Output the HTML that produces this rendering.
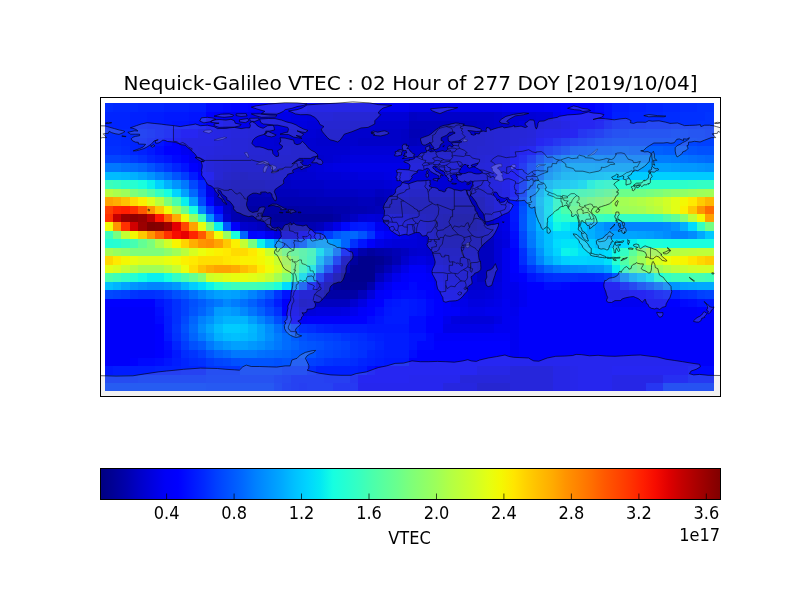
<!DOCTYPE html>
<html><head><meta charset="utf-8"><title>Nequick-Galileo VTEC</title>
<style>html,body{margin:0;padding:0;background:#fff;width:800px;height:600px;overflow:hidden}</style></head>
<body>
<svg width="800" height="600" viewBox="0 0 800 600" style="position:absolute;left:0;top:0">
<defs><clipPath id="ax"><rect x="100.5" y="97.5" width="620" height="299"/></clipPath>
<linearGradient id="jet" x1="0" x2="1" y1="0" y2="0"><stop offset="0.0000" stop-color="#000080"/><stop offset="0.0208" stop-color="#000096"/><stop offset="0.0417" stop-color="#0000ad"/><stop offset="0.0625" stop-color="#0000c8"/><stop offset="0.0833" stop-color="#0000df"/><stop offset="0.1042" stop-color="#0000f6"/><stop offset="0.1250" stop-color="#0000ff"/><stop offset="0.1458" stop-color="#0014ff"/><stop offset="0.1667" stop-color="#0028ff"/><stop offset="0.1875" stop-color="#0040ff"/><stop offset="0.2083" stop-color="#0054ff"/><stop offset="0.2292" stop-color="#0068ff"/><stop offset="0.2500" stop-color="#0080ff"/><stop offset="0.2708" stop-color="#0094ff"/><stop offset="0.2917" stop-color="#00a8ff"/><stop offset="0.3125" stop-color="#00c0ff"/><stop offset="0.3333" stop-color="#00d4ff"/><stop offset="0.3542" stop-color="#02e8f4"/><stop offset="0.3750" stop-color="#16ffe1"/><stop offset="0.3958" stop-color="#26ffd1"/><stop offset="0.4167" stop-color="#36ffc1"/><stop offset="0.4375" stop-color="#49ffad"/><stop offset="0.4583" stop-color="#5aff9d"/><stop offset="0.4792" stop-color="#6aff8d"/><stop offset="0.5000" stop-color="#7dff7a"/><stop offset="0.5208" stop-color="#8dff6a"/><stop offset="0.5417" stop-color="#9dff5a"/><stop offset="0.5625" stop-color="#b1ff46"/><stop offset="0.5833" stop-color="#c1ff36"/><stop offset="0.6042" stop-color="#d1ff26"/><stop offset="0.6250" stop-color="#e4ff13"/><stop offset="0.6458" stop-color="#f4f802"/><stop offset="0.6667" stop-color="#ffe600"/><stop offset="0.6875" stop-color="#ffd000"/><stop offset="0.7083" stop-color="#ffbd00"/><stop offset="0.7292" stop-color="#ffab00"/><stop offset="0.7500" stop-color="#ff9400"/><stop offset="0.7708" stop-color="#ff8200"/><stop offset="0.7917" stop-color="#ff6f00"/><stop offset="0.8125" stop-color="#ff5900"/><stop offset="0.8333" stop-color="#ff4700"/><stop offset="0.8542" stop-color="#ff3400"/><stop offset="0.8750" stop-color="#ff1e00"/><stop offset="0.8958" stop-color="#f60b00"/><stop offset="0.9167" stop-color="#df0000"/><stop offset="0.9375" stop-color="#c40000"/><stop offset="0.9583" stop-color="#ad0000"/><stop offset="0.9792" stop-color="#960000"/><stop offset="1.0000" stop-color="#800000"/></linearGradient></defs>
<rect x="0" y="0" width="800" height="600" fill="#fff"/>
<g shape-rendering="crispEdges">
<g transform="translate(105,103)"><rect height="9" x="0" width="8" fill="#002cff"/><rect height="9" x="8" width="25" fill="#0028ff"/><rect height="9" x="33" width="26" fill="#0024ff"/><rect height="9" x="59" width="25" fill="#0020ff"/><rect height="9" x="84" width="17" fill="#001cff"/><rect height="9" x="101" width="17" fill="#000cff"/><rect height="9" x="118" width="8" fill="#0008ff"/><rect height="9" x="126" width="17" fill="#0004ff"/><rect height="9" x="143" width="59" fill="#0000ff"/><rect height="9" x="202" width="102" fill="#0000f1"/><rect height="9" x="304" width="25" fill="#0000e8"/><rect height="9" x="329" width="68" fill="#0000ed"/><rect height="9" x="397" width="8" fill="#0000f1"/><rect height="9" x="405" width="34" fill="#0000f6"/><rect height="9" x="439" width="17" fill="#0000fa"/><rect height="9" x="456" width="34" fill="#0000ff"/><rect height="9" x="490" width="9" fill="#0008ff"/><rect height="9" x="499" width="8" fill="#0010ff"/><rect height="9" x="507" width="17" fill="#001cff"/><rect height="9" x="524" width="17" fill="#0020ff"/><rect height="9" x="541" width="17" fill="#0024ff"/><rect height="9" x="558" width="17" fill="#0028ff"/><rect height="9" x="575" width="17" fill="#002cff"/><rect height="9" x="592" width="17" fill="#0030ff"/></g>
<g transform="translate(105,112)"><rect height="9" x="0" width="25" fill="#0024ff"/><rect height="9" x="25" width="17" fill="#0020ff"/><rect height="9" x="42" width="17" fill="#001cff"/><rect height="9" x="59" width="25" fill="#0018ff"/><rect height="9" x="84" width="17" fill="#0014ff"/><rect height="9" x="101" width="8" fill="#0000ff"/><rect height="9" x="109" width="9" fill="#0000fa"/><rect height="9" x="118" width="34" fill="#0000ed"/><rect height="9" x="152" width="34" fill="#0000e8"/><rect height="9" x="186" width="16" fill="#0000e3"/><rect height="9" x="202" width="26" fill="#0000df"/><rect height="9" x="228" width="42" fill="#0000da"/><rect height="9" x="270" width="34" fill="#0000d6"/><rect height="9" x="304" width="8" fill="#0000c4"/><rect height="9" x="312" width="77" fill="#0000c8"/><rect height="9" x="389" width="8" fill="#0000cd"/><rect height="9" x="397" width="34" fill="#0000d6"/><rect height="9" x="431" width="17" fill="#0000da"/><rect height="9" x="448" width="8" fill="#0000f1"/><rect height="9" x="456" width="9" fill="#0000fa"/><rect height="9" x="465" width="34" fill="#0000ff"/><rect height="9" x="499" width="8" fill="#0010ff"/><rect height="9" x="507" width="17" fill="#0020ff"/><rect height="9" x="524" width="17" fill="#0024ff"/><rect height="9" x="541" width="17" fill="#0028ff"/><rect height="9" x="558" width="17" fill="#002cff"/><rect height="9" x="575" width="25" fill="#0030ff"/><rect height="9" x="600" width="9" fill="#0034ff"/></g>
<g transform="translate(105,121)"><rect height="8" x="0" width="25" fill="#0024ff"/><rect height="8" x="25" width="17" fill="#0020ff"/><rect height="8" x="42" width="17" fill="#001cff"/><rect height="8" x="59" width="8" fill="#0018ff"/><rect height="8" x="67" width="17" fill="#0014ff"/><rect height="8" x="84" width="9" fill="#0010ff"/><rect height="8" x="93" width="8" fill="#000cff"/><rect height="8" x="101" width="8" fill="#0000ff"/><rect height="8" x="109" width="9" fill="#0000fa"/><rect height="8" x="118" width="25" fill="#0000ed"/><rect height="8" x="143" width="26" fill="#0000e8"/><rect height="8" x="169" width="17" fill="#0000e3"/><rect height="8" x="186" width="16" fill="#0000df"/><rect height="8" x="202" width="17" fill="#0000da"/><rect height="8" x="219" width="26" fill="#0000d6"/><rect height="8" x="245" width="25" fill="#0000d1"/><rect height="8" x="270" width="34" fill="#0000cd"/><rect height="8" x="304" width="42" fill="#0000bb"/><rect height="8" x="346" width="26" fill="#0000bf"/><rect height="8" x="372" width="8" fill="#0000c4"/><rect height="8" x="380" width="9" fill="#0000c8"/><rect height="8" x="389" width="8" fill="#0000cd"/><rect height="8" x="397" width="8" fill="#0000d1"/><rect height="8" x="405" width="9" fill="#0000d6"/><rect height="8" x="414" width="8" fill="#0000df"/><rect height="8" x="422" width="17" fill="#0000e3"/><rect height="8" x="439" width="17" fill="#0000e8"/><rect height="8" x="456" width="9" fill="#0000f1"/><rect height="8" x="465" width="8" fill="#0000fa"/><rect height="8" x="473" width="17" fill="#0000ff"/><rect height="8" x="490" width="9" fill="#0008ff"/><rect height="8" x="499" width="8" fill="#0018ff"/><rect height="8" x="507" width="8" fill="#0024ff"/><rect height="8" x="515" width="26" fill="#0028ff"/><rect height="8" x="541" width="25" fill="#002cff"/><rect height="8" x="566" width="26" fill="#0030ff"/><rect height="8" x="592" width="17" fill="#0034ff"/></g>
<g transform="translate(105,129)"><rect height="9" x="0" width="16" fill="#002cff"/><rect height="9" x="16" width="26" fill="#0028ff"/><rect height="9" x="42" width="8" fill="#0024ff"/><rect height="9" x="50" width="9" fill="#001cff"/><rect height="9" x="59" width="8" fill="#0014ff"/><rect height="9" x="67" width="9" fill="#0008ff"/><rect height="9" x="76" width="17" fill="#0000ff"/><rect height="9" x="93" width="16" fill="#0000f1"/><rect height="9" x="109" width="9" fill="#0000ed"/><rect height="9" x="118" width="8" fill="#0000e8"/><rect height="9" x="126" width="17" fill="#0000e3"/><rect height="9" x="143" width="17" fill="#0000df"/><rect height="9" x="160" width="17" fill="#0000da"/><rect height="9" x="177" width="34" fill="#0000d6"/><rect height="9" x="211" width="34" fill="#0000d1"/><rect height="9" x="245" width="25" fill="#0000cd"/><rect height="9" x="270" width="26" fill="#0000c8"/><rect height="9" x="296" width="8" fill="#0000c4"/><rect height="9" x="304" width="17" fill="#0000b6"/><rect height="9" x="321" width="17" fill="#0000bb"/><rect height="9" x="338" width="8" fill="#0000bf"/><rect height="9" x="346" width="9" fill="#0000c8"/><rect height="9" x="355" width="8" fill="#0000cd"/><rect height="9" x="363" width="17" fill="#0000d1"/><rect height="9" x="380" width="9" fill="#0000d6"/><rect height="9" x="389" width="16" fill="#0000da"/><rect height="9" x="405" width="17" fill="#0000df"/><rect height="9" x="422" width="9" fill="#0000e3"/><rect height="9" x="431" width="8" fill="#0000f1"/><rect height="9" x="439" width="17" fill="#0000f6"/><rect height="9" x="456" width="9" fill="#0000fa"/><rect height="9" x="465" width="8" fill="#0000ff"/><rect height="9" x="473" width="9" fill="#0014ff"/><rect height="9" x="482" width="8" fill="#001cff"/><rect height="9" x="490" width="9" fill="#0024ff"/><rect height="9" x="499" width="8" fill="#0030ff"/><rect height="9" x="507" width="17" fill="#0038ff"/><rect height="9" x="524" width="42" fill="#003cff"/><rect height="9" x="566" width="17" fill="#0040ff"/><rect height="9" x="583" width="17" fill="#003cff"/><rect height="9" x="600" width="9" fill="#0038ff"/></g>
<g transform="translate(105,138)"><rect height="8" x="0" width="16" fill="#002cff"/><rect height="8" x="16" width="9" fill="#0028ff"/><rect height="8" x="25" width="17" fill="#0024ff"/><rect height="8" x="42" width="8" fill="#001cff"/><rect height="8" x="50" width="9" fill="#0014ff"/><rect height="8" x="59" width="8" fill="#0008ff"/><rect height="8" x="67" width="9" fill="#0000ff"/><rect height="8" x="76" width="8" fill="#0000f1"/><rect height="8" x="84" width="25" fill="#0000ed"/><rect height="8" x="109" width="9" fill="#0000e8"/><rect height="8" x="118" width="8" fill="#0000e3"/><rect height="8" x="126" width="17" fill="#0000df"/><rect height="8" x="143" width="9" fill="#0000da"/><rect height="8" x="152" width="17" fill="#0000d6"/><rect height="8" x="169" width="42" fill="#0000d1"/><rect height="8" x="211" width="42" fill="#0000cd"/><rect height="8" x="253" width="43" fill="#0000c8"/><rect height="8" x="296" width="8" fill="#0000c4"/><rect height="8" x="304" width="8" fill="#0000bb"/><rect height="8" x="312" width="26" fill="#0000bf"/><rect height="8" x="338" width="8" fill="#0000c4"/><rect height="8" x="346" width="9" fill="#0000c8"/><rect height="8" x="355" width="8" fill="#0000cd"/><rect height="8" x="363" width="17" fill="#0000d1"/><rect height="8" x="380" width="9" fill="#0000d6"/><rect height="8" x="389" width="16" fill="#0000da"/><rect height="8" x="405" width="9" fill="#0000df"/><rect height="8" x="414" width="8" fill="#0000e3"/><rect height="8" x="422" width="9" fill="#0000e8"/><rect height="8" x="431" width="8" fill="#0000ff"/><rect height="8" x="439" width="9" fill="#0008ff"/><rect height="8" x="448" width="8" fill="#0014ff"/><rect height="8" x="456" width="9" fill="#0020ff"/><rect height="8" x="465" width="8" fill="#0028ff"/><rect height="8" x="473" width="9" fill="#0030ff"/><rect height="8" x="482" width="8" fill="#0038ff"/><rect height="8" x="490" width="9" fill="#0040ff"/><rect height="8" x="499" width="8" fill="#0044ff"/><rect height="8" x="507" width="68" fill="#0048ff"/><rect height="8" x="575" width="17" fill="#0044ff"/><rect height="8" x="592" width="17" fill="#0040ff"/></g>
<g transform="translate(105,146)"><rect height="9" x="0" width="16" fill="#0030ff"/><rect height="9" x="16" width="9" fill="#002cff"/><rect height="9" x="25" width="8" fill="#0024ff"/><rect height="9" x="33" width="9" fill="#0020ff"/><rect height="9" x="42" width="8" fill="#0018ff"/><rect height="9" x="50" width="9" fill="#000cff"/><rect height="9" x="59" width="17" fill="#0000ff"/><rect height="9" x="76" width="8" fill="#0000f1"/><rect height="9" x="84" width="9" fill="#0000ed"/><rect height="9" x="93" width="16" fill="#0000e8"/><rect height="9" x="109" width="17" fill="#0000e3"/><rect height="9" x="126" width="17" fill="#0000df"/><rect height="9" x="143" width="17" fill="#0000da"/><rect height="9" x="160" width="26" fill="#0000d6"/><rect height="9" x="186" width="59" fill="#0000d1"/><rect height="9" x="245" width="59" fill="#0000d6"/><rect height="9" x="304" width="51" fill="#0000cd"/><rect height="9" x="355" width="17" fill="#0000d1"/><rect height="9" x="372" width="17" fill="#0000d6"/><rect height="9" x="389" width="8" fill="#0000da"/><rect height="9" x="397" width="8" fill="#0000df"/><rect height="9" x="405" width="9" fill="#0000ed"/><rect height="9" x="414" width="8" fill="#0000fa"/><rect height="9" x="422" width="9" fill="#0004ff"/><rect height="9" x="431" width="8" fill="#001cff"/><rect height="9" x="439" width="9" fill="#002cff"/><rect height="9" x="448" width="8" fill="#0038ff"/><rect height="9" x="456" width="9" fill="#0044ff"/><rect height="9" x="465" width="8" fill="#0054ff"/><rect height="9" x="473" width="9" fill="#0058ff"/><rect height="9" x="482" width="8" fill="#005cff"/><rect height="9" x="490" width="17" fill="#0060ff"/><rect height="9" x="507" width="17" fill="#0064ff"/><rect height="9" x="524" width="34" fill="#0060ff"/><rect height="9" x="558" width="17" fill="#005cff"/><rect height="9" x="575" width="8" fill="#0058ff"/><rect height="9" x="583" width="9" fill="#0054ff"/><rect height="9" x="592" width="17" fill="#0050ff"/></g>
<g transform="translate(105,155)"><rect height="8" x="0" width="16" fill="#0044ff"/><rect height="8" x="16" width="9" fill="#0040ff"/><rect height="8" x="25" width="8" fill="#0038ff"/><rect height="8" x="33" width="9" fill="#0030ff"/><rect height="8" x="42" width="8" fill="#0024ff"/><rect height="8" x="50" width="9" fill="#001cff"/><rect height="8" x="59" width="8" fill="#0014ff"/><rect height="8" x="67" width="9" fill="#0008ff"/><rect height="8" x="76" width="8" fill="#0000ff"/><rect height="8" x="84" width="9" fill="#0000f1"/><rect height="8" x="93" width="8" fill="#0000ed"/><rect height="8" x="101" width="8" fill="#0000e3"/><rect height="8" x="109" width="9" fill="#0000df"/><rect height="8" x="118" width="17" fill="#0000da"/><rect height="8" x="135" width="34" fill="#0000d6"/><rect height="8" x="169" width="25" fill="#0000d1"/><rect height="8" x="194" width="25" fill="#0000cd"/><rect height="8" x="219" width="9" fill="#0000d1"/><rect height="8" x="228" width="8" fill="#0000d6"/><rect height="8" x="236" width="9" fill="#0000da"/><rect height="8" x="245" width="59" fill="#0000df"/><rect height="8" x="304" width="17" fill="#0000da"/><rect height="8" x="321" width="42" fill="#0000d6"/><rect height="8" x="363" width="17" fill="#0000da"/><rect height="8" x="380" width="17" fill="#0000df"/><rect height="8" x="397" width="8" fill="#0000e3"/><rect height="8" x="405" width="9" fill="#0000fa"/><rect height="8" x="414" width="8" fill="#000cff"/><rect height="8" x="422" width="9" fill="#0024ff"/><rect height="8" x="431" width="8" fill="#0044ff"/><rect height="8" x="439" width="9" fill="#005cff"/><rect height="8" x="448" width="8" fill="#0070ff"/><rect height="8" x="456" width="9" fill="#0080ff"/><rect height="8" x="465" width="34" fill="#0088ff"/><rect height="8" x="499" width="25" fill="#0084ff"/><rect height="8" x="524" width="25" fill="#0080ff"/><rect height="8" x="549" width="17" fill="#007cff"/><rect height="8" x="566" width="9" fill="#0078ff"/><rect height="8" x="575" width="8" fill="#0074ff"/><rect height="8" x="583" width="9" fill="#0070ff"/><rect height="8" x="592" width="8" fill="#006cff"/><rect height="8" x="600" width="9" fill="#0068ff"/></g>
<g transform="translate(105,163)"><rect height="9" x="0" width="16" fill="#0078ff"/><rect height="9" x="16" width="9" fill="#0070ff"/><rect height="9" x="25" width="8" fill="#006cff"/><rect height="9" x="33" width="9" fill="#0064ff"/><rect height="9" x="42" width="8" fill="#0054ff"/><rect height="9" x="50" width="9" fill="#0044ff"/><rect height="9" x="59" width="8" fill="#0034ff"/><rect height="9" x="67" width="9" fill="#0024ff"/><rect height="9" x="76" width="8" fill="#0014ff"/><rect height="9" x="84" width="9" fill="#0000ff"/><rect height="9" x="93" width="8" fill="#0000f1"/><rect height="9" x="101" width="8" fill="#0000e3"/><rect height="9" x="109" width="9" fill="#0000da"/><rect height="9" x="118" width="8" fill="#0000d6"/><rect height="9" x="126" width="34" fill="#0000d1"/><rect height="9" x="160" width="26" fill="#0000cd"/><rect height="9" x="186" width="16" fill="#0000c8"/><rect height="9" x="202" width="9" fill="#0000d6"/><rect height="9" x="211" width="8" fill="#0000da"/><rect height="9" x="219" width="9" fill="#0000df"/><rect height="9" x="228" width="17" fill="#0000e3"/><rect height="9" x="245" width="59" fill="#0000e8"/><rect height="9" x="304" width="17" fill="#0000e3"/><rect height="9" x="321" width="17" fill="#0000df"/><rect height="9" x="338" width="25" fill="#0000da"/><rect height="9" x="363" width="17" fill="#0000df"/><rect height="9" x="380" width="17" fill="#0000e3"/><rect height="9" x="397" width="8" fill="#0000e8"/><rect height="9" x="405" width="9" fill="#0000ff"/><rect height="9" x="414" width="8" fill="#001cff"/><rect height="9" x="422" width="9" fill="#0040ff"/><rect height="9" x="431" width="8" fill="#0064ff"/><rect height="9" x="439" width="9" fill="#0084ff"/><rect height="9" x="448" width="8" fill="#0094ff"/><rect height="9" x="456" width="9" fill="#00a4ff"/><rect height="9" x="465" width="25" fill="#00a8ff"/><rect height="9" x="490" width="42" fill="#00a4ff"/><rect height="9" x="532" width="34" fill="#00a0ff"/><rect height="9" x="566" width="9" fill="#009cff"/><rect height="9" x="575" width="17" fill="#0098ff"/><rect height="9" x="592" width="8" fill="#0094ff"/><rect height="9" x="600" width="9" fill="#0090ff"/></g>
<g transform="translate(105,172)"><rect height="8" x="0" width="16" fill="#00bcff"/><rect height="8" x="16" width="9" fill="#00b8ff"/><rect height="8" x="25" width="8" fill="#00b0ff"/><rect height="8" x="33" width="9" fill="#00a4ff"/><rect height="8" x="42" width="8" fill="#0094ff"/><rect height="8" x="50" width="9" fill="#0080ff"/><rect height="8" x="59" width="8" fill="#006cff"/><rect height="8" x="67" width="9" fill="#0054ff"/><rect height="8" x="76" width="8" fill="#003cff"/><rect height="8" x="84" width="9" fill="#001cff"/><rect height="8" x="93" width="8" fill="#0000ff"/><rect height="8" x="101" width="8" fill="#0000fa"/><rect height="8" x="109" width="9" fill="#0000da"/><rect height="8" x="118" width="8" fill="#0000cd"/><rect height="8" x="126" width="9" fill="#0000c8"/><rect height="8" x="135" width="8" fill="#0000c4"/><rect height="8" x="143" width="26" fill="#0000c8"/><rect height="8" x="169" width="17" fill="#0000cd"/><rect height="8" x="186" width="25" fill="#0000d1"/><rect height="8" x="211" width="25" fill="#0000d6"/><rect height="8" x="236" width="17" fill="#0000da"/><rect height="8" x="253" width="26" fill="#0000df"/><rect height="8" x="279" width="8" fill="#0000e3"/><rect height="8" x="287" width="17" fill="#0000e8"/><rect height="8" x="304" width="85" fill="#0000da"/><rect height="8" x="389" width="8" fill="#0000e8"/><rect height="8" x="397" width="8" fill="#0000f1"/><rect height="8" x="405" width="9" fill="#0000ff"/><rect height="8" x="414" width="8" fill="#001cff"/><rect height="8" x="422" width="9" fill="#0040ff"/><rect height="8" x="431" width="8" fill="#0070ff"/><rect height="8" x="439" width="9" fill="#0094ff"/><rect height="8" x="448" width="8" fill="#00a8ff"/><rect height="8" x="456" width="9" fill="#00b8ff"/><rect height="8" x="465" width="8" fill="#00bcff"/><rect height="8" x="473" width="17" fill="#00c0ff"/><rect height="8" x="490" width="9" fill="#00c4ff"/><rect height="8" x="499" width="8" fill="#00c8ff"/><rect height="8" x="507" width="42" fill="#00ccff"/><rect height="8" x="549" width="26" fill="#00d0ff"/><rect height="8" x="575" width="34" fill="#00ccff"/></g>
<g transform="translate(105,180)"><rect height="9" x="0" width="8" fill="#3cffba"/><rect height="9" x="8" width="8" fill="#36ffc1"/><rect height="9" x="16" width="9" fill="#2cffca"/><rect height="9" x="25" width="8" fill="#26ffd1"/><rect height="9" x="33" width="9" fill="#19ffde"/><rect height="9" x="42" width="8" fill="#09f0ee"/><rect height="9" x="50" width="9" fill="#00d0ff"/><rect height="9" x="59" width="8" fill="#00b0ff"/><rect height="9" x="67" width="9" fill="#0094ff"/><rect height="9" x="76" width="8" fill="#0078ff"/><rect height="9" x="84" width="9" fill="#0048ff"/><rect height="9" x="93" width="8" fill="#0024ff"/><rect height="9" x="101" width="8" fill="#0000e3"/><rect height="9" x="109" width="9" fill="#0000c8"/><rect height="9" x="118" width="8" fill="#0000c4"/><rect height="9" x="126" width="34" fill="#0000bf"/><rect height="9" x="160" width="26" fill="#0000c4"/><rect height="9" x="186" width="33" fill="#0000c8"/><rect height="9" x="219" width="26" fill="#0000cd"/><rect height="9" x="245" width="34" fill="#0000d1"/><rect height="9" x="279" width="8" fill="#0000d6"/><rect height="9" x="287" width="9" fill="#0000da"/><rect height="9" x="296" width="8" fill="#0000df"/><rect height="9" x="304" width="76" fill="#0000d6"/><rect height="9" x="380" width="9" fill="#0000e3"/><rect height="9" x="389" width="8" fill="#0000e8"/><rect height="9" x="397" width="8" fill="#0000f1"/><rect height="9" x="405" width="9" fill="#0008ff"/><rect height="9" x="414" width="8" fill="#0030ff"/><rect height="9" x="422" width="9" fill="#0064ff"/><rect height="9" x="431" width="8" fill="#0094ff"/><rect height="9" x="439" width="9" fill="#00b8ff"/><rect height="9" x="448" width="8" fill="#00c8ff"/><rect height="9" x="456" width="9" fill="#00ccff"/><rect height="9" x="465" width="8" fill="#00d4ff"/><rect height="9" x="473" width="9" fill="#00e0fb"/><rect height="9" x="482" width="8" fill="#0ff8e7"/><rect height="9" x="490" width="9" fill="#1fffd7"/><rect height="9" x="499" width="16" fill="#26ffd1"/><rect height="9" x="515" width="68" fill="#2cffca"/><rect height="9" x="583" width="9" fill="#30ffc7"/><rect height="9" x="592" width="17" fill="#33ffc4"/></g>
<g transform="translate(105,189)"><rect height="8" x="0" width="8" fill="#b7ff40"/><rect height="8" x="8" width="8" fill="#aaff4d"/><rect height="8" x="16" width="9" fill="#9dff5a"/><rect height="8" x="25" width="8" fill="#7dff7a"/><rect height="8" x="33" width="9" fill="#6dff8a"/><rect height="8" x="42" width="8" fill="#53ffa4"/><rect height="8" x="50" width="9" fill="#33ffc4"/><rect height="8" x="59" width="8" fill="#16ffe1"/><rect height="8" x="67" width="9" fill="#00d4ff"/><rect height="8" x="76" width="8" fill="#00a0ff"/><rect height="8" x="84" width="9" fill="#0068ff"/><rect height="8" x="93" width="8" fill="#0030ff"/><rect height="8" x="101" width="8" fill="#0000e8"/><rect height="8" x="109" width="9" fill="#0000c8"/><rect height="8" x="118" width="8" fill="#0000bf"/><rect height="8" x="126" width="9" fill="#0000bb"/><rect height="8" x="135" width="25" fill="#0000b6"/><rect height="8" x="160" width="34" fill="#0000bb"/><rect height="8" x="194" width="25" fill="#0000bf"/><rect height="8" x="219" width="34" fill="#0000c4"/><rect height="8" x="253" width="17" fill="#0000c8"/><rect height="8" x="270" width="9" fill="#0000bf"/><rect height="8" x="279" width="8" fill="#0000c4"/><rect height="8" x="287" width="9" fill="#0000cd"/><rect height="8" x="296" width="8" fill="#0000d1"/><rect height="8" x="304" width="76" fill="#0000c8"/><rect height="8" x="380" width="9" fill="#0000d6"/><rect height="8" x="389" width="8" fill="#0000e3"/><rect height="8" x="397" width="8" fill="#0000ed"/><rect height="8" x="405" width="9" fill="#0008ff"/><rect height="8" x="414" width="8" fill="#0038ff"/><rect height="8" x="422" width="9" fill="#0078ff"/><rect height="8" x="431" width="8" fill="#00b0ff"/><rect height="8" x="439" width="9" fill="#00d4ff"/><rect height="8" x="448" width="8" fill="#0ff8e7"/><rect height="8" x="456" width="9" fill="#23ffd4"/><rect height="8" x="465" width="8" fill="#30ffc7"/><rect height="8" x="473" width="9" fill="#3cffba"/><rect height="8" x="482" width="8" fill="#43ffb4"/><rect height="8" x="490" width="9" fill="#50ffa7"/><rect height="8" x="499" width="8" fill="#5aff9d"/><rect height="8" x="507" width="8" fill="#63ff94"/><rect height="8" x="515" width="17" fill="#6dff8a"/><rect height="8" x="532" width="9" fill="#70ff87"/><rect height="8" x="541" width="8" fill="#77ff80"/><rect height="8" x="549" width="9" fill="#7dff7a"/><rect height="8" x="558" width="8" fill="#87ff70"/><rect height="8" x="566" width="9" fill="#8dff6a"/><rect height="8" x="575" width="8" fill="#90ff66"/><rect height="8" x="583" width="9" fill="#97ff60"/><rect height="8" x="592" width="8" fill="#9dff5a"/><rect height="8" x="600" width="9" fill="#a0ff56"/></g>
<g transform="translate(105,197)"><rect height="9" x="0" width="8" fill="#ffa300"/><rect height="9" x="8" width="8" fill="#ffae00"/><rect height="9" x="16" width="9" fill="#ffc100"/><rect height="9" x="25" width="8" fill="#ffdb00"/><rect height="9" x="33" width="9" fill="#fbf100"/><rect height="9" x="42" width="8" fill="#deff19"/><rect height="9" x="50" width="9" fill="#b7ff40"/><rect height="9" x="59" width="8" fill="#7dff7a"/><rect height="9" x="67" width="9" fill="#49ffad"/><rect height="9" x="76" width="8" fill="#09f0ee"/><rect height="9" x="84" width="9" fill="#00a0ff"/><rect height="9" x="93" width="8" fill="#0048ff"/><rect height="9" x="101" width="8" fill="#0004ff"/><rect height="9" x="109" width="9" fill="#0000c8"/><rect height="9" x="118" width="17" fill="#0000bb"/><rect height="9" x="135" width="34" fill="#0000ad"/><rect height="9" x="169" width="42" fill="#0000b2"/><rect height="9" x="211" width="42" fill="#0000b6"/><rect height="9" x="253" width="17" fill="#0000bb"/><rect height="9" x="270" width="9" fill="#0000b2"/><rect height="9" x="279" width="8" fill="#0000bb"/><rect height="9" x="287" width="9" fill="#0000bf"/><rect height="9" x="296" width="8" fill="#0000c4"/><rect height="9" x="304" width="76" fill="#0000bb"/><rect height="9" x="380" width="9" fill="#0000cd"/><rect height="9" x="389" width="8" fill="#0000df"/><rect height="9" x="397" width="8" fill="#0000e8"/><rect height="9" x="405" width="9" fill="#0014ff"/><rect height="9" x="414" width="8" fill="#0048ff"/><rect height="9" x="422" width="9" fill="#0088ff"/><rect height="9" x="431" width="8" fill="#00bcff"/><rect height="9" x="439" width="9" fill="#00e0fb"/><rect height="9" x="448" width="8" fill="#26ffd1"/><rect height="9" x="456" width="9" fill="#43ffb4"/><rect height="9" x="465" width="8" fill="#56ffa0"/><rect height="9" x="473" width="9" fill="#66ff90"/><rect height="9" x="482" width="8" fill="#73ff83"/><rect height="9" x="490" width="9" fill="#7dff7a"/><rect height="9" x="499" width="8" fill="#87ff70"/><rect height="9" x="507" width="8" fill="#9dff5a"/><rect height="9" x="515" width="9" fill="#a4ff53"/><rect height="9" x="524" width="8" fill="#aaff4d"/><rect height="9" x="532" width="9" fill="#b1ff46"/><rect height="9" x="541" width="8" fill="#baff3c"/><rect height="9" x="549" width="9" fill="#c4ff33"/><rect height="9" x="558" width="8" fill="#d1ff26"/><rect height="9" x="566" width="9" fill="#e1ff16"/><rect height="9" x="575" width="8" fill="#f4f802"/><rect height="9" x="583" width="9" fill="#ffea00"/><rect height="9" x="592" width="8" fill="#ffcc00"/><rect height="9" x="600" width="9" fill="#ffb600"/></g>
<g transform="translate(105,206)"><rect height="8" x="0" width="8" fill="#ff3f00"/><rect height="8" x="8" width="8" fill="#ff2500"/><rect height="8" x="16" width="9" fill="#ff1e00"/><rect height="8" x="25" width="8" fill="#ff3000"/><rect height="8" x="33" width="9" fill="#ff5900"/><rect height="8" x="42" width="8" fill="#ff9400"/><rect height="8" x="50" width="9" fill="#ffc800"/><rect height="8" x="59" width="8" fill="#f1fc06"/><rect height="8" x="67" width="9" fill="#aaff4d"/><rect height="8" x="76" width="8" fill="#6dff8a"/><rect height="8" x="84" width="9" fill="#16ffe1"/><rect height="8" x="93" width="8" fill="#0088ff"/><rect height="8" x="101" width="8" fill="#0038ff"/><rect height="8" x="109" width="9" fill="#0004ff"/><rect height="8" x="118" width="8" fill="#0000c4"/><rect height="8" x="126" width="9" fill="#0000b2"/><rect height="8" x="135" width="8" fill="#0000a8"/><rect height="8" x="143" width="51" fill="#0000a4"/><rect height="8" x="194" width="34" fill="#0000a8"/><rect height="8" x="228" width="17" fill="#0000ad"/><rect height="8" x="245" width="17" fill="#0000b2"/><rect height="8" x="262" width="8" fill="#0000b6"/><rect height="8" x="270" width="76" fill="#0000bb"/><rect height="8" x="346" width="26" fill="#0000b2"/><rect height="8" x="372" width="8" fill="#0000bb"/><rect height="8" x="380" width="9" fill="#0000c8"/><rect height="8" x="389" width="8" fill="#0000df"/><rect height="8" x="397" width="8" fill="#0000e8"/><rect height="8" x="405" width="9" fill="#0018ff"/><rect height="8" x="414" width="8" fill="#0050ff"/><rect height="8" x="422" width="9" fill="#0084ff"/><rect height="8" x="431" width="8" fill="#00b4ff"/><rect height="8" x="439" width="9" fill="#00e4f8"/><rect height="8" x="448" width="8" fill="#2cffca"/><rect height="8" x="456" width="9" fill="#49ffad"/><rect height="8" x="465" width="8" fill="#66ff90"/><rect height="8" x="473" width="9" fill="#77ff80"/><rect height="8" x="482" width="8" fill="#7dff7a"/><rect height="8" x="490" width="9" fill="#80ff77"/><rect height="8" x="499" width="8" fill="#87ff70"/><rect height="8" x="507" width="8" fill="#94ff63"/><rect height="8" x="515" width="9" fill="#9dff5a"/><rect height="8" x="524" width="8" fill="#a0ff56"/><rect height="8" x="532" width="9" fill="#a4ff53"/><rect height="8" x="541" width="8" fill="#b1ff46"/><rect height="8" x="549" width="9" fill="#baff3c"/><rect height="8" x="558" width="8" fill="#ceff29"/><rect height="8" x="566" width="9" fill="#e1ff16"/><rect height="8" x="575" width="8" fill="#fbf100"/><rect height="8" x="583" width="9" fill="#ffc800"/><rect height="8" x="592" width="8" fill="#ff9400"/><rect height="8" x="600" width="9" fill="#ff6c00"/></g>
<g transform="translate(105,214)"><rect height="8" x="0" width="8" fill="#ff3000"/><rect height="8" x="8" width="8" fill="#c40000"/><rect height="8" x="16" width="9" fill="#960000"/><rect height="8" x="25" width="8" fill="#8d0000"/><rect height="8" x="33" width="9" fill="#960000"/><rect height="8" x="42" width="8" fill="#bb0000"/><rect height="8" x="50" width="9" fill="#ff1600"/><rect height="8" x="59" width="8" fill="#ff6400"/><rect height="8" x="67" width="9" fill="#ffab00"/><rect height="8" x="76" width="8" fill="#f1fc06"/><rect height="8" x="84" width="9" fill="#97ff60"/><rect height="8" x="93" width="8" fill="#3cffba"/><rect height="8" x="101" width="8" fill="#0094ff"/><rect height="8" x="109" width="9" fill="#0030ff"/><rect height="8" x="118" width="8" fill="#0000d1"/><rect height="8" x="126" width="9" fill="#0000b2"/><rect height="8" x="135" width="8" fill="#0000a8"/><rect height="8" x="143" width="9" fill="#0000a4"/><rect height="8" x="152" width="17" fill="#00009f"/><rect height="8" x="169" width="59" fill="#00009b"/><rect height="8" x="228" width="8" fill="#0000a4"/><rect height="8" x="236" width="9" fill="#0000b6"/><rect height="8" x="245" width="8" fill="#0000c4"/><rect height="8" x="253" width="9" fill="#0000d6"/><rect height="8" x="262" width="8" fill="#0000da"/><rect height="8" x="270" width="9" fill="#0000d6"/><rect height="8" x="279" width="8" fill="#0000da"/><rect height="8" x="287" width="9" fill="#0000d6"/><rect height="8" x="296" width="8" fill="#0000d1"/><rect height="8" x="304" width="8" fill="#0000c8"/><rect height="8" x="312" width="9" fill="#0000c4"/><rect height="8" x="321" width="8" fill="#0000bf"/><rect height="8" x="329" width="9" fill="#0000b6"/><rect height="8" x="338" width="8" fill="#0000b2"/><rect height="8" x="346" width="26" fill="#0000a8"/><rect height="8" x="372" width="8" fill="#0000b6"/><rect height="8" x="380" width="9" fill="#0000c8"/><rect height="8" x="389" width="8" fill="#0000df"/><rect height="8" x="397" width="8" fill="#0000e8"/><rect height="8" x="405" width="9" fill="#0018ff"/><rect height="8" x="414" width="8" fill="#0054ff"/><rect height="8" x="422" width="9" fill="#0088ff"/><rect height="8" x="431" width="8" fill="#00b4ff"/><rect height="8" x="439" width="9" fill="#00e0fb"/><rect height="8" x="448" width="8" fill="#23ffd4"/><rect height="8" x="456" width="9" fill="#2cffca"/><rect height="8" x="465" width="8" fill="#36ffc1"/><rect height="8" x="473" width="17" fill="#3cffba"/><rect height="8" x="490" width="9" fill="#39ffbe"/><rect height="8" x="499" width="50" fill="#33ffc4"/><rect height="8" x="549" width="9" fill="#39ffbe"/><rect height="8" x="558" width="8" fill="#50ffa7"/><rect height="8" x="566" width="9" fill="#63ff94"/><rect height="8" x="575" width="8" fill="#87ff70"/><rect height="8" x="583" width="9" fill="#beff39"/><rect height="8" x="592" width="8" fill="#f4f802"/><rect height="8" x="600" width="9" fill="#ff9f00"/></g>
<g transform="translate(105,222)"><rect height="9" x="0" width="8" fill="#f1fc06"/><rect height="9" x="8" width="8" fill="#ff9400"/><rect height="9" x="16" width="9" fill="#ff3000"/><rect height="9" x="25" width="8" fill="#d10000"/><rect height="9" x="33" width="9" fill="#9b0000"/><rect height="9" x="42" width="8" fill="#800000"/><rect height="9" x="50" width="9" fill="#840000"/><rect height="9" x="59" width="8" fill="#9f0000"/><rect height="9" x="67" width="9" fill="#e40000"/><rect height="9" x="76" width="8" fill="#ff4700"/><rect height="9" x="84" width="9" fill="#ffa300"/><rect height="9" x="93" width="8" fill="#e7ff0f"/><rect height="9" x="101" width="8" fill="#7dff7a"/><rect height="9" x="109" width="9" fill="#09f0ee"/><rect height="9" x="118" width="8" fill="#0058ff"/><rect height="9" x="126" width="9" fill="#0000fa"/><rect height="9" x="135" width="8" fill="#0000cd"/><rect height="9" x="143" width="9" fill="#0000c8"/><rect height="9" x="152" width="8" fill="#0000bf"/><rect height="9" x="160" width="9" fill="#0000ad"/><rect height="9" x="169" width="17" fill="#0000a8"/><rect height="9" x="186" width="25" fill="#0000b2"/><rect height="9" x="211" width="8" fill="#0000bb"/><rect height="9" x="219" width="9" fill="#0000d1"/><rect height="9" x="228" width="8" fill="#0000e8"/><rect height="9" x="236" width="9" fill="#0008ff"/><rect height="9" x="245" width="8" fill="#0018ff"/><rect height="9" x="253" width="9" fill="#001cff"/><rect height="9" x="262" width="8" fill="#0014ff"/><rect height="9" x="270" width="9" fill="#0000f1"/><rect height="9" x="279" width="8" fill="#0000e8"/><rect height="9" x="287" width="9" fill="#0000e3"/><rect height="9" x="296" width="8" fill="#0000da"/><rect height="9" x="304" width="8" fill="#0000d6"/><rect height="9" x="312" width="9" fill="#0000cd"/><rect height="9" x="321" width="8" fill="#0000c4"/><rect height="9" x="329" width="9" fill="#0000b6"/><rect height="9" x="338" width="8" fill="#0000b2"/><rect height="9" x="346" width="17" fill="#0000ad"/><rect height="9" x="363" width="9" fill="#0000a8"/><rect height="9" x="372" width="8" fill="#0000b2"/><rect height="9" x="380" width="9" fill="#0000c4"/><rect height="9" x="389" width="8" fill="#0000df"/><rect height="9" x="397" width="8" fill="#0000e8"/><rect height="9" x="405" width="9" fill="#0014ff"/><rect height="9" x="414" width="8" fill="#0054ff"/><rect height="9" x="422" width="9" fill="#0088ff"/><rect height="9" x="431" width="8" fill="#00b4ff"/><rect height="9" x="439" width="9" fill="#00d4ff"/><rect height="9" x="448" width="8" fill="#0ff8e7"/><rect height="9" x="456" width="9" fill="#06ecf1"/><rect height="9" x="465" width="8" fill="#00dcfe"/><rect height="9" x="473" width="9" fill="#00c8ff"/><rect height="9" x="482" width="8" fill="#00b0ff"/><rect height="9" x="490" width="9" fill="#009cff"/><rect height="9" x="499" width="8" fill="#008cff"/><rect height="9" x="507" width="8" fill="#0088ff"/><rect height="9" x="515" width="43" fill="#0084ff"/><rect height="9" x="558" width="8" fill="#0088ff"/><rect height="9" x="566" width="9" fill="#0094ff"/><rect height="9" x="575" width="8" fill="#00b0ff"/><rect height="9" x="583" width="9" fill="#00dcfe"/><rect height="9" x="592" width="8" fill="#36ffc1"/><rect height="9" x="600" width="9" fill="#73ff83"/></g>
<g transform="translate(105,231)"><rect height="8" x="0" width="8" fill="#3cffba"/><rect height="8" x="8" width="8" fill="#77ff80"/><rect height="8" x="16" width="9" fill="#c4ff33"/><rect height="8" x="25" width="8" fill="#f4f802"/><rect height="8" x="33" width="9" fill="#ffc800"/><rect height="8" x="42" width="8" fill="#ff9400"/><rect height="8" x="50" width="9" fill="#ff6400"/><rect height="8" x="59" width="8" fill="#ff3000"/><rect height="8" x="67" width="9" fill="#f60b00"/><rect height="8" x="76" width="8" fill="#e80000"/><rect height="8" x="84" width="9" fill="#ff2500"/><rect height="8" x="93" width="8" fill="#ff5900"/><rect height="8" x="101" width="8" fill="#ffab00"/><rect height="8" x="109" width="9" fill="#eeff09"/><rect height="8" x="118" width="8" fill="#97ff60"/><rect height="8" x="126" width="9" fill="#19ffde"/><rect height="8" x="135" width="8" fill="#0064ff"/><rect height="8" x="143" width="9" fill="#0004ff"/><rect height="8" x="152" width="8" fill="#0008ff"/><rect height="8" x="160" width="9" fill="#0000f1"/><rect height="8" x="169" width="8" fill="#0000df"/><rect height="8" x="177" width="9" fill="#0000d6"/><rect height="8" x="186" width="8" fill="#0000da"/><rect height="8" x="194" width="8" fill="#0000ed"/><rect height="8" x="202" width="9" fill="#0008ff"/><rect height="8" x="211" width="8" fill="#0024ff"/><rect height="8" x="219" width="9" fill="#003cff"/><rect height="8" x="228" width="8" fill="#0058ff"/><rect height="8" x="236" width="9" fill="#0064ff"/><rect height="8" x="245" width="8" fill="#0068ff"/><rect height="8" x="253" width="9" fill="#0054ff"/><rect height="8" x="262" width="8" fill="#0034ff"/><rect height="8" x="270" width="9" fill="#0008ff"/><rect height="8" x="279" width="8" fill="#0000fa"/><rect height="8" x="287" width="9" fill="#0000f1"/><rect height="8" x="296" width="8" fill="#0000e8"/><rect height="8" x="304" width="8" fill="#0000df"/><rect height="8" x="312" width="9" fill="#0000d6"/><rect height="8" x="321" width="8" fill="#0000c8"/><rect height="8" x="329" width="9" fill="#0000bb"/><rect height="8" x="338" width="34" fill="#0000b2"/><rect height="8" x="372" width="8" fill="#0000b6"/><rect height="8" x="380" width="9" fill="#0000bf"/><rect height="8" x="389" width="8" fill="#0000da"/><rect height="8" x="397" width="8" fill="#0000e3"/><rect height="8" x="405" width="9" fill="#000cff"/><rect height="8" x="414" width="8" fill="#0048ff"/><rect height="8" x="422" width="9" fill="#007cff"/><rect height="8" x="431" width="8" fill="#00a8ff"/><rect height="8" x="439" width="9" fill="#00c0ff"/><rect height="8" x="448" width="17" fill="#00d4ff"/><rect height="8" x="465" width="8" fill="#00ccff"/><rect height="8" x="473" width="9" fill="#00bcff"/><rect height="8" x="482" width="8" fill="#00b0ff"/><rect height="8" x="490" width="9" fill="#00a0ff"/><rect height="8" x="499" width="8" fill="#0098ff"/><rect height="8" x="507" width="8" fill="#00a0ff"/><rect height="8" x="515" width="17" fill="#00a4ff"/><rect height="8" x="532" width="9" fill="#00a0ff"/><rect height="8" x="541" width="8" fill="#009cff"/><rect height="8" x="549" width="9" fill="#0094ff"/><rect height="8" x="558" width="8" fill="#008cff"/><rect height="8" x="566" width="17" fill="#0080ff"/><rect height="8" x="583" width="9" fill="#008cff"/><rect height="8" x="592" width="8" fill="#00a8ff"/><rect height="8" x="600" width="9" fill="#00c8ff"/></g>
<g transform="translate(105,239)"><rect height="9" x="0" width="8" fill="#23ffd4"/><rect height="9" x="8" width="8" fill="#26ffd1"/><rect height="9" x="16" width="9" fill="#33ffc4"/><rect height="9" x="25" width="8" fill="#46ffb1"/><rect height="9" x="33" width="9" fill="#63ff94"/><rect height="9" x="42" width="8" fill="#7aff7d"/><rect height="9" x="50" width="9" fill="#aaff4d"/><rect height="9" x="59" width="8" fill="#d1ff26"/><rect height="9" x="67" width="9" fill="#f8f500"/><rect height="9" x="76" width="8" fill="#ffd300"/><rect height="9" x="84" width="9" fill="#ffae00"/><rect height="9" x="93" width="8" fill="#ff9400"/><rect height="9" x="101" width="8" fill="#ff8d00"/><rect height="9" x="109" width="9" fill="#ffa300"/><rect height="9" x="118" width="8" fill="#ffc800"/><rect height="9" x="126" width="9" fill="#fbf100"/><rect height="9" x="135" width="8" fill="#c4ff33"/><rect height="9" x="143" width="9" fill="#77ff80"/><rect height="9" x="152" width="8" fill="#0cf4eb"/><rect height="9" x="160" width="9" fill="#00bcff"/><rect height="9" x="169" width="8" fill="#008cff"/><rect height="9" x="177" width="9" fill="#0058ff"/><rect height="9" x="186" width="8" fill="#004cff"/><rect height="9" x="194" width="8" fill="#005cff"/><rect height="9" x="202" width="9" fill="#008cff"/><rect height="9" x="211" width="17" fill="#009cff"/><rect height="9" x="228" width="8" fill="#0094ff"/><rect height="9" x="236" width="9" fill="#0064ff"/><rect height="9" x="245" width="8" fill="#0030ff"/><rect height="9" x="253" width="9" fill="#0014ff"/><rect height="9" x="262" width="8" fill="#0000fa"/><rect height="9" x="270" width="9" fill="#0000e8"/><rect height="9" x="279" width="8" fill="#0000df"/><rect height="9" x="287" width="25" fill="#0000da"/><rect height="9" x="312" width="9" fill="#0000d6"/><rect height="9" x="321" width="8" fill="#0000c8"/><rect height="9" x="329" width="9" fill="#0000bb"/><rect height="9" x="338" width="42" fill="#0000b6"/><rect height="9" x="380" width="9" fill="#0000bf"/><rect height="9" x="389" width="8" fill="#0000d6"/><rect height="9" x="397" width="8" fill="#0000df"/><rect height="9" x="405" width="9" fill="#0008ff"/><rect height="9" x="414" width="8" fill="#0044ff"/><rect height="9" x="422" width="9" fill="#0078ff"/><rect height="9" x="431" width="8" fill="#00a4ff"/><rect height="9" x="439" width="9" fill="#00c0ff"/><rect height="9" x="448" width="8" fill="#00dcfe"/><rect height="9" x="456" width="17" fill="#00e4f8"/><rect height="9" x="473" width="9" fill="#00d4ff"/><rect height="9" x="482" width="8" fill="#00ccff"/><rect height="9" x="490" width="17" fill="#00c0ff"/><rect height="9" x="507" width="8" fill="#00d0ff"/><rect height="9" x="515" width="9" fill="#00dcfe"/><rect height="9" x="524" width="8" fill="#09f0ee"/><rect height="9" x="532" width="9" fill="#16ffe1"/><rect height="9" x="541" width="17" fill="#1cffdb"/><rect height="9" x="558" width="51" fill="#19ffde"/></g>
<g transform="translate(105,248)"><rect height="8" x="0" width="8" fill="#a4ff53"/><rect height="8" x="8" width="8" fill="#97ff60"/><rect height="8" x="16" width="9" fill="#8dff6a"/><rect height="8" x="25" width="34" fill="#7dff7a"/><rect height="8" x="59" width="8" fill="#8dff6a"/><rect height="8" x="67" width="9" fill="#a0ff56"/><rect height="8" x="76" width="8" fill="#baff3c"/><rect height="8" x="84" width="9" fill="#d7ff1f"/><rect height="8" x="93" width="8" fill="#ebff0c"/><rect height="8" x="101" width="8" fill="#f4f802"/><rect height="8" x="109" width="9" fill="#fbf100"/><rect height="8" x="118" width="8" fill="#ffea00"/><rect height="8" x="126" width="17" fill="#ffdb00"/><rect height="8" x="143" width="9" fill="#ffea00"/><rect height="8" x="152" width="8" fill="#f1fc06"/><rect height="8" x="160" width="9" fill="#c7ff30"/><rect height="8" x="169" width="8" fill="#8dff6a"/><rect height="8" x="177" width="9" fill="#6dff8a"/><rect height="8" x="186" width="8" fill="#5aff9d"/><rect height="8" x="194" width="8" fill="#4dffaa"/><rect height="8" x="202" width="9" fill="#39ffbe"/><rect height="8" x="211" width="8" fill="#00e4f8"/><rect height="8" x="219" width="9" fill="#00b0ff"/><rect height="8" x="228" width="8" fill="#0070ff"/><rect height="8" x="236" width="9" fill="#0018ff"/><rect height="8" x="245" width="8" fill="#0000d1"/><rect height="8" x="253" width="9" fill="#0000ad"/><rect height="8" x="262" width="8" fill="#00009f"/><rect height="8" x="270" width="9" fill="#0000a8"/><rect height="8" x="279" width="8" fill="#0000ad"/><rect height="8" x="287" width="9" fill="#0000b6"/><rect height="8" x="296" width="8" fill="#0000bf"/><rect height="8" x="304" width="8" fill="#0000cd"/><rect height="8" x="312" width="9" fill="#0000d1"/><rect height="8" x="321" width="8" fill="#0000cd"/><rect height="8" x="329" width="43" fill="#0000c4"/><rect height="8" x="372" width="17" fill="#0000bf"/><rect height="8" x="389" width="8" fill="#0000d6"/><rect height="8" x="397" width="8" fill="#0000ed"/><rect height="8" x="405" width="9" fill="#0000ff"/><rect height="8" x="414" width="8" fill="#0030ff"/><rect height="8" x="422" width="9" fill="#0064ff"/><rect height="8" x="431" width="8" fill="#0094ff"/><rect height="8" x="439" width="9" fill="#00bcff"/><rect height="8" x="448" width="8" fill="#00d4ff"/><rect height="8" x="456" width="9" fill="#0cf4eb"/><rect height="8" x="465" width="8" fill="#09f0ee"/><rect height="8" x="473" width="9" fill="#00e0fb"/><rect height="8" x="482" width="8" fill="#00dcfe"/><rect height="8" x="490" width="9" fill="#00d4ff"/><rect height="8" x="499" width="8" fill="#00dcfe"/><rect height="8" x="507" width="8" fill="#13fce4"/><rect height="8" x="515" width="9" fill="#33ffc4"/><rect height="8" x="524" width="8" fill="#5aff9d"/><rect height="8" x="532" width="9" fill="#80ff77"/><rect height="8" x="541" width="17" fill="#a4ff53"/><rect height="8" x="558" width="8" fill="#aaff4d"/><rect height="8" x="566" width="9" fill="#b1ff46"/><rect height="8" x="575" width="8" fill="#b7ff40"/><rect height="8" x="583" width="9" fill="#baff3c"/><rect height="8" x="592" width="17" fill="#beff39"/></g>
<g transform="translate(105,256)"><rect height="9" x="0" width="8" fill="#ffd700"/><rect height="9" x="8" width="8" fill="#ffea00"/><rect height="9" x="16" width="9" fill="#f4f802"/><rect height="9" x="25" width="8" fill="#e7ff0f"/><rect height="9" x="33" width="26" fill="#deff19"/><rect height="9" x="59" width="8" fill="#e7ff0f"/><rect height="9" x="67" width="9" fill="#f1fc06"/><rect height="9" x="76" width="8" fill="#fbf100"/><rect height="9" x="84" width="9" fill="#ffea00"/><rect height="9" x="93" width="25" fill="#ffde00"/><rect height="9" x="118" width="8" fill="#ffe600"/><rect height="9" x="126" width="9" fill="#ffea00"/><rect height="9" x="135" width="17" fill="#fbf100"/><rect height="9" x="152" width="8" fill="#f4f802"/><rect height="9" x="160" width="9" fill="#e7ff0f"/><rect height="9" x="169" width="8" fill="#c7ff30"/><rect height="9" x="177" width="9" fill="#a0ff56"/><rect height="9" x="186" width="8" fill="#73ff83"/><rect height="9" x="194" width="8" fill="#49ffad"/><rect height="9" x="202" width="9" fill="#33ffc4"/><rect height="9" x="211" width="8" fill="#00bcff"/><rect height="9" x="219" width="9" fill="#0080ff"/><rect height="9" x="228" width="8" fill="#0030ff"/><rect height="9" x="236" width="9" fill="#0000c8"/><rect height="9" x="245" width="8" fill="#00009f"/><rect height="9" x="253" width="17" fill="#00008d"/><rect height="9" x="270" width="9" fill="#000092"/><rect height="9" x="279" width="8" fill="#00009f"/><rect height="9" x="287" width="9" fill="#0000b2"/><rect height="9" x="296" width="8" fill="#0000cd"/><rect height="9" x="304" width="8" fill="#0000df"/><rect height="9" x="312" width="9" fill="#0000e3"/><rect height="9" x="321" width="8" fill="#0000da"/><rect height="9" x="329" width="9" fill="#0000d1"/><rect height="9" x="338" width="34" fill="#0000c8"/><rect height="9" x="372" width="17" fill="#0000bf"/><rect height="9" x="389" width="8" fill="#0000d6"/><rect height="9" x="397" width="8" fill="#0000ed"/><rect height="9" x="405" width="9" fill="#0000ff"/><rect height="9" x="414" width="8" fill="#002cff"/><rect height="9" x="422" width="9" fill="#0058ff"/><rect height="9" x="431" width="8" fill="#0084ff"/><rect height="9" x="439" width="9" fill="#00a8ff"/><rect height="9" x="448" width="8" fill="#00c0ff"/><rect height="9" x="456" width="9" fill="#00d0ff"/><rect height="9" x="465" width="17" fill="#00d4ff"/><rect height="9" x="482" width="17" fill="#00d0ff"/><rect height="9" x="499" width="8" fill="#00e0fb"/><rect height="9" x="507" width="8" fill="#26ffd1"/><rect height="9" x="515" width="9" fill="#50ffa7"/><rect height="9" x="524" width="8" fill="#77ff80"/><rect height="9" x="532" width="9" fill="#9dff5a"/><rect height="9" x="541" width="8" fill="#c4ff33"/><rect height="9" x="549" width="9" fill="#d7ff1f"/><rect height="9" x="558" width="8" fill="#ebff0c"/><rect height="9" x="566" width="9" fill="#f4f802"/><rect height="9" x="575" width="8" fill="#f8f500"/><rect height="9" x="583" width="9" fill="#ffe600"/><rect height="9" x="592" width="8" fill="#ffd700"/><rect height="9" x="600" width="9" fill="#ffcc00"/></g>
<g transform="translate(105,265)"><rect height="8" x="0" width="8" fill="#e1ff16"/><rect height="8" x="8" width="8" fill="#d7ff1f"/><rect height="8" x="16" width="9" fill="#c4ff33"/><rect height="8" x="25" width="8" fill="#b1ff46"/><rect height="8" x="33" width="26" fill="#a0ff56"/><rect height="8" x="59" width="8" fill="#b1ff46"/><rect height="8" x="67" width="9" fill="#c7ff30"/><rect height="8" x="76" width="8" fill="#ebff0c"/><rect height="8" x="84" width="9" fill="#ffde00"/><rect height="8" x="93" width="8" fill="#ffc100"/><rect height="8" x="101" width="8" fill="#ffae00"/><rect height="8" x="109" width="17" fill="#ffa300"/><rect height="8" x="126" width="9" fill="#ffab00"/><rect height="8" x="135" width="8" fill="#ffbd00"/><rect height="8" x="143" width="9" fill="#ffcc00"/><rect height="8" x="152" width="8" fill="#ffea00"/><rect height="8" x="160" width="9" fill="#f1fc06"/><rect height="8" x="169" width="8" fill="#d7ff1f"/><rect height="8" x="177" width="9" fill="#b1ff46"/><rect height="8" x="186" width="8" fill="#6dff8a"/><rect height="8" x="194" width="8" fill="#33ffc4"/><rect height="8" x="202" width="9" fill="#09f0ee"/><rect height="8" x="211" width="8" fill="#0094ff"/><rect height="8" x="219" width="9" fill="#0040ff"/><rect height="8" x="228" width="8" fill="#0000e3"/><rect height="8" x="236" width="9" fill="#0000b2"/><rect height="8" x="245" width="25" fill="#00008d"/><rect height="8" x="270" width="9" fill="#00009f"/><rect height="8" x="279" width="8" fill="#0000b6"/><rect height="8" x="287" width="9" fill="#0000d1"/><rect height="8" x="296" width="8" fill="#0000e8"/><rect height="8" x="304" width="17" fill="#0000fa"/><rect height="8" x="321" width="8" fill="#0000ed"/><rect height="8" x="329" width="9" fill="#0000df"/><rect height="8" x="338" width="25" fill="#0000d6"/><rect height="8" x="363" width="9" fill="#0000c8"/><rect height="8" x="372" width="17" fill="#0000bf"/><rect height="8" x="389" width="8" fill="#0000d6"/><rect height="8" x="397" width="8" fill="#0000ed"/><rect height="8" x="405" width="9" fill="#0000ff"/><rect height="8" x="414" width="8" fill="#0018ff"/><rect height="8" x="422" width="9" fill="#0034ff"/><rect height="8" x="431" width="8" fill="#0050ff"/><rect height="8" x="439" width="9" fill="#0068ff"/><rect height="8" x="448" width="8" fill="#0078ff"/><rect height="8" x="456" width="9" fill="#0080ff"/><rect height="8" x="465" width="8" fill="#0084ff"/><rect height="8" x="473" width="9" fill="#0088ff"/><rect height="8" x="482" width="8" fill="#0090ff"/><rect height="8" x="490" width="9" fill="#0094ff"/><rect height="8" x="499" width="8" fill="#00a8ff"/><rect height="8" x="507" width="8" fill="#06ecf1"/><rect height="8" x="515" width="9" fill="#33ffc4"/><rect height="8" x="524" width="8" fill="#5aff9d"/><rect height="8" x="532" width="9" fill="#70ff87"/><rect height="8" x="541" width="8" fill="#87ff70"/><rect height="8" x="549" width="9" fill="#a0ff56"/><rect height="8" x="558" width="8" fill="#b1ff46"/><rect height="8" x="566" width="9" fill="#beff39"/><rect height="8" x="575" width="8" fill="#c7ff30"/><rect height="8" x="583" width="9" fill="#ceff29"/><rect height="8" x="592" width="17" fill="#d1ff26"/></g>
<g transform="translate(105,273)"><rect height="9" x="0" width="8" fill="#49ffad"/><rect height="9" x="8" width="8" fill="#40ffb7"/><rect height="9" x="16" width="9" fill="#33ffc4"/><rect height="9" x="25" width="8" fill="#23ffd4"/><rect height="9" x="33" width="9" fill="#13fce4"/><rect height="9" x="42" width="17" fill="#09f0ee"/><rect height="9" x="59" width="8" fill="#16ffe1"/><rect height="9" x="67" width="9" fill="#33ffc4"/><rect height="9" x="76" width="8" fill="#49ffad"/><rect height="9" x="84" width="9" fill="#63ff94"/><rect height="9" x="93" width="8" fill="#83ff73"/><rect height="9" x="101" width="8" fill="#ceff29"/><rect height="9" x="109" width="9" fill="#d7ff1f"/><rect height="9" x="118" width="8" fill="#e1ff16"/><rect height="9" x="126" width="17" fill="#e7ff0f"/><rect height="9" x="143" width="9" fill="#e1ff16"/><rect height="9" x="152" width="8" fill="#d7ff1f"/><rect height="9" x="160" width="9" fill="#c4ff33"/><rect height="9" x="169" width="8" fill="#a4ff53"/><rect height="9" x="177" width="9" fill="#7dff7a"/><rect height="9" x="186" width="8" fill="#3cffba"/><rect height="9" x="194" width="8" fill="#00e4f8"/><rect height="9" x="202" width="9" fill="#00a0ff"/><rect height="9" x="211" width="8" fill="#0030ff"/><rect height="9" x="219" width="9" fill="#0000da"/><rect height="9" x="228" width="8" fill="#0000b6"/><rect height="9" x="236" width="9" fill="#000092"/><rect height="9" x="245" width="25" fill="#00008d"/><rect height="9" x="270" width="9" fill="#0000bb"/><rect height="9" x="279" width="8" fill="#0000d6"/><rect height="9" x="287" width="9" fill="#0000ed"/><rect height="9" x="296" width="8" fill="#0000fa"/><rect height="9" x="304" width="17" fill="#0000ff"/><rect height="9" x="321" width="8" fill="#0000fa"/><rect height="9" x="329" width="9" fill="#0000e8"/><rect height="9" x="338" width="17" fill="#0000da"/><rect height="9" x="355" width="17" fill="#0000d1"/><rect height="9" x="372" width="8" fill="#0000bf"/><rect height="9" x="380" width="9" fill="#0000c4"/><rect height="9" x="389" width="8" fill="#0000da"/><rect height="9" x="397" width="8" fill="#0000ed"/><rect height="9" x="405" width="9" fill="#0000fa"/><rect height="9" x="414" width="8" fill="#0000ff"/><rect height="9" x="422" width="9" fill="#0014ff"/><rect height="9" x="431" width="8" fill="#0020ff"/><rect height="9" x="439" width="9" fill="#002cff"/><rect height="9" x="448" width="25" fill="#0030ff"/><rect height="9" x="473" width="17" fill="#002cff"/><rect height="9" x="490" width="9" fill="#0030ff"/><rect height="9" x="499" width="8" fill="#003cff"/><rect height="9" x="507" width="8" fill="#0058ff"/><rect height="9" x="515" width="9" fill="#008cff"/><rect height="9" x="524" width="8" fill="#00b0ff"/><rect height="9" x="532" width="9" fill="#00c4ff"/><rect height="9" x="541" width="8" fill="#00e0fb"/><rect height="9" x="549" width="9" fill="#1cffdb"/><rect height="9" x="558" width="8" fill="#33ffc4"/><rect height="9" x="566" width="9" fill="#3cffba"/><rect height="9" x="575" width="8" fill="#40ffb7"/><rect height="9" x="583" width="17" fill="#46ffb1"/><rect height="9" x="600" width="9" fill="#40ffb7"/></g>
<g transform="translate(105,282)"><rect height="8" x="0" width="8" fill="#00c0ff"/><rect height="8" x="8" width="8" fill="#00b4ff"/><rect height="8" x="16" width="9" fill="#00a4ff"/><rect height="8" x="25" width="8" fill="#0094ff"/><rect height="8" x="33" width="9" fill="#008cff"/><rect height="8" x="42" width="17" fill="#0084ff"/><rect height="8" x="59" width="8" fill="#008cff"/><rect height="8" x="67" width="9" fill="#0098ff"/><rect height="8" x="76" width="8" fill="#00b4ff"/><rect height="8" x="84" width="9" fill="#00ccff"/><rect height="8" x="93" width="8" fill="#00e0fb"/><rect height="8" x="101" width="8" fill="#0cf4eb"/><rect height="8" x="109" width="9" fill="#23ffd4"/><rect height="8" x="118" width="8" fill="#33ffc4"/><rect height="8" x="126" width="9" fill="#3cffba"/><rect height="8" x="135" width="17" fill="#40ffb7"/><rect height="8" x="152" width="8" fill="#3cffba"/><rect height="8" x="160" width="9" fill="#33ffc4"/><rect height="8" x="169" width="8" fill="#1fffd7"/><rect height="8" x="177" width="9" fill="#00dcfe"/><rect height="8" x="186" width="8" fill="#008cff"/><rect height="8" x="194" width="8" fill="#0058ff"/><rect height="8" x="202" width="9" fill="#0018ff"/><rect height="8" x="211" width="8" fill="#0000da"/><rect height="8" x="219" width="9" fill="#0000b6"/><rect height="8" x="228" width="8" fill="#000096"/><rect height="8" x="236" width="26" fill="#000092"/><rect height="8" x="262" width="8" fill="#0000ad"/><rect height="8" x="270" width="9" fill="#0000df"/><rect height="8" x="279" width="8" fill="#0000f1"/><rect height="8" x="287" width="17" fill="#0000ff"/><rect height="8" x="304" width="8" fill="#0008ff"/><rect height="8" x="312" width="17" fill="#0000ff"/><rect height="8" x="329" width="9" fill="#0000f1"/><rect height="8" x="338" width="17" fill="#0000df"/><rect height="8" x="355" width="8" fill="#0000da"/><rect height="8" x="363" width="17" fill="#0000cd"/><rect height="8" x="380" width="9" fill="#0000d1"/><rect height="8" x="389" width="8" fill="#0000df"/><rect height="8" x="397" width="17" fill="#0000ed"/><rect height="8" x="414" width="8" fill="#0000fa"/><rect height="8" x="422" width="17" fill="#0000ff"/><rect height="8" x="439" width="17" fill="#000cff"/><rect height="8" x="456" width="9" fill="#0008ff"/><rect height="8" x="465" width="50" fill="#0000ff"/><rect height="8" x="515" width="9" fill="#001cff"/><rect height="8" x="524" width="8" fill="#002cff"/><rect height="8" x="532" width="9" fill="#0044ff"/><rect height="8" x="541" width="8" fill="#0058ff"/><rect height="8" x="549" width="9" fill="#0070ff"/><rect height="8" x="558" width="8" fill="#008cff"/><rect height="8" x="566" width="9" fill="#0094ff"/><rect height="8" x="575" width="8" fill="#00a0ff"/><rect height="8" x="583" width="9" fill="#00a4ff"/><rect height="8" x="592" width="17" fill="#00a8ff"/></g>
<g transform="translate(105,290)"><rect height="9" x="0" width="8" fill="#0048ff"/><rect height="9" x="8" width="8" fill="#0044ff"/><rect height="9" x="16" width="9" fill="#0040ff"/><rect height="9" x="25" width="8" fill="#0034ff"/><rect height="9" x="33" width="17" fill="#0030ff"/><rect height="9" x="50" width="9" fill="#0034ff"/><rect height="9" x="59" width="8" fill="#0040ff"/><rect height="9" x="67" width="9" fill="#0050ff"/><rect height="9" x="76" width="8" fill="#005cff"/><rect height="9" x="84" width="9" fill="#0070ff"/><rect height="9" x="93" width="8" fill="#0084ff"/><rect height="9" x="101" width="8" fill="#0094ff"/><rect height="9" x="109" width="9" fill="#00a0ff"/><rect height="9" x="118" width="8" fill="#00a4ff"/><rect height="9" x="126" width="9" fill="#00a0ff"/><rect height="9" x="135" width="8" fill="#0094ff"/><rect height="9" x="143" width="9" fill="#0084ff"/><rect height="9" x="152" width="8" fill="#0070ff"/><rect height="9" x="160" width="9" fill="#0058ff"/><rect height="9" x="169" width="8" fill="#0034ff"/><rect height="9" x="177" width="9" fill="#0014ff"/><rect height="9" x="186" width="8" fill="#0000f1"/><rect height="9" x="194" width="17" fill="#0000da"/><rect height="9" x="211" width="8" fill="#0000bb"/><rect height="9" x="219" width="34" fill="#0000a4"/><rect height="9" x="253" width="9" fill="#0000bb"/><rect height="9" x="262" width="8" fill="#0000da"/><rect height="9" x="270" width="9" fill="#0000fa"/><rect height="9" x="279" width="8" fill="#0000ff"/><rect height="9" x="287" width="9" fill="#0008ff"/><rect height="9" x="296" width="16" fill="#000cff"/><rect height="9" x="312" width="9" fill="#0008ff"/><rect height="9" x="321" width="8" fill="#0000ff"/><rect height="9" x="329" width="9" fill="#0000fa"/><rect height="9" x="338" width="17" fill="#0000ed"/><rect height="9" x="355" width="8" fill="#0000df"/><rect height="9" x="363" width="17" fill="#0000d6"/><rect height="9" x="380" width="9" fill="#0000da"/><rect height="9" x="389" width="8" fill="#0000e3"/><rect height="9" x="397" width="8" fill="#0000ed"/><rect height="9" x="405" width="9" fill="#0000e8"/><rect height="9" x="414" width="8" fill="#0000f1"/><rect height="9" x="422" width="77" fill="#0000fa"/><rect height="9" x="499" width="25" fill="#0000f1"/><rect height="9" x="524" width="8" fill="#0000fa"/><rect height="9" x="532" width="9" fill="#0000ff"/><rect height="9" x="541" width="8" fill="#0008ff"/><rect height="9" x="549" width="9" fill="#0014ff"/><rect height="9" x="558" width="8" fill="#001cff"/><rect height="9" x="566" width="9" fill="#0024ff"/><rect height="9" x="575" width="8" fill="#0030ff"/><rect height="9" x="583" width="9" fill="#0034ff"/><rect height="9" x="592" width="8" fill="#0040ff"/><rect height="9" x="600" width="9" fill="#0044ff"/></g>
<g transform="translate(105,299)"><rect height="8" x="0" width="50" fill="#0000ff"/><rect height="8" x="50" width="9" fill="#0014ff"/><rect height="8" x="59" width="8" fill="#0020ff"/><rect height="8" x="67" width="9" fill="#0030ff"/><rect height="8" x="76" width="8" fill="#0040ff"/><rect height="8" x="84" width="9" fill="#0050ff"/><rect height="8" x="93" width="8" fill="#005cff"/><rect height="8" x="101" width="8" fill="#006cff"/><rect height="8" x="109" width="9" fill="#0078ff"/><rect height="8" x="118" width="8" fill="#0088ff"/><rect height="8" x="126" width="9" fill="#007cff"/><rect height="8" x="135" width="8" fill="#0070ff"/><rect height="8" x="143" width="9" fill="#0060ff"/><rect height="8" x="152" width="8" fill="#004cff"/><rect height="8" x="160" width="9" fill="#0038ff"/><rect height="8" x="169" width="8" fill="#001cff"/><rect height="8" x="177" width="9" fill="#0000fa"/><rect height="8" x="186" width="8" fill="#0000e3"/><rect height="8" x="194" width="8" fill="#0000c8"/><rect height="8" x="202" width="9" fill="#0000cd"/><rect height="8" x="211" width="34" fill="#0000bf"/><rect height="8" x="245" width="8" fill="#0000d1"/><rect height="8" x="253" width="9" fill="#0000e3"/><rect height="8" x="262" width="8" fill="#0000fa"/><rect height="8" x="270" width="9" fill="#0000ff"/><rect height="8" x="279" width="8" fill="#0014ff"/><rect height="8" x="287" width="9" fill="#0018ff"/><rect height="8" x="296" width="8" fill="#001cff"/><rect height="8" x="304" width="8" fill="#0018ff"/><rect height="8" x="312" width="9" fill="#0014ff"/><rect height="8" x="321" width="8" fill="#0008ff"/><rect height="8" x="329" width="9" fill="#0000ff"/><rect height="8" x="338" width="8" fill="#0000fa"/><rect height="8" x="346" width="9" fill="#0000f1"/><rect height="8" x="355" width="8" fill="#0000e8"/><rect height="8" x="363" width="17" fill="#0000df"/><rect height="8" x="380" width="9" fill="#0000e3"/><rect height="8" x="389" width="8" fill="#0000e8"/><rect height="8" x="397" width="8" fill="#0000f1"/><rect height="8" x="405" width="9" fill="#0000e8"/><rect height="8" x="414" width="8" fill="#0000f1"/><rect height="8" x="422" width="85" fill="#0000fa"/><rect height="8" x="507" width="34" fill="#0000f1"/><rect height="8" x="541" width="17" fill="#0000fa"/><rect height="8" x="558" width="17" fill="#0000ff"/><rect height="8" x="575" width="8" fill="#0008ff"/><rect height="8" x="583" width="9" fill="#000cff"/><rect height="8" x="592" width="8" fill="#0014ff"/><rect height="8" x="600" width="9" fill="#0018ff"/></g>
<g transform="translate(105,307)"><rect height="9" x="0" width="50" fill="#0000fa"/><rect height="9" x="50" width="9" fill="#000cff"/><rect height="9" x="59" width="8" fill="#0020ff"/><rect height="9" x="67" width="9" fill="#0030ff"/><rect height="9" x="76" width="8" fill="#0040ff"/><rect height="9" x="84" width="9" fill="#0054ff"/><rect height="9" x="93" width="8" fill="#0064ff"/><rect height="9" x="101" width="8" fill="#0078ff"/><rect height="9" x="109" width="9" fill="#009cff"/><rect height="9" x="118" width="8" fill="#00a0ff"/><rect height="9" x="126" width="9" fill="#0098ff"/><rect height="9" x="135" width="8" fill="#0088ff"/><rect height="9" x="143" width="9" fill="#0074ff"/><rect height="9" x="152" width="8" fill="#0060ff"/><rect height="9" x="160" width="9" fill="#0048ff"/><rect height="9" x="169" width="8" fill="#0030ff"/><rect height="9" x="177" width="9" fill="#0000ff"/><rect height="9" x="186" width="8" fill="#0000f1"/><rect height="9" x="194" width="8" fill="#0000d6"/><rect height="9" x="202" width="9" fill="#0000da"/><rect height="9" x="211" width="25" fill="#0000df"/><rect height="9" x="236" width="9" fill="#0000e3"/><rect height="9" x="245" width="8" fill="#0000ed"/><rect height="9" x="253" width="9" fill="#0000fa"/><rect height="9" x="262" width="8" fill="#0000ff"/><rect height="9" x="270" width="9" fill="#000cff"/><rect height="9" x="279" width="8" fill="#0018ff"/><rect height="9" x="287" width="17" fill="#001cff"/><rect height="9" x="304" width="8" fill="#0018ff"/><rect height="9" x="312" width="9" fill="#0014ff"/><rect height="9" x="321" width="8" fill="#0008ff"/><rect height="9" x="329" width="9" fill="#0000ff"/><rect height="9" x="338" width="17" fill="#0000fa"/><rect height="9" x="355" width="8" fill="#0000ed"/><rect height="9" x="363" width="17" fill="#0000e8"/><rect height="9" x="380" width="17" fill="#0000ed"/><rect height="9" x="397" width="8" fill="#0000f1"/><rect height="9" x="405" width="9" fill="#0000ed"/><rect height="9" x="414" width="178" fill="#0000fa"/><rect height="9" x="592" width="17" fill="#0000ff"/></g>
<g transform="translate(105,316)"><rect height="8" x="0" width="50" fill="#0000fa"/><rect height="8" x="50" width="9" fill="#0008ff"/><rect height="8" x="59" width="8" fill="#001cff"/><rect height="8" x="67" width="9" fill="#0030ff"/><rect height="8" x="76" width="8" fill="#0048ff"/><rect height="8" x="84" width="9" fill="#0064ff"/><rect height="8" x="93" width="8" fill="#0080ff"/><rect height="8" x="101" width="8" fill="#0090ff"/><rect height="8" x="109" width="9" fill="#00a8ff"/><rect height="8" x="118" width="25" fill="#00b4ff"/><rect height="8" x="143" width="9" fill="#009cff"/><rect height="8" x="152" width="8" fill="#0084ff"/><rect height="8" x="160" width="9" fill="#006cff"/><rect height="8" x="169" width="8" fill="#004cff"/><rect height="8" x="177" width="9" fill="#0030ff"/><rect height="8" x="186" width="8" fill="#0000ff"/><rect height="8" x="194" width="8" fill="#0000f6"/><rect height="8" x="202" width="43" fill="#0000fa"/><rect height="8" x="245" width="17" fill="#0000ff"/><rect height="8" x="262" width="8" fill="#000cff"/><rect height="8" x="270" width="9" fill="#0014ff"/><rect height="8" x="279" width="25" fill="#001cff"/><rect height="8" x="304" width="17" fill="#000cff"/><rect height="8" x="321" width="17" fill="#0000ff"/><rect height="8" x="338" width="8" fill="#0000ed"/><rect height="8" x="346" width="9" fill="#0000df"/><rect height="8" x="355" width="34" fill="#0000da"/><rect height="8" x="389" width="8" fill="#0000e3"/><rect height="8" x="397" width="17" fill="#0000f1"/><rect height="8" x="414" width="195" fill="#0000fa"/></g>
<g transform="translate(105,324)"><rect height="9" x="0" width="50" fill="#0000fa"/><rect height="9" x="50" width="9" fill="#0000ff"/><rect height="9" x="59" width="8" fill="#001cff"/><rect height="9" x="67" width="9" fill="#0034ff"/><rect height="9" x="76" width="8" fill="#0050ff"/><rect height="9" x="84" width="9" fill="#006cff"/><rect height="9" x="93" width="8" fill="#008cff"/><rect height="9" x="101" width="8" fill="#00a4ff"/><rect height="9" x="109" width="9" fill="#00bcff"/><rect height="9" x="118" width="17" fill="#00ccff"/><rect height="9" x="135" width="8" fill="#00c8ff"/><rect height="9" x="143" width="9" fill="#00b8ff"/><rect height="9" x="152" width="8" fill="#00a4ff"/><rect height="9" x="160" width="9" fill="#008cff"/><rect height="9" x="169" width="8" fill="#0070ff"/><rect height="9" x="177" width="9" fill="#0058ff"/><rect height="9" x="186" width="8" fill="#0044ff"/><rect height="9" x="194" width="8" fill="#0030ff"/><rect height="9" x="202" width="9" fill="#002cff"/><rect height="9" x="211" width="8" fill="#0024ff"/><rect height="9" x="219" width="9" fill="#0020ff"/><rect height="9" x="228" width="34" fill="#001cff"/><rect height="9" x="262" width="42" fill="#0018ff"/><rect height="9" x="304" width="17" fill="#000cff"/><rect height="9" x="321" width="17" fill="#0000ff"/><rect height="9" x="338" width="51" fill="#0000e8"/><rect height="9" x="389" width="25" fill="#0000f1"/><rect height="9" x="414" width="195" fill="#0000fa"/></g>
<g transform="translate(105,333)"><rect height="8" x="0" width="50" fill="#0000fa"/><rect height="8" x="50" width="9" fill="#0000ff"/><rect height="8" x="59" width="8" fill="#0018ff"/><rect height="8" x="67" width="9" fill="#0030ff"/><rect height="8" x="76" width="8" fill="#0048ff"/><rect height="8" x="84" width="9" fill="#0064ff"/><rect height="8" x="93" width="8" fill="#007cff"/><rect height="8" x="101" width="8" fill="#0094ff"/><rect height="8" x="109" width="9" fill="#00b0ff"/><rect height="8" x="118" width="8" fill="#00bcff"/><rect height="8" x="126" width="9" fill="#00c0ff"/><rect height="8" x="135" width="8" fill="#00bcff"/><rect height="8" x="143" width="9" fill="#00b4ff"/><rect height="8" x="152" width="8" fill="#00a4ff"/><rect height="8" x="160" width="9" fill="#0090ff"/><rect height="8" x="169" width="8" fill="#007cff"/><rect height="8" x="177" width="9" fill="#006cff"/><rect height="8" x="186" width="8" fill="#005cff"/><rect height="8" x="194" width="8" fill="#0050ff"/><rect height="8" x="202" width="9" fill="#0048ff"/><rect height="8" x="211" width="8" fill="#0044ff"/><rect height="8" x="219" width="9" fill="#0040ff"/><rect height="8" x="228" width="8" fill="#003cff"/><rect height="8" x="236" width="9" fill="#0034ff"/><rect height="8" x="245" width="8" fill="#0030ff"/><rect height="8" x="253" width="9" fill="#002cff"/><rect height="8" x="262" width="8" fill="#0024ff"/><rect height="8" x="270" width="9" fill="#0020ff"/><rect height="8" x="279" width="25" fill="#001cff"/><rect height="8" x="304" width="17" fill="#0014ff"/><rect height="8" x="321" width="8" fill="#0008ff"/><rect height="8" x="329" width="76" fill="#0000fa"/><rect height="8" x="405" width="9" fill="#0000f1"/><rect height="8" x="414" width="195" fill="#0000fa"/></g>
<g transform="translate(105,341)"><rect height="9" x="0" width="50" fill="#0000fa"/><rect height="9" x="50" width="9" fill="#0000ff"/><rect height="9" x="59" width="8" fill="#000cff"/><rect height="9" x="67" width="9" fill="#0024ff"/><rect height="9" x="76" width="8" fill="#003cff"/><rect height="9" x="84" width="9" fill="#0050ff"/><rect height="9" x="93" width="8" fill="#005cff"/><rect height="9" x="101" width="8" fill="#0078ff"/><rect height="9" x="109" width="9" fill="#008cff"/><rect height="9" x="118" width="8" fill="#0098ff"/><rect height="9" x="126" width="17" fill="#00a0ff"/><rect height="9" x="143" width="9" fill="#0098ff"/><rect height="9" x="152" width="8" fill="#0090ff"/><rect height="9" x="160" width="9" fill="#0084ff"/><rect height="9" x="169" width="8" fill="#0078ff"/><rect height="9" x="177" width="9" fill="#006cff"/><rect height="9" x="186" width="8" fill="#0064ff"/><rect height="9" x="194" width="8" fill="#0058ff"/><rect height="9" x="202" width="9" fill="#0054ff"/><rect height="9" x="211" width="8" fill="#0050ff"/><rect height="9" x="219" width="9" fill="#0048ff"/><rect height="9" x="228" width="8" fill="#0044ff"/><rect height="9" x="236" width="9" fill="#0040ff"/><rect height="9" x="245" width="8" fill="#0034ff"/><rect height="9" x="253" width="9" fill="#0030ff"/><rect height="9" x="262" width="8" fill="#002cff"/><rect height="9" x="270" width="9" fill="#0024ff"/><rect height="9" x="279" width="25" fill="#001cff"/><rect height="9" x="304" width="8" fill="#0014ff"/><rect height="9" x="312" width="17" fill="#0008ff"/><rect height="9" x="329" width="76" fill="#0000ff"/><rect height="9" x="405" width="9" fill="#0000f1"/><rect height="9" x="414" width="195" fill="#0000fa"/></g>
<g transform="translate(105,350)"><rect height="8" x="0" width="50" fill="#0000fa"/><rect height="8" x="50" width="9" fill="#0000ff"/><rect height="8" x="59" width="8" fill="#0008ff"/><rect height="8" x="67" width="9" fill="#0018ff"/><rect height="8" x="76" width="8" fill="#002cff"/><rect height="8" x="84" width="9" fill="#0034ff"/><rect height="8" x="93" width="8" fill="#0040ff"/><rect height="8" x="101" width="8" fill="#0054ff"/><rect height="8" x="109" width="9" fill="#0064ff"/><rect height="8" x="118" width="8" fill="#006cff"/><rect height="8" x="126" width="26" fill="#0078ff"/><rect height="8" x="152" width="8" fill="#0070ff"/><rect height="8" x="160" width="9" fill="#006cff"/><rect height="8" x="169" width="8" fill="#0068ff"/><rect height="8" x="177" width="9" fill="#0064ff"/><rect height="8" x="186" width="8" fill="#005cff"/><rect height="8" x="194" width="8" fill="#0058ff"/><rect height="8" x="202" width="9" fill="#0054ff"/><rect height="8" x="211" width="8" fill="#0048ff"/><rect height="8" x="219" width="9" fill="#0044ff"/><rect height="8" x="228" width="8" fill="#0040ff"/><rect height="8" x="236" width="9" fill="#003cff"/><rect height="8" x="245" width="8" fill="#0034ff"/><rect height="8" x="253" width="9" fill="#0030ff"/><rect height="8" x="262" width="8" fill="#0024ff"/><rect height="8" x="270" width="9" fill="#0020ff"/><rect height="8" x="279" width="25" fill="#001cff"/><rect height="8" x="304" width="8" fill="#000cff"/><rect height="8" x="312" width="93" fill="#0000ff"/><rect height="8" x="405" width="9" fill="#0000f1"/><rect height="8" x="414" width="195" fill="#0000fa"/></g>
<g transform="translate(105,358)"><rect height="8" x="0" width="25" fill="#0000fa"/><rect height="8" x="25" width="8" fill="#0000ff"/><rect height="8" x="33" width="17" fill="#0008ff"/><rect height="8" x="50" width="9" fill="#000cff"/><rect height="8" x="59" width="8" fill="#0014ff"/><rect height="8" x="67" width="9" fill="#001cff"/><rect height="8" x="76" width="8" fill="#0024ff"/><rect height="8" x="84" width="9" fill="#002cff"/><rect height="8" x="93" width="8" fill="#0030ff"/><rect height="8" x="101" width="8" fill="#003cff"/><rect height="8" x="109" width="9" fill="#0044ff"/><rect height="8" x="118" width="8" fill="#0048ff"/><rect height="8" x="126" width="9" fill="#0050ff"/><rect height="8" x="135" width="34" fill="#0054ff"/><rect height="8" x="169" width="8" fill="#0050ff"/><rect height="8" x="177" width="9" fill="#0054ff"/><rect height="8" x="186" width="16" fill="#004cff"/><rect height="8" x="202" width="9" fill="#0040ff"/><rect height="8" x="211" width="8" fill="#003cff"/><rect height="8" x="219" width="9" fill="#0034ff"/><rect height="8" x="228" width="17" fill="#0030ff"/><rect height="8" x="245" width="8" fill="#002cff"/><rect height="8" x="253" width="9" fill="#0024ff"/><rect height="8" x="262" width="8" fill="#0020ff"/><rect height="8" x="270" width="9" fill="#001cff"/><rect height="8" x="279" width="25" fill="#0018ff"/><rect height="8" x="304" width="101" fill="#0000ff"/><rect height="8" x="405" width="204" fill="#0000fa"/></g>
<g transform="translate(105,366)"><rect height="9" x="0" width="8" fill="#0018ff"/><rect height="9" x="8" width="42" fill="#001cff"/><rect height="9" x="50" width="26" fill="#0020ff"/><rect height="9" x="76" width="25" fill="#0024ff"/><rect height="9" x="101" width="34" fill="#0034ff"/><rect height="9" x="135" width="42" fill="#0040ff"/><rect height="9" x="177" width="25" fill="#0038ff"/><rect height="9" x="202" width="9" fill="#002cff"/><rect height="9" x="211" width="42" fill="#0020ff"/><rect height="9" x="253" width="9" fill="#001cff"/><rect height="9" x="262" width="8" fill="#000cff"/><rect height="9" x="270" width="102" fill="#0000ff"/><rect height="9" x="372" width="33" fill="#0000f1"/><rect height="9" x="405" width="43" fill="#0000e3"/><rect height="9" x="448" width="17" fill="#0000f1"/><rect height="9" x="465" width="8" fill="#0000f6"/><rect height="9" x="473" width="34" fill="#0000fa"/><rect height="9" x="507" width="76" fill="#0000ff"/><rect height="9" x="583" width="26" fill="#0008ff"/></g>
<g transform="translate(105,375)"><rect height="8" x="0" width="33" fill="#0030ff"/><rect height="8" x="33" width="68" fill="#0034ff"/><rect height="8" x="101" width="68" fill="#0038ff"/><rect height="8" x="169" width="8" fill="#0030ff"/><rect height="8" x="177" width="9" fill="#002cff"/><rect height="8" x="186" width="33" fill="#0024ff"/><rect height="8" x="219" width="26" fill="#0020ff"/><rect height="8" x="245" width="8" fill="#0014ff"/><rect height="8" x="253" width="51" fill="#0000ff"/><rect height="8" x="304" width="51" fill="#0000fa"/><rect height="8" x="355" width="93" fill="#0000e3"/><rect height="8" x="448" width="17" fill="#0000f1"/><rect height="8" x="465" width="8" fill="#0000f6"/><rect height="8" x="473" width="34" fill="#0000fa"/><rect height="8" x="507" width="51" fill="#0000f1"/><rect height="8" x="558" width="25" fill="#000cff"/><rect height="8" x="583" width="26" fill="#0018ff"/></g>
<g transform="translate(105,383)"><rect height="8" x="0" width="101" fill="#0044ff"/><rect height="8" x="101" width="68" fill="#0040ff"/><rect height="8" x="169" width="8" fill="#0034ff"/><rect height="8" x="177" width="9" fill="#0028ff"/><rect height="8" x="186" width="8" fill="#0024ff"/><rect height="8" x="194" width="8" fill="#0020ff"/><rect height="8" x="202" width="26" fill="#0024ff"/><rect height="8" x="228" width="25" fill="#0018ff"/><rect height="8" x="253" width="85" fill="#0000fa"/><rect height="8" x="338" width="34" fill="#0000e8"/><rect height="8" x="372" width="33" fill="#0000d6"/><rect height="8" x="405" width="43" fill="#0000e3"/><rect height="8" x="448" width="17" fill="#0000f1"/><rect height="8" x="465" width="8" fill="#0000f6"/><rect height="8" x="473" width="34" fill="#0000fa"/><rect height="8" x="507" width="34" fill="#0000f1"/><rect height="8" x="541" width="17" fill="#0014ff"/><rect height="8" x="558" width="51" fill="#0038ff"/></g>
</g>
<g clip-path="url(#ax)">
<path d="M127.8,132.3L134.6,130.8L137.9,131.0L136.3,129.6L132.9,128.3L130.3,127.8L136.3,125.7L141.3,124.0L147.2,122.7L154.9,123.5L161.6,124.2L166.7,124.9L173.5,125.6L180.2,126.6L185.3,125.7L192.1,124.7L195.5,124.0L200.5,125.7L207.3,125.2L214.1,126.7L217.5,128.6L225.9,128.4L229.3,127.9L234.4,127.4L241.1,128.6L246.2,127.8L249.6,127.9L250.4,125.7L249.6,123.2L252.1,121.5L255.5,123.5L257.2,125.7L259.7,127.1L263.1,128.3L267.4,125.7L273.3,125.2L274.1,127.4L274.5,130.0L269.9,131.1L265.7,131.1L266.5,133.3L263.1,134.7L258.9,135.9L255.5,137.6L253.0,140.1L251.8,143.5L255.5,146.9L259.7,146.9L263.1,147.7L268.2,149.7L272.4,149.9L272.9,153.6L275.8,156.5L278.4,156.2L278.7,153.6L277.5,150.8L281.7,148.6L282.6,146.0L279.2,143.8L280.9,141.0L280.0,137.7L285.1,138.1L290.2,139.3L293.6,140.1L294.4,143.5L297.0,144.7L300.3,143.8L302.4,141.3L306.3,145.2L308.0,147.7L311.3,150.3L314.7,151.9L317.6,154.5L317.3,156.2L313.0,157.0L310.5,158.4L303.7,158.4L299.5,158.4L296.1,160.7L293.6,162.9L291.9,164.0L294.4,162.4L298.7,160.4L302.9,160.1L302.9,161.8L300.3,162.1L302.0,163.8L302.9,165.1L304.6,165.5L308.0,166.0L309.7,164.0L310.8,165.5L308.8,166.7L304.6,168.0L301.2,169.7L300.0,168.4L302.9,166.7L300.3,166.8L298.7,167.5L295.3,168.9L293.2,169.7L292.4,171.1L293.6,172.6L291.0,173.3L287.7,174.3L286.8,176.5L284.6,178.2L283.4,180.7L283.9,183.2L281.7,184.9L280.0,186.0L277.8,187.5L275.3,189.2L274.3,191.7L275.8,195.4L276.7,198.1L276.0,200.7L274.8,200.8L273.6,199.0L272.1,196.3L271.9,194.1L269.9,192.5L267.7,193.1L265.7,191.9L263.1,192.0L260.6,192.2L261.1,194.1L258.9,193.9L256.4,193.2L253.0,193.2L251.3,194.1L248.8,195.6L247.4,197.3L247.6,199.5L246.7,202.7L246.6,205.4L247.6,208.1L249.1,210.7L251.3,211.8L252.5,212.5L255.5,211.8L257.7,211.5L258.7,209.8L259.1,207.9L261.4,207.1L264.5,206.9L265.2,208.1L264.0,210.3L263.5,212.3L262.6,213.7L261.8,216.4L264.0,216.5L266.5,216.4L269.1,216.6L271.1,217.9L270.6,220.5L270.6,223.0L270.2,224.7L271.1,226.0L272.8,227.7L275.0,228.4L276.8,227.6L278.4,227.2L280.4,228.4L281.1,228.8L282.1,229.8L282.9,228.1L284.3,225.5L285.5,224.7L288.0,224.2L290.2,222.7L291.4,223.3L290.9,225.0L291.6,224.7L293.2,223.8L293.6,222.7L294.4,223.8L296.5,225.0L300.3,225.4L302.9,226.0L305.4,225.2L307.1,225.2L307.5,226.7L309.7,228.9L312.2,229.8L313.5,231.8L315.6,233.1L319.0,233.3L320.6,233.5L323.2,234.8L324.9,235.9L325.7,238.2L327.4,240.3L327.4,242.5L330.0,244.1L331.6,244.5L335.0,245.8L337.1,247.5L339.3,247.4L341.8,248.2L344.3,248.2L346.9,249.6L349.1,251.4L352.3,252.1L353.0,255.1L352.8,257.7L351.6,259.7L349.4,261.9L346.9,265.3L346.0,268.3L346.0,272.1L344.8,274.6L344.0,277.6L342.6,280.5L340.9,282.2L338.4,282.2L335.9,283.2L333.5,283.9L330.8,286.1L329.8,288.1L329.6,291.2L327.4,293.2L325.7,295.7L323.7,297.8L321.7,300.3L319.1,302.3L316.9,302.3L313.9,301.3L315.2,303.4L315.6,305.0L314.6,307.8L312.2,308.8L307.1,309.3L306.8,311.8L304.1,313.0L302.0,312.7L303.7,315.2L301.7,316.9L301.2,319.4L297.8,321.1L300.7,323.1L300.3,324.5L297.8,327.0L296.1,328.4L295.3,330.4L296.3,331.9L296.6,333.0L297.8,334.7L301.7,335.8L299.5,336.7L296.1,337.4L293.6,336.7L290.2,335.2L287.7,333.3L286.0,331.3L284.6,328.7L284.3,325.3L286.0,322.8L284.3,322.0L286.8,319.4L287.3,316.9L286.8,314.4L287.3,311.0L288.0,308.4L287.7,306.2L289.0,303.4L290.7,300.0L291.0,295.7L291.2,292.4L292.1,289.0L292.7,285.6L292.9,283.1L293.2,278.8L293.1,274.4L291.4,273.2L289.4,271.7L285.1,269.4L282.9,266.8L281.6,263.6L279.7,260.2L278.4,257.2L276.8,254.8L274.6,253.5L274.5,251.3L276.2,249.1L276.8,247.5L275.1,247.0L275.1,245.0L276.5,243.3L276.7,241.9L278.7,240.9L279.0,239.1L280.9,237.4L281.4,236.5L280.9,234.0L281.1,231.8L280.2,231.1L279.7,230.6L279.4,229.3L277.5,228.2L276.2,229.4L276.7,230.8L275.0,230.4L273.8,229.8L271.8,229.4L270.6,228.8L268.7,227.1L267.0,226.4L267.0,224.7L265.7,223.3L264.0,221.5L261.8,221.0L259.7,220.1L257.4,219.8L255.9,218.6L253.1,216.2L251.8,215.9L248.8,216.7L245.4,215.7L243.0,214.9L240.0,213.2L236.9,212.3L235.4,211.0L233.5,208.8L233.9,206.9L232.0,204.1L229.3,201.0L226.9,200.0L226.8,197.6L224.9,196.1L222.2,194.2L220.7,190.9L217.8,189.5L218.0,191.7L220.0,194.2L221.2,195.9L223.0,198.5L224.7,201.3L225.4,202.4L226.9,204.1L226.1,204.6L225.4,203.5L222.4,201.3L222.2,199.3L220.0,198.0L217.5,196.3L219.0,195.1L217.6,193.4L216.1,191.9L214.6,189.7L213.9,188.3L211.7,186.1L208.0,184.9L205.8,181.6L204.8,179.4L202.6,176.5L201.6,175.0L201.9,172.2L201.4,170.6L202.2,167.2L202.2,165.0L201.0,161.4L203.9,161.8L204.3,160.4L203.1,159.6L200.5,158.2L196.8,157.0L195.8,155.0L193.8,152.8L191.6,151.1L190.4,149.4L187.8,147.7L185.3,145.2L181.1,144.7L178.5,143.5L175.5,142.3L171.8,141.8L167.5,141.5L165.0,140.4L162.5,140.1L160.8,141.8L158.2,143.0L155.7,143.2L155.2,140.6L158.2,139.8L154.0,141.0L152.3,143.0L151.0,144.3L147.2,146.9L143.9,148.6L139.6,149.9L136.3,150.8L133.2,150.9L135.9,149.9L139.6,148.6L143.4,146.9L145.6,144.3L143.0,144.2L138.3,144.0L138.3,142.3L135.4,142.1L132.5,140.8L131.2,138.9L132.9,137.2L135.4,136.4L139.6,135.7L139.6,134.2L135.4,134.2L130.7,134.2ZM288.5,111.0L297.0,109.7L302.0,108.0L307.1,104.9L319.0,104.1L335.9,103.2L352.8,101.9L369.7,102.9L378.2,104.6L391.7,105.4L383.2,108.0L379.9,110.5L378.2,113.0L380.7,114.7L378.2,117.3L374.8,120.7L374.8,124.0L371.4,125.7L368.0,127.4L361.2,127.9L356.2,130.0L351.1,132.0L344.3,134.2L342.6,136.7L340.1,140.1L337.7,142.0L334.2,140.8L330.0,139.8L327.4,137.6L324.9,134.7L322.3,131.6L321.2,129.1L324.0,126.6L319.8,124.4L319.0,122.3L317.3,119.8L314.7,117.3L310.5,115.1L307.1,114.6L300.3,114.7L295.3,113.9L291.9,112.2ZM402.0,182.7L403.0,182.6L406.9,183.6L408.6,183.9L411.0,182.9L417.1,181.0L420.5,181.0L424.7,180.7L428.6,180.2L430.6,180.7L429.8,181.9L430.1,183.2L430.6,184.6L429.3,185.4L429.1,186.0L430.9,187.1L433.1,187.6L434.3,187.6L437.7,188.5L438.7,190.3L441.6,191.0L444.1,192.0L445.8,190.9L446.0,188.8L448.4,187.6L451.2,188.2L454.3,189.7L457.7,190.2L461.1,191.0L462.8,190.3L464.4,189.8L466.6,190.3L467.0,192.5L467.1,194.2L468.7,196.3L469.5,198.5L471.2,201.9L472.4,204.4L474.4,206.1L474.9,208.1L475.1,210.3L477.1,212.8L478.7,216.9L481.4,218.8L483.9,221.3L485.3,222.0L485.1,223.8L487.3,225.5L491.5,224.5L494.9,224.2L498.6,223.2L498.4,225.7L496.6,229.8L494.9,233.1L493.2,235.7L489.8,239.1L488.6,239.9L485.6,242.5L483.1,244.7L481.4,246.7L480.0,248.4L479.2,250.1L478.0,252.6L478.5,254.8L478.8,257.7L479.3,260.2L480.5,261.1L480.7,264.4L480.9,267.8L480.7,269.5L478.8,271.7L474.6,273.4L473.7,275.1L471.0,276.8L471.7,279.7L472.1,282.2L471.9,283.9L468.7,285.9L467.3,287.3L467.7,289.8L466.8,291.7L464.6,293.9L462.8,296.3L460.2,298.8L457.7,300.3L455.5,300.8L451.8,301.0L449.2,301.2L445.8,302.2L443.3,301.3L443.0,299.1L442.8,297.4L441.3,294.9L439.9,291.7L437.7,289.0L436.5,283.9L436.5,281.7L434.5,278.0L432.3,273.8L432.0,271.2L432.8,268.7L434.8,264.4L435.2,261.9L434.3,258.5L432.8,253.6L432.3,251.8L430.6,249.7L428.1,247.0L426.9,244.5L428.1,242.5L428.2,239.9L428.6,237.4L427.2,236.0L426.4,235.5L423.8,235.9L422.2,236.0L420.5,233.5L419.3,232.6L417.8,232.5L415.4,232.6L413.7,233.3L411.7,234.0L408.6,235.2L406.9,234.7L405.2,234.3L401.8,235.0L399.3,235.9L396.8,234.5L393.7,232.6L392.5,231.6L390.9,230.8L389.7,228.9L389.5,227.2L387.1,225.2L386.6,224.7L384.9,223.2L383.7,222.3L383.6,220.5L382.4,218.4L384.1,216.2L384.4,212.8L384.6,210.7L383.2,207.8L384.9,203.2L386.8,201.0L387.5,199.0L389.7,196.4L392.5,195.4L394.7,193.7L395.6,191.9L395.4,190.2L396.4,188.3L397.6,187.0L399.1,186.5L400.5,185.8L401.5,184.1ZM653.1,261.4L654.8,264.4L655.3,267.5L657.8,268.7L658.6,271.9L659.5,275.1L663.6,277.6L664.4,279.0L667.1,282.2L669.0,284.2L671.0,286.4L671.2,289.7L671.8,291.7L670.8,294.9L670.0,297.4L668.0,300.5L666.1,303.9L665.8,306.4L662.4,307.4L659.7,309.4L657.3,308.3L656.8,308.1L654.8,308.9L651.4,308.3L648.8,306.7L648.0,304.2L646.3,303.5L646.3,302.2L645.1,299.1L643.8,300.8L642.1,302.3L640.7,300.8L638.7,298.8L635.3,297.4L633.6,296.6L630.2,296.9L625.2,297.9L621.8,299.1L620.9,300.6L615.0,300.6L611.6,302.5L608.2,302.3L606.7,301.3L606.5,300.1L607.7,297.4L606.5,294.9L605.9,292.0L605.0,289.8L604.0,287.3L603.8,284.7L604.3,282.2L604.9,280.2L605.9,280.9L607.4,279.3L609.6,278.1L612.6,277.6L615.0,277.0L617.5,275.4L618.7,273.8L618.9,272.1L620.1,271.0L621.1,272.6L621.8,270.9L623.1,269.2L624.8,267.5L626.5,266.6L628.5,268.2L628.9,269.2L631.1,268.5L631.6,266.1L633.3,264.3L635.3,263.9L636.3,262.6L637.8,263.3L640.4,263.9L643.4,263.9L642.9,265.6L641.9,267.3L641.2,268.7L642.9,270.0L644.9,270.7L647.1,271.9L648.2,272.9L650.2,272.9L651.2,270.4L651.5,267.8L651.5,265.3L652.4,262.2ZM97.3,375.6L116.0,376.1L132.9,375.8L144.7,373.9L158.2,371.9L166.7,371.0L175.2,370.2L183.6,369.3L200.5,368.1L217.5,368.5L225.9,369.3L234.4,369.8L239.4,370.2L242.8,366.8L246.2,365.1L251.3,366.5L259.7,366.5L268.2,366.8L276.7,367.1L285.1,365.9L290.2,365.9L291.9,360.0L297.0,358.3L300.3,355.0L305.4,352.4L312.2,350.7L315.6,350.4L313.9,352.4L309.7,354.1L307.1,355.8L305.4,358.3L307.1,361.7L308.8,365.1L308.8,368.5L307.1,370.2L319.0,373.2L330.8,374.9L340.9,375.3L351.1,375.3L356.2,373.6L366.3,371.9L378.2,367.6L386.6,365.9L395.1,363.4L403.5,363.1L412.0,360.9L420.5,361.7L428.9,361.7L437.4,361.4L445.8,361.7L454.3,362.2L462.8,360.9L467.8,359.7L471.2,360.9L476.3,361.4L479.7,360.0L488.1,358.0L496.6,356.6L505.0,355.0L508.4,356.3L513.5,357.3L522.0,357.7L528.7,358.0L530.4,359.2L533.8,360.9L538.9,361.2L544.0,359.2L547.3,358.0L555.8,356.3L564.3,356.1L572.7,355.5L576.1,354.4L581.2,354.6L589.6,355.8L598.1,355.3L606.5,356.1L615.0,356.3L623.5,355.8L631.9,355.3L640.4,355.0L648.8,356.1L657.3,357.0L665.8,359.2L674.2,360.4L682.7,361.7L691.1,363.1L699.6,364.3L700.4,366.8L696.2,369.3L691.1,371.0L689.4,373.6L693.7,374.9L699.6,374.4L708.0,375.3L726.7,375.6L726.7,398.9L97.3,398.9ZM466.6,190.3L469.9,190.3L470.9,189.0L471.2,187.5L472.1,186.0L472.7,184.1L472.6,181.9L473.2,181.4L472.1,181.4L470.5,181.0L469.0,182.1L467.0,182.2L464.4,181.0L463.4,181.9L461.9,182.1L459.9,181.2L458.4,180.7L458.0,179.4L456.5,178.5L457.5,177.7L457.3,176.6L456.2,176.5L456.3,175.6L457.2,175.0L458.5,175.0L461.1,175.0L461.6,174.3L461.2,173.9L461.4,173.6L463.6,173.6L465.3,173.4L468.3,172.2L471.2,172.2L473.7,173.4L476.3,173.9L479.2,173.9L482.2,172.9L482.4,171.7L480.2,170.4L478.3,169.0L476.3,168.0L475.1,167.2L474.1,166.8L475.4,166.3L476.6,165.1L478.3,163.6L476.3,163.6L473.7,164.3L471.5,165.0L471.2,166.0L473.7,166.7L471.9,167.2L469.9,168.0L468.7,168.0L467.8,166.7L467.0,166.5L468.8,165.5L466.5,165.1L466.0,164.5L463.9,164.6L462.2,166.7L460.6,168.5L460.4,169.9L459.2,170.2L458.9,171.4L459.5,172.9L461.2,173.5L461.1,173.9L459.4,173.9L458.2,174.4L457.2,174.8L456.3,175.5L457.3,174.5L456.0,174.4L454.3,174.1L453.3,174.1L452.3,175.1L451.6,175.3L450.7,174.8L450.2,175.6L450.9,177.0L451.8,178.2L452.8,179.0L452.6,179.5L451.8,179.2L451.1,179.2L451.2,180.2L451.1,181.6L450.1,181.7L449.2,180.9L448.7,181.0L448.0,179.4L448.7,178.5L447.5,177.7L447.0,176.8L446.2,176.1L445.0,175.1L445.0,173.1L444.5,172.2L443.3,171.4L441.6,170.6L439.1,169.7L437.7,168.5L436.5,166.8L435.5,167.5L435.0,166.2L433.0,166.5L432.8,168.0L434.8,169.5L436.0,171.4L439.1,172.4L439.1,173.1L440.8,173.8L443.3,175.5L443.0,176.0L440.8,174.8L440.1,176.1L440.9,177.3L439.9,178.3L438.6,179.2L438.7,178.0L439.2,177.3L438.4,175.6L437.4,175.3L436.5,174.6L436.0,174.3L434.0,173.6L432.8,172.8L430.8,171.6L429.8,170.6L429.4,169.7L428.6,168.7L427.1,168.2L425.5,169.0L424.5,169.4L422.5,170.4L421.0,170.0L419.6,169.9L417.9,170.0L417.1,171.4L417.4,172.4L415.7,173.3L413.4,174.3L411.5,176.5L412.3,177.7L411.2,178.5L410.6,179.7L408.8,180.9L404.6,181.2L403.0,182.2L402.5,182.4L401.3,181.6L400.3,180.4L398.6,180.7L396.9,180.7L397.1,178.3L395.9,177.7L396.3,176.6L397.1,175.3L397.3,173.6L396.9,172.1L396.3,170.6L398.0,169.5L399.0,169.2L402.2,169.5L405.6,169.7L409.0,169.9L409.6,168.0L410.0,166.3L410.0,165.1L408.3,163.6L406.2,162.6L404.6,162.4L403.9,161.4L406.1,160.7L408.6,160.9L409.3,160.9L409.3,159.2L409.8,159.7L412.2,159.6L414.5,158.5L414.7,157.2L416.2,156.9L417.9,156.3L418.8,155.3L420.0,153.8L421.3,153.0L423.8,152.8L425.9,152.3L426.9,151.9L426.5,150.4L425.7,149.2L425.7,147.7L426.5,146.7L429.9,145.7L429.6,147.7L430.4,147.9L429.3,148.9L428.4,150.3L428.9,151.1L430.6,151.3L430.4,151.9L432.5,151.6L434.7,150.9L436.2,152.1L439.4,151.4L443.3,150.6L443.6,151.3L445.7,151.3L447.5,149.7L447.7,148.6L447.5,147.2L448.4,146.2L450.2,145.7L451.2,146.9L452.6,146.9L453.3,145.2L451.8,143.8L451.6,143.2L453.8,142.6L456.8,142.5L459.4,142.6L461.9,141.9L460.2,140.8L457.5,141.0L454.3,141.5L450.9,142.1L448.4,141.0L448.2,139.3L448.0,136.7L450.9,135.2L453.4,133.7L455.0,133.3L454.8,132.3L452.9,132.0L449.6,132.3L448.0,133.8L446.3,135.4L443.3,136.7L441.3,137.7L441.1,140.6L443.3,141.3L444.1,142.1L442.6,143.0L440.8,144.2L440.1,145.5L439.7,147.4L438.4,148.2L436.2,149.4L434.0,149.6L433.5,148.6L433.8,147.4L432.3,145.7L430.9,143.7L429.9,142.0L429.4,143.3L428.1,143.7L425.5,145.0L423.8,145.2L421.6,143.7L421.0,141.1L420.5,140.1L420.5,138.4L422.5,137.6L425.0,136.6L428.4,135.5L430.6,134.2L432.6,132.5L434.0,131.3L436.4,129.4L438.2,128.3L439.1,127.4L441.6,126.2L444.1,125.4L447.5,124.9L452.1,123.7L455.6,123.0L458.5,123.2L460.2,123.7L464.4,124.2L462.8,125.2L467.8,125.9L472.9,126.4L477.1,127.8L480.5,128.8L481.9,130.3L479.7,131.3L476.3,131.5L471.2,130.8L467.8,130.5L469.5,131.6L470.9,133.3L471.0,134.4L473.7,135.2L475.9,134.4L474.6,133.2L479.2,134.0L480.0,132.0L483.1,131.0L486.4,131.6L486.1,129.6L486.8,127.4L489.8,128.3L490.3,130.3L494.0,128.9L498.3,127.6L502.5,126.7L504.2,127.8L508.4,127.2L511.8,126.6L514.3,125.4L514.3,126.9L516.9,126.6L521.1,126.1L525.3,127.6L527.5,126.6L525.3,124.9L525.0,123.2L527.9,121.5L529.6,119.8L533.8,120.1L534.6,122.3L535.2,126.6L536.3,129.1L537.5,126.6L538.0,123.2L539.4,121.2L544.0,121.0L548.2,119.0L557.5,117.3L559.2,116.3L567.6,114.9L576.1,114.4L581.2,113.9L588.4,111.9L593.0,113.0L599.8,113.5L604.0,114.7L601.5,117.3L593.0,119.5L598.1,118.3L603.2,118.5L605.7,118.8L614.2,119.8L620.9,118.8L626.0,118.3L628.5,119.3L631.1,120.7L630.2,122.7L633.6,123.4L637.0,122.2L642.1,122.2L645.5,122.3L648.8,120.7L652.2,121.2L659.0,120.8L665.8,122.2L670.0,123.4L677.6,123.0L682.7,124.9L684.4,125.6L689.4,125.4L695.4,125.2L700.4,124.7L700.9,126.6L704.7,125.2L709.7,125.2L714.0,125.9L716.5,126.6L723.3,128.6L728.3,130.0L731.7,130.6L733.9,131.5L732.6,132.5L728.0,134.4L724.1,133.7L720.7,132.7L718.2,131.3L717.4,133.3L712.3,133.8L715.7,137.6L711.4,137.6L704.7,140.1L700.1,142.0L694.5,141.3L691.1,142.0L688.6,142.1L688.3,145.2L686.9,145.7L688.1,148.2L686.1,150.6L682.7,151.9L682.3,153.3L679.8,155.3L677.1,157.0L675.9,154.5L675.2,151.1L675.2,147.7L677.3,145.5L680.1,144.3L682.7,142.6L685.9,141.1L688.6,139.3L689.4,137.7L686.9,139.1L683.5,138.8L683.5,140.6L679.3,138.9L676.8,139.3L674.2,142.8L670.8,143.3L667.1,142.6L663.2,143.0L658.1,143.0L653.9,143.0L649.7,145.5L646.3,147.7L643.8,150.3L640.7,150.8L644.6,151.9L648.0,151.6L651.0,153.3L651.0,155.0L649.7,157.9L649.3,161.3L647.1,163.8L644.6,166.3L641.2,168.5L637.8,170.7L635.3,170.2L633.1,171.7L631.6,173.1L631.4,174.3L629.0,175.6L627.7,176.5L629.2,178.2L630.7,180.7L631.1,182.4L630.6,183.8L628.2,184.4L626.0,185.1L626.0,182.7L626.2,180.7L626.2,179.9L624.3,179.4L623.1,178.7L624.0,176.8L622.4,175.8L618.7,177.0L617.2,177.3L618.4,174.8L616.7,174.1L615.0,175.6L611.6,177.2L613.1,179.4L616.4,179.4L619.4,180.0L616.7,181.6L613.8,184.1L615.8,186.6L618.2,189.7L618.2,191.0L616.4,192.0L618.4,192.7L617.7,195.1L616.2,195.9L614.5,199.3L612.5,201.3L609.4,203.9L605.4,205.4L604.0,205.7L601.5,206.6L598.9,207.4L598.4,209.0L597.6,207.8L596.6,206.9L594.7,206.9L592.7,208.3L591.2,211.2L592.2,213.4L593.4,214.9L595.2,216.1L596.7,220.0L597.1,222.2L596.7,223.3L594.7,225.2L593.0,225.9L592.2,227.2L589.6,228.8L589.6,226.4L588.4,225.5L587.1,225.4L586.1,223.5L584.9,222.7L582.9,221.8L582.7,220.6L581.2,220.8L581.0,223.0L580.5,224.7L579.8,226.4L581.0,227.6L581.7,229.3L582.2,231.1L584.0,232.0L585.1,232.8L586.9,235.2L586.9,236.9L587.8,239.1L588.4,240.9L587.1,241.1L584.9,239.6L583.4,238.2L582.2,236.2L581.7,234.2L581.5,232.5L580.5,231.5L578.3,229.9L578.3,228.1L578.8,226.4L578.8,223.3L578.1,219.6L577.1,215.4L575.8,214.5L574.7,215.2L573.0,216.6L571.5,216.2L571.9,213.7L571.0,211.2L569.2,209.3L567.6,206.9L567.3,205.6L565.1,205.2L563.4,206.4L561.2,206.6L559.2,207.8L558.3,209.5L556.1,210.3L554.4,212.0L552.9,213.4L551.2,215.2L549.4,216.4L547.7,217.9L547.5,220.5L547.8,221.1L547.2,223.0L547.2,225.9L546.0,227.6L544.3,228.4L543.2,229.6L541.4,228.1L540.9,226.4L540.2,224.2L538.5,221.5L537.4,218.3L536.8,217.1L536.0,214.5L535.2,211.2L535.0,208.6L534.8,206.9L534.0,207.3L532.1,208.1L530.4,207.8L528.7,205.7L530.4,204.6L528.4,204.1L527.4,203.2L526.2,202.7L525.3,201.3L524.5,200.3L521.1,200.7L517.4,200.8L516.0,200.8L514.3,200.5L511.5,200.2L508.9,199.7L508.1,197.6L505.0,198.1L504.2,198.3L501.7,197.6L499.1,196.3L497.9,194.4L496.9,192.5L494.9,191.9L494.0,192.5L493.0,193.6L494.0,195.3L494.6,196.4L496.6,198.1L496.9,199.8L497.8,201.0L497.9,200.0L498.6,199.1L499.3,200.5L499.1,201.9L500.8,202.4L504.0,201.9L505.6,200.5L506.9,199.1L507.4,201.0L508.4,202.7L511.1,203.4L513.2,205.2L511.5,208.5L509.8,211.2L507.6,212.8L505.4,213.7L503.4,214.5L500.3,216.2L498.3,217.6L494.9,219.1L492.4,220.3L488.1,221.6L485.6,221.8L485.1,220.8L484.6,218.3L484.1,215.7L483.4,213.7L481.4,211.2L479.7,209.0L478.3,206.9L477.1,204.4L476.3,202.5L474.9,200.5L473.7,199.0L472.1,196.8L471.2,195.8L470.5,195.8L471.2,193.4L471.0,193.4L470.2,195.9L469.9,196.4L468.8,195.4L468.2,194.9L467.3,193.1L467.1,192.5ZM97.3,125.7L105.0,125.9L107.5,126.6L114.3,128.6L119.3,130.0L122.7,130.6L124.9,131.5L123.6,132.5L119.0,134.4L115.1,133.7L111.7,132.7L109.2,131.3L108.3,133.3L103.3,133.8L106.6,137.6L102.4,137.6L97.3,139.3ZM370.9,132.3L373.1,131.0L375.6,131.6L377.7,132.2L381.5,131.3L384.4,130.8L387.3,131.6L389.0,133.3L386.6,134.5L380.7,136.0L377.3,135.7L373.6,135.4L374.8,134.4L371.4,133.5L374.3,132.8ZM402.4,158.6L406.1,158.2L408.6,157.7L410.1,157.5L412.5,157.4L414.4,156.7L413.5,156.2L414.9,154.3L412.8,153.6L412.2,152.6L410.0,150.9L409.3,149.4L408.4,148.7L406.9,148.6L407.6,147.7L408.4,146.7L409.0,145.9L406.1,145.7L406.8,144.2L403.5,144.2L402.2,146.0L402.4,147.7L402.7,149.7L403.7,150.3L403.4,150.8L406.1,150.4L406.4,151.8L406.8,153.0L404.4,153.1L404.7,154.0L405.1,154.8L403.2,155.5L404.9,156.0L406.9,156.3L404.9,156.7L403.4,158.0ZM401.5,155.0L397.6,156.0L394.7,155.8L394.4,155.2L395.9,153.3L394.9,151.9L397.6,151.3L397.5,150.3L399.7,149.7L401.8,149.9L402.7,151.1L401.7,152.1L401.7,153.1ZM430.6,108.8L439.1,108.0L447.5,107.3L457.7,107.6L452.6,109.3L447.5,110.5L443.3,112.2L439.9,113.7L435.7,112.2L431.5,110.5ZM508.4,124.0L501.7,123.2L499.1,121.5L501.7,119.0L505.9,116.4L513.5,114.4L523.7,113.0L528.7,113.4L523.7,114.7L515.2,115.9L511.8,117.8L508.4,119.8L506.7,121.5L509.3,123.2ZM567.6,108.3L573.6,105.9L577.8,106.8L582.0,108.3L587.9,109.1L590.5,110.5L582.9,111.5L579.5,110.0L574.4,109.7ZM643.8,115.6L648.8,114.6L657.3,115.6L665.8,116.1L664.1,116.8L653.9,116.6L648.8,116.8ZM714.3,123.0L717.4,122.3L720.7,122.7L718.2,123.5L714.8,123.5ZM105.3,123.0L108.3,122.3L111.7,122.7L109.2,123.5L105.8,123.5ZM302.0,138.4L293.6,137.1L288.5,134.5L280.0,134.2L285.1,132.5L287.7,132.2L288.5,129.1L287.7,127.4L280.0,125.7L277.5,125.1L273.3,125.1L268.2,124.4L263.1,124.0L260.6,122.3L259.7,119.0L268.2,118.5L275.0,118.6L281.7,120.1L286.8,122.0L291.9,123.2L296.1,124.9L298.7,126.6L303.7,129.1L308.0,130.5L305.4,132.5L302.0,132.0L297.0,130.8L303.7,134.2L301.2,136.4L296.1,135.5ZM240.3,125.7L234.4,127.1L225.9,127.2L219.1,127.4L214.1,125.7L214.1,124.0L219.1,123.2L210.7,122.3L212.4,120.1L219.1,119.5L225.9,120.1L231.0,119.3L234.4,120.7L235.2,123.2L241.1,124.5ZM203.9,122.9L199.7,121.0L201.4,117.8L207.3,117.3L213.2,118.1L215.8,119.3L212.4,120.7L209.8,121.8ZM276.7,114.2L261.4,113.7L264.8,111.3L256.4,108.8L251.3,107.1L256.4,105.8L268.2,104.1L285.1,102.7L297.0,102.9L307.1,103.9L303.7,105.4L297.0,106.6L291.9,108.3L285.1,109.7L283.4,111.3L280.0,113.0ZM275.8,116.9L261.4,117.3L255.5,115.6L251.3,113.9L259.7,113.9L269.9,115.1L276.7,115.2ZM214.1,116.1L220.8,114.2L229.3,113.9L233.5,115.1L232.7,116.4L224.2,117.3L217.5,116.6ZM249.6,118.3L258.9,118.1L258.9,119.8L254.7,121.5L250.4,121.2ZM239.4,119.8L247.9,118.5L248.8,120.7L245.4,122.7L239.4,121.8ZM236.1,113.9L246.2,113.7L247.1,115.9L241.1,116.4L236.1,115.6ZM264.8,134.7L267.4,136.2L271.6,136.9L275.0,135.9L276.2,135.0L271.6,133.0L268.2,131.6L264.8,133.0ZM311.7,162.8L313.9,160.4L315.6,157.4L317.9,156.0L317.3,158.7L320.6,159.4L322.3,161.1L322.8,162.9L321.5,164.5L318.1,164.0L317.3,162.8ZM268.2,206.3L271.6,204.4L272.6,204.1L276.7,204.2L280.9,206.4L284.3,208.3L286.5,209.1L284.3,209.6L280.6,209.7L281.4,208.5L279.2,206.9L275.8,206.1L273.3,205.4L270.7,205.7ZM286.1,211.8L288.8,212.0L289.5,211.8L287.8,209.8L290.7,209.8L293.6,210.0L296.3,211.8L293.6,212.3L291.0,213.4L289.4,212.6L286.1,212.5ZM279.5,212.2L282.9,212.6L282.9,213.0L279.5,212.7ZM298.3,212.0L301.0,212.2L300.9,212.8L298.3,212.8ZM495.4,263.6L497.4,269.5L495.7,272.1L494.9,275.4L493.2,280.5L491.7,285.4L488.5,286.6L486.4,285.6L485.3,280.5L486.9,277.1L486.4,272.9L487.1,270.7L490.3,269.9L492.9,268.0L494.4,265.3ZM547.3,226.7L549.4,228.9L550.6,231.0L550.0,232.6L548.4,233.3L547.3,232.8L547.1,231.5L547.0,229.3ZM650.4,173.1L651.4,174.8L652.2,176.5L650.5,178.5L650.4,180.9L650.2,182.9L648.5,184.3L648.3,183.2L646.8,184.8L645.8,184.8L643.8,184.8L643.6,185.3L641.7,186.7L640.5,185.3L640.7,184.7L637.8,185.1L635.8,185.3L633.6,185.8L633.6,185.1L636.5,183.2L639.5,183.1L641.9,182.9L643.3,181.0L644.3,179.9L644.1,181.0L646.3,180.0L647.8,178.7L648.7,177.0L648.5,175.6L648.8,174.6L649.3,173.6ZM649.0,173.1L650.9,172.6L649.3,171.7L650.5,171.7L654.3,172.2L656.3,170.6L658.6,169.9L657.8,168.4L656.1,168.9L653.9,167.9L652.1,166.3L651.5,167.2L651.7,168.9L651.0,170.2L649.5,170.0L648.5,171.2ZM633.4,186.0L634.8,186.5L635.3,187.8L634.5,190.0L633.1,190.9L632.3,190.3L632.3,188.3L631.4,187.5L631.2,186.8L632.6,186.5ZM636.0,186.6L637.0,187.9L639.0,187.0L639.9,186.0L639.2,185.2L637.0,185.8ZM653.4,151.3L654.4,154.5L654.3,157.9L656.8,160.4L653.6,160.1L653.9,163.3L654.8,165.3L653.4,164.3L652.2,165.5L652.1,162.9L652.4,160.4L651.9,157.0L651.7,153.1ZM617.5,200.5L618.2,201.0L617.5,203.5L616.4,206.3L615.3,204.7L615.2,203.4L616.7,201.0ZM595.9,210.8L597.6,209.3L599.8,209.5L598.9,211.5L597.2,212.5L595.9,211.8ZM616.0,212.0L618.7,212.0L619.2,214.5L617.7,216.6L618.0,219.3L618.9,219.6L621.8,221.3L621.9,222.0L620.1,220.5L617.9,219.8L616.0,220.0L616.5,218.6L615.3,218.3L614.7,215.7L615.7,215.2L615.7,213.7ZM624.1,226.7L625.8,228.9L626.2,231.0L625.5,232.6L624.6,233.1L624.5,231.5L624.1,233.8L621.8,232.3L621.8,230.4L620.6,230.8L618.4,231.6L618.7,229.9L620.8,228.6L623.0,228.9ZM622.3,222.2L624.0,222.2L624.6,224.4L623.8,226.2L623.1,226.0L622.6,224.2ZM618.4,223.3L620.2,223.8L620.6,225.9L620.2,227.9L619.2,227.1L619.4,225.7L618.4,225.5ZM615.7,220.5L617.0,220.6L617.5,222.0L617.0,222.7L616.4,221.8ZM610.3,229.1L612.5,227.2L614.2,225.4L614.7,224.0L613.7,225.5L611.6,227.7L610.4,228.6ZM596.4,240.8L597.5,239.8L600.3,239.1L603.2,237.9L604.9,235.7L607.4,234.0L608.4,233.1L609.6,231.5L611.1,232.5L611.8,233.5L613.7,234.5L612.1,235.9L611.1,237.4L611.6,239.6L613.3,241.6L611.3,241.9L610.8,244.1L609.6,245.5L609.1,247.5L608.2,249.6L606.5,250.1L605.7,249.2L603.2,248.7L601.1,249.1L598.4,248.2L598.3,245.8L596.7,244.1L596.4,241.9ZM573.2,233.8L576.9,234.5L578.3,236.2L580.8,238.2L582.5,239.6L584.2,240.4L586.2,242.1L587.6,243.6L588.6,245.0L589.5,247.2L591.3,248.4L591.2,250.9L591.2,253.1L590.0,253.1L589.0,253.3L587.6,251.8L585.1,249.9L582.9,247.5L581.8,245.0L579.6,242.8L579.0,240.4L576.4,237.9L574.6,236.2ZM590.0,254.8L591.3,253.3L592.7,253.6L595.5,254.6L598.8,255.0L599.8,254.1L602.7,255.5L605.5,256.5L605.5,258.0L602.7,257.5L599.8,257.3L597.2,256.5L595.5,256.5L592.2,255.8ZM606.5,257.2L609.6,257.5L613.3,257.3L616.7,257.5L620.1,257.2L619.7,258.2L615.0,258.2L611.6,258.4L609.6,258.5L606.9,258.2ZM620.9,260.8L622.6,258.9L627.4,257.5L626.0,258.5L623.5,259.7ZM613.3,259.2L615.3,259.2L616.4,260.4L615.0,260.7L613.3,259.9ZM623.2,240.8L620.1,241.7L618.4,241.5L616.5,241.0L614.7,242.5L614.7,243.5L613.8,245.3L613.0,247.7L613.8,249.2L614.2,251.8L614.0,252.8L615.7,252.8L615.5,250.1L616.5,247.9L617.5,250.1L618.4,251.5L619.9,250.7L619.1,248.7L617.9,246.7L619.9,244.8L620.8,244.8L618.4,244.8L616.7,245.5L615.3,244.8L615.0,242.6L617.5,242.5L620.1,242.5L622.6,242.6L623.8,240.8ZM627.7,239.6L628.5,240.6L629.7,240.8L628.9,241.9L629.7,242.8L628.4,243.3L628.4,244.7L627.7,242.5L627.9,241.3ZM628.5,248.2L631.1,248.0L633.3,248.7L632.8,249.4L630.2,249.1L628.5,249.1ZM633.6,244.7L636.2,244.0L638.7,244.7L639.2,247.5L640.4,248.9L642.9,247.0L645.1,245.8L648.0,247.0L650.5,247.7L653.9,249.1L656.6,249.9L658.6,252.1L660.7,253.5L662.0,254.6L660.7,254.8L662.4,256.8L664.6,258.5L667.1,260.7L665.8,261.2L662.4,260.4L661.0,259.4L659.0,257.0L656.5,256.2L654.8,257.3L653.1,258.9L650.5,258.7L648.0,257.0L645.5,257.5L646.6,255.1L645.5,252.6L642.9,251.1L640.4,250.7L637.7,249.9L636.5,249.9L635.8,248.3L637.8,247.4L635.3,246.7L633.4,245.7ZM662.9,252.8L665.8,251.8L668.3,250.4L669.6,250.6L669.1,252.3L666.6,253.8L664.1,253.8ZM667.1,247.7L669.1,248.7L670.8,250.9L670.3,251.1L668.3,248.7ZM656.8,312.2L659.8,312.8L662.9,312.5L662.9,314.7L662.2,316.4L660.3,317.1L659.0,316.9L657.6,314.7L656.8,313.0ZM704.2,301.5L705.5,302.5L707.2,304.2L708.9,305.4L709.6,306.7L712.3,307.4L714.0,306.9L713.1,308.9L711.4,310.1L710.6,312.3L708.6,313.7L707.7,313.2L708.4,311.3L706.4,310.1L707.4,308.9L707.7,306.7L706.9,305.0L705.0,302.8ZM704.2,311.8L706.2,312.7L706.9,313.8L705.8,315.0L704.3,316.7L704.8,317.4L701.8,318.2L700.8,320.9L698.7,322.1L696.7,322.1L693.7,321.5L693.7,320.6L695.9,318.6L697.1,317.6L699.6,316.4L701.6,315.0L702.5,313.8L703.1,312.5ZM433.0,179.0L434.7,178.7L438.4,178.5L437.5,179.9L437.5,181.2L435.7,180.5L433.0,179.7ZM425.9,174.1L427.6,173.5L428.6,174.8L428.2,177.0L427.2,177.3L426.2,177.0L426.2,175.3ZM426.5,171.6L427.9,170.6L428.1,172.2L427.6,173.3L426.5,172.4ZM451.8,183.1L452.9,183.2L454.6,183.4L456.5,183.6L456.3,184.0L453.8,184.2L451.8,183.7ZM466.6,184.1L467.8,183.4L470.5,182.9L469.5,184.1L467.8,184.8ZM150.6,146.0L154.0,144.7L154.9,146.0L152.3,147.2ZM195.0,157.4L199.7,158.2L203.1,160.7L203.1,161.6L200.5,160.9L197.5,159.4ZM148.1,209.1L149.8,209.8L148.9,211.2L148.1,210.3ZM121.9,135.9L126.1,136.4L125.3,136.7L121.9,136.2ZM689.4,277.3L692.0,279.2L694.5,281.0L693.7,281.2L690.3,278.7ZM711.9,272.7L714.1,273.1L713.6,274.1L711.9,273.9ZM430.9,148.9L433.1,148.4L433.3,149.2L432.3,150.3L430.9,149.7ZM442.8,146.9L444.1,145.4L443.8,146.5ZM502.3,222.0L504.2,222.0L503.4,222.5Z" fill="rgb(190,190,190)" fill-opacity="0.2" stroke="none" fill-rule="evenodd"/>
<path d="M492.4,166.3L495.7,164.6L499.1,163.8L501.7,164.1L502.0,166.7L498.8,166.8L498.3,168.0L497.1,167.9L498.1,168.5L500.6,170.9L501.3,172.8L503.2,174.3L501.7,175.6L502.7,177.0L503.2,180.2L503.4,180.9L500.0,181.4L497.1,180.0L494.9,179.9L494.7,178.2L495.6,176.6L497.3,175.1L495.2,173.6L493.7,171.9L492.4,170.6L492.4,168.5L491.0,167.9L491.5,166.7ZM511.0,165.8L512.7,164.6L515.2,164.5L516.0,166.3L514.3,168.0L512.7,169.5L511.0,169.4L510.6,167.5ZM465.8,244.1L467.0,242.8L469.5,242.8L469.9,245.0L468.7,247.5L467.0,247.9L465.8,246.3ZM256.4,164.3L259.7,162.4L262.3,161.3L265.7,160.9L268.5,162.3L268.9,164.6L265.7,164.6L263.1,163.5L260.6,164.1ZM263.5,172.2L265.5,172.2L266.2,169.7L267.9,166.7L267.4,165.5L264.8,166.0L263.3,168.9ZM269.1,165.5L272.4,165.1L275.8,166.3L276.7,167.9L273.8,170.2L272.4,170.2L270.7,168.5L271.1,166.8ZM271.1,172.8L274.1,172.9L278.4,171.1L278.4,170.6L275.8,171.1L272.4,171.9ZM277.2,170.0L280.0,170.0L282.9,169.4L282.6,168.5L279.2,169.0ZM587.6,156.0L590.5,155.7L594.7,153.3L597.7,149.4L596.9,148.9L593.9,151.9L590.5,154.5ZM203.1,131.6L209.0,133.3L212.4,131.3L210.7,130.0L205.6,130.3ZM214.1,140.1L219.1,138.4L224.2,137.1L226.8,137.6L222.5,139.3L217.5,140.3ZM244.5,152.8L247.1,152.3L248.8,156.2L248.2,157.9L246.2,155.3ZM463.6,141.8L467.0,141.3L467.5,140.1L464.4,139.1L462.8,140.1ZM461.4,249.1L462.2,250.9L463.9,256.8L464.4,258.0L463.3,256.0L461.6,252.6ZM469.5,259.5L470.7,262.8L471.5,267.0L470.7,267.5L470.0,264.4ZM536.3,166.3L538.9,164.5L544.0,164.8L545.6,164.3L544.8,165.1L539.7,165.7L537.2,167.3ZM434.8,221.3L436.5,220.5L437.0,221.6L435.7,222.2ZM293.6,269.4L294.8,269.5L295.6,270.9L294.4,270.7Z" fill="#fff" fill-opacity="0.22" stroke="#000" stroke-opacity="0.55" stroke-width="0.5"/>
<path d="M127.8,132.3L134.6,130.8L137.9,131.0L136.3,129.6L132.9,128.3L130.3,127.8L136.3,125.7L141.3,124.0L147.2,122.7L154.9,123.5L161.6,124.2L166.7,124.9L173.5,125.6L180.2,126.6L185.3,125.7L192.1,124.7L195.5,124.0L200.5,125.7L207.3,125.2L214.1,126.7L217.5,128.6L225.9,128.4L229.3,127.9L234.4,127.4L241.1,128.6L246.2,127.8L249.6,127.9L250.4,125.7L249.6,123.2L252.1,121.5L255.5,123.5L257.2,125.7L259.7,127.1L263.1,128.3L267.4,125.7L273.3,125.2L274.1,127.4L274.5,130.0L269.9,131.1L265.7,131.1L266.5,133.3L263.1,134.7L258.9,135.9L255.5,137.6L253.0,140.1L251.8,143.5L255.5,146.9L259.7,146.9L263.1,147.7L268.2,149.7L272.4,149.9L272.9,153.6L275.8,156.5L278.4,156.2L278.7,153.6L277.5,150.8L281.7,148.6L282.6,146.0L279.2,143.8L280.9,141.0L280.0,137.7L285.1,138.1L290.2,139.3L293.6,140.1L294.4,143.5L297.0,144.7L300.3,143.8L302.4,141.3L306.3,145.2L308.0,147.7L311.3,150.3L314.7,151.9L317.6,154.5L317.3,156.2L313.0,157.0L310.5,158.4L303.7,158.4L299.5,158.4L296.1,160.7L293.6,162.9L291.9,164.0L294.4,162.4L298.7,160.4L302.9,160.1L302.9,161.8L300.3,162.1L302.0,163.8L302.9,165.1L304.6,165.5L308.0,166.0L309.7,164.0L310.8,165.5L308.8,166.7L304.6,168.0L301.2,169.7L300.0,168.4L302.9,166.7L300.3,166.8L298.7,167.5L295.3,168.9L293.2,169.7L292.4,171.1L293.6,172.6L291.0,173.3L287.7,174.3L286.8,176.5L284.6,178.2L283.4,180.7L283.9,183.2L281.7,184.9L280.0,186.0L277.8,187.5L275.3,189.2L274.3,191.7L275.8,195.4L276.7,198.1L276.0,200.7L274.8,200.8L273.6,199.0L272.1,196.3L271.9,194.1L269.9,192.5L267.7,193.1L265.7,191.9L263.1,192.0L260.6,192.2L261.1,194.1L258.9,193.9L256.4,193.2L253.0,193.2L251.3,194.1L248.8,195.6L247.4,197.3L247.6,199.5L246.7,202.7L246.6,205.4L247.6,208.1L249.1,210.7L251.3,211.8L252.5,212.5L255.5,211.8L257.7,211.5L258.7,209.8L259.1,207.9L261.4,207.1L264.5,206.9L265.2,208.1L264.0,210.3L263.5,212.3L262.6,213.7L261.8,216.4L264.0,216.5L266.5,216.4L269.1,216.6L271.1,217.9L270.6,220.5L270.6,223.0L270.2,224.7L271.1,226.0L272.8,227.7L275.0,228.4L276.8,227.6L278.4,227.2L280.4,228.4L281.1,228.8L282.1,229.8L282.9,228.1L284.3,225.5L285.5,224.7L288.0,224.2L290.2,222.7L291.4,223.3L290.9,225.0L291.6,224.7L293.2,223.8L293.6,222.7L294.4,223.8L296.5,225.0L300.3,225.4L302.9,226.0L305.4,225.2L307.1,225.2L307.5,226.7L309.7,228.9L312.2,229.8L313.5,231.8L315.6,233.1L319.0,233.3L320.6,233.5L323.2,234.8L324.9,235.9L325.7,238.2L327.4,240.3L327.4,242.5L330.0,244.1L331.6,244.5L335.0,245.8L337.1,247.5L339.3,247.4L341.8,248.2L344.3,248.2L346.9,249.6L349.1,251.4L352.3,252.1L353.0,255.1L352.8,257.7L351.6,259.7L349.4,261.9L346.9,265.3L346.0,268.3L346.0,272.1L344.8,274.6L344.0,277.6L342.6,280.5L340.9,282.2L338.4,282.2L335.9,283.2L333.5,283.9L330.8,286.1L329.8,288.1L329.6,291.2L327.4,293.2L325.7,295.7L323.7,297.8L321.7,300.3L319.1,302.3L316.9,302.3L313.9,301.3L315.2,303.4L315.6,305.0L314.6,307.8L312.2,308.8L307.1,309.3L306.8,311.8L304.1,313.0L302.0,312.7L303.7,315.2L301.7,316.9L301.2,319.4L297.8,321.1L300.7,323.1L300.3,324.5L297.8,327.0L296.1,328.4L295.3,330.4L296.3,331.9L296.6,333.0L297.8,334.7L301.7,335.8L299.5,336.7L296.1,337.4L293.6,336.7L290.2,335.2L287.7,333.3L286.0,331.3L284.6,328.7L284.3,325.3L286.0,322.8L284.3,322.0L286.8,319.4L287.3,316.9L286.8,314.4L287.3,311.0L288.0,308.4L287.7,306.2L289.0,303.4L290.7,300.0L291.0,295.7L291.2,292.4L292.1,289.0L292.7,285.6L292.9,283.1L293.2,278.8L293.1,274.4L291.4,273.2L289.4,271.7L285.1,269.4L282.9,266.8L281.6,263.6L279.7,260.2L278.4,257.2L276.8,254.8L274.6,253.5L274.5,251.3L276.2,249.1L276.8,247.5L275.1,247.0L275.1,245.0L276.5,243.3L276.7,241.9L278.7,240.9L279.0,239.1L280.9,237.4L281.4,236.5L280.9,234.0L281.1,231.8L280.2,231.1L279.7,230.6L279.4,229.3L277.5,228.2L276.2,229.4L276.7,230.8L275.0,230.4L273.8,229.8L271.8,229.4L270.6,228.8L268.7,227.1L267.0,226.4L267.0,224.7L265.7,223.3L264.0,221.5L261.8,221.0L259.7,220.1L257.4,219.8L255.9,218.6L253.1,216.2L251.8,215.9L248.8,216.7L245.4,215.7L243.0,214.9L240.0,213.2L236.9,212.3L235.4,211.0L233.5,208.8L233.9,206.9L232.0,204.1L229.3,201.0L226.9,200.0L226.8,197.6L224.9,196.1L222.2,194.2L220.7,190.9L217.8,189.5L218.0,191.7L220.0,194.2L221.2,195.9L223.0,198.5L224.7,201.3L225.4,202.4L226.9,204.1L226.1,204.6L225.4,203.5L222.4,201.3L222.2,199.3L220.0,198.0L217.5,196.3L219.0,195.1L217.6,193.4L216.1,191.9L214.6,189.7L213.9,188.3L211.7,186.1L208.0,184.9L205.8,181.6L204.8,179.4L202.6,176.5L201.6,175.0L201.9,172.2L201.4,170.6L202.2,167.2L202.2,165.0L201.0,161.4L203.9,161.8L204.3,160.4L203.1,159.6L200.5,158.2L196.8,157.0L195.8,155.0L193.8,152.8L191.6,151.1L190.4,149.4L187.8,147.7L185.3,145.2L181.1,144.7L178.5,143.5L175.5,142.3L171.8,141.8L167.5,141.5L165.0,140.4L162.5,140.1L160.8,141.8L158.2,143.0L155.7,143.2L155.2,140.6L158.2,139.8L154.0,141.0L152.3,143.0L151.0,144.3L147.2,146.9L143.9,148.6L139.6,149.9L136.3,150.8L133.2,150.9L135.9,149.9L139.6,148.6L143.4,146.9L145.6,144.3L143.0,144.2L138.3,144.0L138.3,142.3L135.4,142.1L132.5,140.8L131.2,138.9L132.9,137.2L135.4,136.4L139.6,135.7L139.6,134.2L135.4,134.2L130.7,134.2ZM288.5,111.0L297.0,109.7L302.0,108.0L307.1,104.9L319.0,104.1L335.9,103.2L352.8,101.9L369.7,102.9L378.2,104.6L391.7,105.4L383.2,108.0L379.9,110.5L378.2,113.0L380.7,114.7L378.2,117.3L374.8,120.7L374.8,124.0L371.4,125.7L368.0,127.4L361.2,127.9L356.2,130.0L351.1,132.0L344.3,134.2L342.6,136.7L340.1,140.1L337.7,142.0L334.2,140.8L330.0,139.8L327.4,137.6L324.9,134.7L322.3,131.6L321.2,129.1L324.0,126.6L319.8,124.4L319.0,122.3L317.3,119.8L314.7,117.3L310.5,115.1L307.1,114.6L300.3,114.7L295.3,113.9L291.9,112.2ZM402.0,182.7L403.0,182.6L406.9,183.6L408.6,183.9L411.0,182.9L417.1,181.0L420.5,181.0L424.7,180.7L428.6,180.2L430.6,180.7L429.8,181.9L430.1,183.2L430.6,184.6L429.3,185.4L429.1,186.0L430.9,187.1L433.1,187.6L434.3,187.6L437.7,188.5L438.7,190.3L441.6,191.0L444.1,192.0L445.8,190.9L446.0,188.8L448.4,187.6L451.2,188.2L454.3,189.7L457.7,190.2L461.1,191.0L462.8,190.3L464.4,189.8L466.6,190.3L467.0,192.5L467.1,194.2L468.7,196.3L469.5,198.5L471.2,201.9L472.4,204.4L474.4,206.1L474.9,208.1L475.1,210.3L477.1,212.8L478.7,216.9L481.4,218.8L483.9,221.3L485.3,222.0L485.1,223.8L487.3,225.5L491.5,224.5L494.9,224.2L498.6,223.2L498.4,225.7L496.6,229.8L494.9,233.1L493.2,235.7L489.8,239.1L488.6,239.9L485.6,242.5L483.1,244.7L481.4,246.7L480.0,248.4L479.2,250.1L478.0,252.6L478.5,254.8L478.8,257.7L479.3,260.2L480.5,261.1L480.7,264.4L480.9,267.8L480.7,269.5L478.8,271.7L474.6,273.4L473.7,275.1L471.0,276.8L471.7,279.7L472.1,282.2L471.9,283.9L468.7,285.9L467.3,287.3L467.7,289.8L466.8,291.7L464.6,293.9L462.8,296.3L460.2,298.8L457.7,300.3L455.5,300.8L451.8,301.0L449.2,301.2L445.8,302.2L443.3,301.3L443.0,299.1L442.8,297.4L441.3,294.9L439.9,291.7L437.7,289.0L436.5,283.9L436.5,281.7L434.5,278.0L432.3,273.8L432.0,271.2L432.8,268.7L434.8,264.4L435.2,261.9L434.3,258.5L432.8,253.6L432.3,251.8L430.6,249.7L428.1,247.0L426.9,244.5L428.1,242.5L428.2,239.9L428.6,237.4L427.2,236.0L426.4,235.5L423.8,235.9L422.2,236.0L420.5,233.5L419.3,232.6L417.8,232.5L415.4,232.6L413.7,233.3L411.7,234.0L408.6,235.2L406.9,234.7L405.2,234.3L401.8,235.0L399.3,235.9L396.8,234.5L393.7,232.6L392.5,231.6L390.9,230.8L389.7,228.9L389.5,227.2L387.1,225.2L386.6,224.7L384.9,223.2L383.7,222.3L383.6,220.5L382.4,218.4L384.1,216.2L384.4,212.8L384.6,210.7L383.2,207.8L384.9,203.2L386.8,201.0L387.5,199.0L389.7,196.4L392.5,195.4L394.7,193.7L395.6,191.9L395.4,190.2L396.4,188.3L397.6,187.0L399.1,186.5L400.5,185.8L401.5,184.1ZM653.1,261.4L654.8,264.4L655.3,267.5L657.8,268.7L658.6,271.9L659.5,275.1L663.6,277.6L664.4,279.0L667.1,282.2L669.0,284.2L671.0,286.4L671.2,289.7L671.8,291.7L670.8,294.9L670.0,297.4L668.0,300.5L666.1,303.9L665.8,306.4L662.4,307.4L659.7,309.4L657.3,308.3L656.8,308.1L654.8,308.9L651.4,308.3L648.8,306.7L648.0,304.2L646.3,303.5L646.3,302.2L645.1,299.1L643.8,300.8L642.1,302.3L640.7,300.8L638.7,298.8L635.3,297.4L633.6,296.6L630.2,296.9L625.2,297.9L621.8,299.1L620.9,300.6L615.0,300.6L611.6,302.5L608.2,302.3L606.7,301.3L606.5,300.1L607.7,297.4L606.5,294.9L605.9,292.0L605.0,289.8L604.0,287.3L603.8,284.7L604.3,282.2L604.9,280.2L605.9,280.9L607.4,279.3L609.6,278.1L612.6,277.6L615.0,277.0L617.5,275.4L618.7,273.8L618.9,272.1L620.1,271.0L621.1,272.6L621.8,270.9L623.1,269.2L624.8,267.5L626.5,266.6L628.5,268.2L628.9,269.2L631.1,268.5L631.6,266.1L633.3,264.3L635.3,263.9L636.3,262.6L637.8,263.3L640.4,263.9L643.4,263.9L642.9,265.6L641.9,267.3L641.2,268.7L642.9,270.0L644.9,270.7L647.1,271.9L648.2,272.9L650.2,272.9L651.2,270.4L651.5,267.8L651.5,265.3L652.4,262.2ZM97.3,375.6L116.0,376.1L132.9,375.8L144.7,373.9L158.2,371.9L166.7,371.0L175.2,370.2L183.6,369.3L200.5,368.1L217.5,368.5L225.9,369.3L234.4,369.8L239.4,370.2L242.8,366.8L246.2,365.1L251.3,366.5L259.7,366.5L268.2,366.8L276.7,367.1L285.1,365.9L290.2,365.9L291.9,360.0L297.0,358.3L300.3,355.0L305.4,352.4L312.2,350.7L315.6,350.4L313.9,352.4L309.7,354.1L307.1,355.8L305.4,358.3L307.1,361.7L308.8,365.1L308.8,368.5L307.1,370.2L319.0,373.2L330.8,374.9L340.9,375.3L351.1,375.3L356.2,373.6L366.3,371.9L378.2,367.6L386.6,365.9L395.1,363.4L403.5,363.1L412.0,360.9L420.5,361.7L428.9,361.7L437.4,361.4L445.8,361.7L454.3,362.2L462.8,360.9L467.8,359.7L471.2,360.9L476.3,361.4L479.7,360.0L488.1,358.0L496.6,356.6L505.0,355.0L508.4,356.3L513.5,357.3L522.0,357.7L528.7,358.0L530.4,359.2L533.8,360.9L538.9,361.2L544.0,359.2L547.3,358.0L555.8,356.3L564.3,356.1L572.7,355.5L576.1,354.4L581.2,354.6L589.6,355.8L598.1,355.3L606.5,356.1L615.0,356.3L623.5,355.8L631.9,355.3L640.4,355.0L648.8,356.1L657.3,357.0L665.8,359.2L674.2,360.4L682.7,361.7L691.1,363.1L699.6,364.3L700.4,366.8L696.2,369.3L691.1,371.0L689.4,373.6L693.7,374.9L699.6,374.4L708.0,375.3L726.7,375.6L726.7,398.9L97.3,398.9ZM466.6,190.3L469.9,190.3L470.9,189.0L471.2,187.5L472.1,186.0L472.7,184.1L472.6,181.9L473.2,181.4L472.1,181.4L470.5,181.0L469.0,182.1L467.0,182.2L464.4,181.0L463.4,181.9L461.9,182.1L459.9,181.2L458.4,180.7L458.0,179.4L456.5,178.5L457.5,177.7L457.3,176.6L456.2,176.5L456.3,175.6L457.2,175.0L458.5,175.0L461.1,175.0L461.6,174.3L461.2,173.9L461.4,173.6L463.6,173.6L465.3,173.4L468.3,172.2L471.2,172.2L473.7,173.4L476.3,173.9L479.2,173.9L482.2,172.9L482.4,171.7L480.2,170.4L478.3,169.0L476.3,168.0L475.1,167.2L474.1,166.8L475.4,166.3L476.6,165.1L478.3,163.6L476.3,163.6L473.7,164.3L471.5,165.0L471.2,166.0L473.7,166.7L471.9,167.2L469.9,168.0L468.7,168.0L467.8,166.7L467.0,166.5L468.8,165.5L466.5,165.1L466.0,164.5L463.9,164.6L462.2,166.7L460.6,168.5L460.4,169.9L459.2,170.2L458.9,171.4L459.5,172.9L461.2,173.5L461.1,173.9L459.4,173.9L458.2,174.4L457.2,174.8L456.3,175.5L457.3,174.5L456.0,174.4L454.3,174.1L453.3,174.1L452.3,175.1L451.6,175.3L450.7,174.8L450.2,175.6L450.9,177.0L451.8,178.2L452.8,179.0L452.6,179.5L451.8,179.2L451.1,179.2L451.2,180.2L451.1,181.6L450.1,181.7L449.2,180.9L448.7,181.0L448.0,179.4L448.7,178.5L447.5,177.7L447.0,176.8L446.2,176.1L445.0,175.1L445.0,173.1L444.5,172.2L443.3,171.4L441.6,170.6L439.1,169.7L437.7,168.5L436.5,166.8L435.5,167.5L435.0,166.2L433.0,166.5L432.8,168.0L434.8,169.5L436.0,171.4L439.1,172.4L439.1,173.1L440.8,173.8L443.3,175.5L443.0,176.0L440.8,174.8L440.1,176.1L440.9,177.3L439.9,178.3L438.6,179.2L438.7,178.0L439.2,177.3L438.4,175.6L437.4,175.3L436.5,174.6L436.0,174.3L434.0,173.6L432.8,172.8L430.8,171.6L429.8,170.6L429.4,169.7L428.6,168.7L427.1,168.2L425.5,169.0L424.5,169.4L422.5,170.4L421.0,170.0L419.6,169.9L417.9,170.0L417.1,171.4L417.4,172.4L415.7,173.3L413.4,174.3L411.5,176.5L412.3,177.7L411.2,178.5L410.6,179.7L408.8,180.9L404.6,181.2L403.0,182.2L402.5,182.4L401.3,181.6L400.3,180.4L398.6,180.7L396.9,180.7L397.1,178.3L395.9,177.7L396.3,176.6L397.1,175.3L397.3,173.6L396.9,172.1L396.3,170.6L398.0,169.5L399.0,169.2L402.2,169.5L405.6,169.7L409.0,169.9L409.6,168.0L410.0,166.3L410.0,165.1L408.3,163.6L406.2,162.6L404.6,162.4L403.9,161.4L406.1,160.7L408.6,160.9L409.3,160.9L409.3,159.2L409.8,159.7L412.2,159.6L414.5,158.5L414.7,157.2L416.2,156.9L417.9,156.3L418.8,155.3L420.0,153.8L421.3,153.0L423.8,152.8L425.9,152.3L426.9,151.9L426.5,150.4L425.7,149.2L425.7,147.7L426.5,146.7L429.9,145.7L429.6,147.7L430.4,147.9L429.3,148.9L428.4,150.3L428.9,151.1L430.6,151.3L430.4,151.9L432.5,151.6L434.7,150.9L436.2,152.1L439.4,151.4L443.3,150.6L443.6,151.3L445.7,151.3L447.5,149.7L447.7,148.6L447.5,147.2L448.4,146.2L450.2,145.7L451.2,146.9L452.6,146.9L453.3,145.2L451.8,143.8L451.6,143.2L453.8,142.6L456.8,142.5L459.4,142.6L461.9,141.9L460.2,140.8L457.5,141.0L454.3,141.5L450.9,142.1L448.4,141.0L448.2,139.3L448.0,136.7L450.9,135.2L453.4,133.7L455.0,133.3L454.8,132.3L452.9,132.0L449.6,132.3L448.0,133.8L446.3,135.4L443.3,136.7L441.3,137.7L441.1,140.6L443.3,141.3L444.1,142.1L442.6,143.0L440.8,144.2L440.1,145.5L439.7,147.4L438.4,148.2L436.2,149.4L434.0,149.6L433.5,148.6L433.8,147.4L432.3,145.7L430.9,143.7L429.9,142.0L429.4,143.3L428.1,143.7L425.5,145.0L423.8,145.2L421.6,143.7L421.0,141.1L420.5,140.1L420.5,138.4L422.5,137.6L425.0,136.6L428.4,135.5L430.6,134.2L432.6,132.5L434.0,131.3L436.4,129.4L438.2,128.3L439.1,127.4L441.6,126.2L444.1,125.4L447.5,124.9L452.1,123.7L455.6,123.0L458.5,123.2L460.2,123.7L464.4,124.2L462.8,125.2L467.8,125.9L472.9,126.4L477.1,127.8L480.5,128.8L481.9,130.3L479.7,131.3L476.3,131.5L471.2,130.8L467.8,130.5L469.5,131.6L470.9,133.3L471.0,134.4L473.7,135.2L475.9,134.4L474.6,133.2L479.2,134.0L480.0,132.0L483.1,131.0L486.4,131.6L486.1,129.6L486.8,127.4L489.8,128.3L490.3,130.3L494.0,128.9L498.3,127.6L502.5,126.7L504.2,127.8L508.4,127.2L511.8,126.6L514.3,125.4L514.3,126.9L516.9,126.6L521.1,126.1L525.3,127.6L527.5,126.6L525.3,124.9L525.0,123.2L527.9,121.5L529.6,119.8L533.8,120.1L534.6,122.3L535.2,126.6L536.3,129.1L537.5,126.6L538.0,123.2L539.4,121.2L544.0,121.0L548.2,119.0L557.5,117.3L559.2,116.3L567.6,114.9L576.1,114.4L581.2,113.9L588.4,111.9L593.0,113.0L599.8,113.5L604.0,114.7L601.5,117.3L593.0,119.5L598.1,118.3L603.2,118.5L605.7,118.8L614.2,119.8L620.9,118.8L626.0,118.3L628.5,119.3L631.1,120.7L630.2,122.7L633.6,123.4L637.0,122.2L642.1,122.2L645.5,122.3L648.8,120.7L652.2,121.2L659.0,120.8L665.8,122.2L670.0,123.4L677.6,123.0L682.7,124.9L684.4,125.6L689.4,125.4L695.4,125.2L700.4,124.7L700.9,126.6L704.7,125.2L709.7,125.2L714.0,125.9L716.5,126.6L723.3,128.6L728.3,130.0L731.7,130.6L733.9,131.5L732.6,132.5L728.0,134.4L724.1,133.7L720.7,132.7L718.2,131.3L717.4,133.3L712.3,133.8L715.7,137.6L711.4,137.6L704.7,140.1L700.1,142.0L694.5,141.3L691.1,142.0L688.6,142.1L688.3,145.2L686.9,145.7L688.1,148.2L686.1,150.6L682.7,151.9L682.3,153.3L679.8,155.3L677.1,157.0L675.9,154.5L675.2,151.1L675.2,147.7L677.3,145.5L680.1,144.3L682.7,142.6L685.9,141.1L688.6,139.3L689.4,137.7L686.9,139.1L683.5,138.8L683.5,140.6L679.3,138.9L676.8,139.3L674.2,142.8L670.8,143.3L667.1,142.6L663.2,143.0L658.1,143.0L653.9,143.0L649.7,145.5L646.3,147.7L643.8,150.3L640.7,150.8L644.6,151.9L648.0,151.6L651.0,153.3L651.0,155.0L649.7,157.9L649.3,161.3L647.1,163.8L644.6,166.3L641.2,168.5L637.8,170.7L635.3,170.2L633.1,171.7L631.6,173.1L631.4,174.3L629.0,175.6L627.7,176.5L629.2,178.2L630.7,180.7L631.1,182.4L630.6,183.8L628.2,184.4L626.0,185.1L626.0,182.7L626.2,180.7L626.2,179.9L624.3,179.4L623.1,178.7L624.0,176.8L622.4,175.8L618.7,177.0L617.2,177.3L618.4,174.8L616.7,174.1L615.0,175.6L611.6,177.2L613.1,179.4L616.4,179.4L619.4,180.0L616.7,181.6L613.8,184.1L615.8,186.6L618.2,189.7L618.2,191.0L616.4,192.0L618.4,192.7L617.7,195.1L616.2,195.9L614.5,199.3L612.5,201.3L609.4,203.9L605.4,205.4L604.0,205.7L601.5,206.6L598.9,207.4L598.4,209.0L597.6,207.8L596.6,206.9L594.7,206.9L592.7,208.3L591.2,211.2L592.2,213.4L593.4,214.9L595.2,216.1L596.7,220.0L597.1,222.2L596.7,223.3L594.7,225.2L593.0,225.9L592.2,227.2L589.6,228.8L589.6,226.4L588.4,225.5L587.1,225.4L586.1,223.5L584.9,222.7L582.9,221.8L582.7,220.6L581.2,220.8L581.0,223.0L580.5,224.7L579.8,226.4L581.0,227.6L581.7,229.3L582.2,231.1L584.0,232.0L585.1,232.8L586.9,235.2L586.9,236.9L587.8,239.1L588.4,240.9L587.1,241.1L584.9,239.6L583.4,238.2L582.2,236.2L581.7,234.2L581.5,232.5L580.5,231.5L578.3,229.9L578.3,228.1L578.8,226.4L578.8,223.3L578.1,219.6L577.1,215.4L575.8,214.5L574.7,215.2L573.0,216.6L571.5,216.2L571.9,213.7L571.0,211.2L569.2,209.3L567.6,206.9L567.3,205.6L565.1,205.2L563.4,206.4L561.2,206.6L559.2,207.8L558.3,209.5L556.1,210.3L554.4,212.0L552.9,213.4L551.2,215.2L549.4,216.4L547.7,217.9L547.5,220.5L547.8,221.1L547.2,223.0L547.2,225.9L546.0,227.6L544.3,228.4L543.2,229.6L541.4,228.1L540.9,226.4L540.2,224.2L538.5,221.5L537.4,218.3L536.8,217.1L536.0,214.5L535.2,211.2L535.0,208.6L534.8,206.9L534.0,207.3L532.1,208.1L530.4,207.8L528.7,205.7L530.4,204.6L528.4,204.1L527.4,203.2L526.2,202.7L525.3,201.3L524.5,200.3L521.1,200.7L517.4,200.8L516.0,200.8L514.3,200.5L511.5,200.2L508.9,199.7L508.1,197.6L505.0,198.1L504.2,198.3L501.7,197.6L499.1,196.3L497.9,194.4L496.9,192.5L494.9,191.9L494.0,192.5L493.0,193.6L494.0,195.3L494.6,196.4L496.6,198.1L496.9,199.8L497.8,201.0L497.9,200.0L498.6,199.1L499.3,200.5L499.1,201.9L500.8,202.4L504.0,201.9L505.6,200.5L506.9,199.1L507.4,201.0L508.4,202.7L511.1,203.4L513.2,205.2L511.5,208.5L509.8,211.2L507.6,212.8L505.4,213.7L503.4,214.5L500.3,216.2L498.3,217.6L494.9,219.1L492.4,220.3L488.1,221.6L485.6,221.8L485.1,220.8L484.6,218.3L484.1,215.7L483.4,213.7L481.4,211.2L479.7,209.0L478.3,206.9L477.1,204.4L476.3,202.5L474.9,200.5L473.7,199.0L472.1,196.8L471.2,195.8L470.5,195.8L471.2,193.4L471.0,193.4L470.2,195.9L469.9,196.4L468.8,195.4L468.2,194.9L467.3,193.1L467.1,192.5ZM97.3,125.7L105.0,125.9L107.5,126.6L114.3,128.6L119.3,130.0L122.7,130.6L124.9,131.5L123.6,132.5L119.0,134.4L115.1,133.7L111.7,132.7L109.2,131.3L108.3,133.3L103.3,133.8L106.6,137.6L102.4,137.6L97.3,139.3ZM370.9,132.3L373.1,131.0L375.6,131.6L377.7,132.2L381.5,131.3L384.4,130.8L387.3,131.6L389.0,133.3L386.6,134.5L380.7,136.0L377.3,135.7L373.6,135.4L374.8,134.4L371.4,133.5L374.3,132.8ZM402.4,158.6L406.1,158.2L408.6,157.7L410.1,157.5L412.5,157.4L414.4,156.7L413.5,156.2L414.9,154.3L412.8,153.6L412.2,152.6L410.0,150.9L409.3,149.4L408.4,148.7L406.9,148.6L407.6,147.7L408.4,146.7L409.0,145.9L406.1,145.7L406.8,144.2L403.5,144.2L402.2,146.0L402.4,147.7L402.7,149.7L403.7,150.3L403.4,150.8L406.1,150.4L406.4,151.8L406.8,153.0L404.4,153.1L404.7,154.0L405.1,154.8L403.2,155.5L404.9,156.0L406.9,156.3L404.9,156.7L403.4,158.0ZM401.5,155.0L397.6,156.0L394.7,155.8L394.4,155.2L395.9,153.3L394.9,151.9L397.6,151.3L397.5,150.3L399.7,149.7L401.8,149.9L402.7,151.1L401.7,152.1L401.7,153.1ZM430.6,108.8L439.1,108.0L447.5,107.3L457.7,107.6L452.6,109.3L447.5,110.5L443.3,112.2L439.9,113.7L435.7,112.2L431.5,110.5ZM508.4,124.0L501.7,123.2L499.1,121.5L501.7,119.0L505.9,116.4L513.5,114.4L523.7,113.0L528.7,113.4L523.7,114.7L515.2,115.9L511.8,117.8L508.4,119.8L506.7,121.5L509.3,123.2ZM567.6,108.3L573.6,105.9L577.8,106.8L582.0,108.3L587.9,109.1L590.5,110.5L582.9,111.5L579.5,110.0L574.4,109.7ZM643.8,115.6L648.8,114.6L657.3,115.6L665.8,116.1L664.1,116.8L653.9,116.6L648.8,116.8ZM714.3,123.0L717.4,122.3L720.7,122.7L718.2,123.5L714.8,123.5ZM105.3,123.0L108.3,122.3L111.7,122.7L109.2,123.5L105.8,123.5ZM302.0,138.4L293.6,137.1L288.5,134.5L280.0,134.2L285.1,132.5L287.7,132.2L288.5,129.1L287.7,127.4L280.0,125.7L277.5,125.1L273.3,125.1L268.2,124.4L263.1,124.0L260.6,122.3L259.7,119.0L268.2,118.5L275.0,118.6L281.7,120.1L286.8,122.0L291.9,123.2L296.1,124.9L298.7,126.6L303.7,129.1L308.0,130.5L305.4,132.5L302.0,132.0L297.0,130.8L303.7,134.2L301.2,136.4L296.1,135.5ZM240.3,125.7L234.4,127.1L225.9,127.2L219.1,127.4L214.1,125.7L214.1,124.0L219.1,123.2L210.7,122.3L212.4,120.1L219.1,119.5L225.9,120.1L231.0,119.3L234.4,120.7L235.2,123.2L241.1,124.5ZM203.9,122.9L199.7,121.0L201.4,117.8L207.3,117.3L213.2,118.1L215.8,119.3L212.4,120.7L209.8,121.8ZM276.7,114.2L261.4,113.7L264.8,111.3L256.4,108.8L251.3,107.1L256.4,105.8L268.2,104.1L285.1,102.7L297.0,102.9L307.1,103.9L303.7,105.4L297.0,106.6L291.9,108.3L285.1,109.7L283.4,111.3L280.0,113.0ZM275.8,116.9L261.4,117.3L255.5,115.6L251.3,113.9L259.7,113.9L269.9,115.1L276.7,115.2ZM214.1,116.1L220.8,114.2L229.3,113.9L233.5,115.1L232.7,116.4L224.2,117.3L217.5,116.6ZM249.6,118.3L258.9,118.1L258.9,119.8L254.7,121.5L250.4,121.2ZM239.4,119.8L247.9,118.5L248.8,120.7L245.4,122.7L239.4,121.8ZM236.1,113.9L246.2,113.7L247.1,115.9L241.1,116.4L236.1,115.6ZM264.8,134.7L267.4,136.2L271.6,136.9L275.0,135.9L276.2,135.0L271.6,133.0L268.2,131.6L264.8,133.0ZM311.7,162.8L313.9,160.4L315.6,157.4L317.9,156.0L317.3,158.7L320.6,159.4L322.3,161.1L322.8,162.9L321.5,164.5L318.1,164.0L317.3,162.8ZM268.2,206.3L271.6,204.4L272.6,204.1L276.7,204.2L280.9,206.4L284.3,208.3L286.5,209.1L284.3,209.6L280.6,209.7L281.4,208.5L279.2,206.9L275.8,206.1L273.3,205.4L270.7,205.7ZM286.1,211.8L288.8,212.0L289.5,211.8L287.8,209.8L290.7,209.8L293.6,210.0L296.3,211.8L293.6,212.3L291.0,213.4L289.4,212.6L286.1,212.5ZM279.5,212.2L282.9,212.6L282.9,213.0L279.5,212.7ZM298.3,212.0L301.0,212.2L300.9,212.8L298.3,212.8ZM495.4,263.6L497.4,269.5L495.7,272.1L494.9,275.4L493.2,280.5L491.7,285.4L488.5,286.6L486.4,285.6L485.3,280.5L486.9,277.1L486.4,272.9L487.1,270.7L490.3,269.9L492.9,268.0L494.4,265.3ZM547.3,226.7L549.4,228.9L550.6,231.0L550.0,232.6L548.4,233.3L547.3,232.8L547.1,231.5L547.0,229.3ZM650.4,173.1L651.4,174.8L652.2,176.5L650.5,178.5L650.4,180.9L650.2,182.9L648.5,184.3L648.3,183.2L646.8,184.8L645.8,184.8L643.8,184.8L643.6,185.3L641.7,186.7L640.5,185.3L640.7,184.7L637.8,185.1L635.8,185.3L633.6,185.8L633.6,185.1L636.5,183.2L639.5,183.1L641.9,182.9L643.3,181.0L644.3,179.9L644.1,181.0L646.3,180.0L647.8,178.7L648.7,177.0L648.5,175.6L648.8,174.6L649.3,173.6ZM649.0,173.1L650.9,172.6L649.3,171.7L650.5,171.7L654.3,172.2L656.3,170.6L658.6,169.9L657.8,168.4L656.1,168.9L653.9,167.9L652.1,166.3L651.5,167.2L651.7,168.9L651.0,170.2L649.5,170.0L648.5,171.2ZM633.4,186.0L634.8,186.5L635.3,187.8L634.5,190.0L633.1,190.9L632.3,190.3L632.3,188.3L631.4,187.5L631.2,186.8L632.6,186.5ZM636.0,186.6L637.0,187.9L639.0,187.0L639.9,186.0L639.2,185.2L637.0,185.8ZM653.4,151.3L654.4,154.5L654.3,157.9L656.8,160.4L653.6,160.1L653.9,163.3L654.8,165.3L653.4,164.3L652.2,165.5L652.1,162.9L652.4,160.4L651.9,157.0L651.7,153.1ZM617.5,200.5L618.2,201.0L617.5,203.5L616.4,206.3L615.3,204.7L615.2,203.4L616.7,201.0ZM595.9,210.8L597.6,209.3L599.8,209.5L598.9,211.5L597.2,212.5L595.9,211.8ZM616.0,212.0L618.7,212.0L619.2,214.5L617.7,216.6L618.0,219.3L618.9,219.6L621.8,221.3L621.9,222.0L620.1,220.5L617.9,219.8L616.0,220.0L616.5,218.6L615.3,218.3L614.7,215.7L615.7,215.2L615.7,213.7ZM624.1,226.7L625.8,228.9L626.2,231.0L625.5,232.6L624.6,233.1L624.5,231.5L624.1,233.8L621.8,232.3L621.8,230.4L620.6,230.8L618.4,231.6L618.7,229.9L620.8,228.6L623.0,228.9ZM622.3,222.2L624.0,222.2L624.6,224.4L623.8,226.2L623.1,226.0L622.6,224.2ZM618.4,223.3L620.2,223.8L620.6,225.9L620.2,227.9L619.2,227.1L619.4,225.7L618.4,225.5ZM615.7,220.5L617.0,220.6L617.5,222.0L617.0,222.7L616.4,221.8ZM610.3,229.1L612.5,227.2L614.2,225.4L614.7,224.0L613.7,225.5L611.6,227.7L610.4,228.6ZM596.4,240.8L597.5,239.8L600.3,239.1L603.2,237.9L604.9,235.7L607.4,234.0L608.4,233.1L609.6,231.5L611.1,232.5L611.8,233.5L613.7,234.5L612.1,235.9L611.1,237.4L611.6,239.6L613.3,241.6L611.3,241.9L610.8,244.1L609.6,245.5L609.1,247.5L608.2,249.6L606.5,250.1L605.7,249.2L603.2,248.7L601.1,249.1L598.4,248.2L598.3,245.8L596.7,244.1L596.4,241.9ZM573.2,233.8L576.9,234.5L578.3,236.2L580.8,238.2L582.5,239.6L584.2,240.4L586.2,242.1L587.6,243.6L588.6,245.0L589.5,247.2L591.3,248.4L591.2,250.9L591.2,253.1L590.0,253.1L589.0,253.3L587.6,251.8L585.1,249.9L582.9,247.5L581.8,245.0L579.6,242.8L579.0,240.4L576.4,237.9L574.6,236.2ZM590.0,254.8L591.3,253.3L592.7,253.6L595.5,254.6L598.8,255.0L599.8,254.1L602.7,255.5L605.5,256.5L605.5,258.0L602.7,257.5L599.8,257.3L597.2,256.5L595.5,256.5L592.2,255.8ZM606.5,257.2L609.6,257.5L613.3,257.3L616.7,257.5L620.1,257.2L619.7,258.2L615.0,258.2L611.6,258.4L609.6,258.5L606.9,258.2ZM620.9,260.8L622.6,258.9L627.4,257.5L626.0,258.5L623.5,259.7ZM613.3,259.2L615.3,259.2L616.4,260.4L615.0,260.7L613.3,259.9ZM623.2,240.8L620.1,241.7L618.4,241.5L616.5,241.0L614.7,242.5L614.7,243.5L613.8,245.3L613.0,247.7L613.8,249.2L614.2,251.8L614.0,252.8L615.7,252.8L615.5,250.1L616.5,247.9L617.5,250.1L618.4,251.5L619.9,250.7L619.1,248.7L617.9,246.7L619.9,244.8L620.8,244.8L618.4,244.8L616.7,245.5L615.3,244.8L615.0,242.6L617.5,242.5L620.1,242.5L622.6,242.6L623.8,240.8ZM627.7,239.6L628.5,240.6L629.7,240.8L628.9,241.9L629.7,242.8L628.4,243.3L628.4,244.7L627.7,242.5L627.9,241.3ZM628.5,248.2L631.1,248.0L633.3,248.7L632.8,249.4L630.2,249.1L628.5,249.1ZM633.6,244.7L636.2,244.0L638.7,244.7L639.2,247.5L640.4,248.9L642.9,247.0L645.1,245.8L648.0,247.0L650.5,247.7L653.9,249.1L656.6,249.9L658.6,252.1L660.7,253.5L662.0,254.6L660.7,254.8L662.4,256.8L664.6,258.5L667.1,260.7L665.8,261.2L662.4,260.4L661.0,259.4L659.0,257.0L656.5,256.2L654.8,257.3L653.1,258.9L650.5,258.7L648.0,257.0L645.5,257.5L646.6,255.1L645.5,252.6L642.9,251.1L640.4,250.7L637.7,249.9L636.5,249.9L635.8,248.3L637.8,247.4L635.3,246.7L633.4,245.7ZM662.9,252.8L665.8,251.8L668.3,250.4L669.6,250.6L669.1,252.3L666.6,253.8L664.1,253.8ZM667.1,247.7L669.1,248.7L670.8,250.9L670.3,251.1L668.3,248.7ZM656.8,312.2L659.8,312.8L662.9,312.5L662.9,314.7L662.2,316.4L660.3,317.1L659.0,316.9L657.6,314.7L656.8,313.0ZM704.2,301.5L705.5,302.5L707.2,304.2L708.9,305.4L709.6,306.7L712.3,307.4L714.0,306.9L713.1,308.9L711.4,310.1L710.6,312.3L708.6,313.7L707.7,313.2L708.4,311.3L706.4,310.1L707.4,308.9L707.7,306.7L706.9,305.0L705.0,302.8ZM704.2,311.8L706.2,312.7L706.9,313.8L705.8,315.0L704.3,316.7L704.8,317.4L701.8,318.2L700.8,320.9L698.7,322.1L696.7,322.1L693.7,321.5L693.7,320.6L695.9,318.6L697.1,317.6L699.6,316.4L701.6,315.0L702.5,313.8L703.1,312.5ZM433.0,179.0L434.7,178.7L438.4,178.5L437.5,179.9L437.5,181.2L435.7,180.5L433.0,179.7ZM425.9,174.1L427.6,173.5L428.6,174.8L428.2,177.0L427.2,177.3L426.2,177.0L426.2,175.3ZM426.5,171.6L427.9,170.6L428.1,172.2L427.6,173.3L426.5,172.4ZM451.8,183.1L452.9,183.2L454.6,183.4L456.5,183.6L456.3,184.0L453.8,184.2L451.8,183.7ZM466.6,184.1L467.8,183.4L470.5,182.9L469.5,184.1L467.8,184.8ZM150.6,146.0L154.0,144.7L154.9,146.0L152.3,147.2ZM195.0,157.4L199.7,158.2L203.1,160.7L203.1,161.6L200.5,160.9L197.5,159.4ZM148.1,209.1L149.8,209.8L148.9,211.2L148.1,210.3ZM121.9,135.9L126.1,136.4L125.3,136.7L121.9,136.2ZM689.4,277.3L692.0,279.2L694.5,281.0L693.7,281.2L690.3,278.7ZM711.9,272.7L714.1,273.1L713.6,274.1L711.9,273.9ZM430.9,148.9L433.1,148.4L433.3,149.2L432.3,150.3L430.9,149.7ZM442.8,146.9L444.1,145.4L443.8,146.5ZM502.3,222.0L504.2,222.0L503.4,222.5Z" fill="none" stroke="#000" stroke-width="0.62" stroke-linejoin="round"/>
<path d="M173.5,125.6L173.5,141.3L176.9,141.6L179.4,143.7L182.8,142.5L186.3,144.5L189.0,147.5L192.1,148.6L191.6,150.6M203.9,160.4L251.0,160.4L251.6,159.9L256.4,161.3L260.6,162.1L262.6,161.8L268.5,164.1L269.1,164.6L270.7,165.5L272.4,166.7L272.6,170.6L271.6,172.2L275.0,171.9L278.4,170.7L278.4,170.0L279.2,169.5L282.6,168.9L285.1,167.2L291.0,167.2L292.2,166.5L293.6,164.6L294.9,163.0L296.5,163.2L297.3,163.8L297.3,165.8L298.0,166.8L298.7,167.3M213.9,188.3L218.0,188.0L224.2,190.3L229.0,190.3L229.0,189.5L231.8,189.5L235.2,193.2L237.4,194.2L238.6,192.9L240.5,192.9L242.3,195.4L243.7,196.8L244.4,198.6L247.6,199.5M256.0,218.8L256.0,217.4L256.9,216.1L259.1,216.1L257.4,214.1L258.1,214.1L258.1,213.2L261.2,213.2L262.6,212.0M261.2,213.2L261.1,216.4L261.6,216.4M262.8,216.7L261.1,218.9L259.6,220.0M260.9,218.9L262.3,219.8L263.5,220.6M264.3,221.3L265.3,220.8L266.5,219.8L268.2,218.6L271.3,217.9M267.0,224.5L268.5,224.7L270.4,224.9M271.8,229.6L271.8,228.1L272.3,227.1M281.1,228.8L280.2,231.1M290.9,209.8L290.7,211.5L290.5,213.4M290.4,223.5L288.7,225.7L289.5,228.1L289.5,230.8L293.4,231.5L294.6,233.0L297.8,232.8L297.3,235.7L298.1,237.5L297.3,238.6L298.7,241.3M298.7,241.3L293.9,240.4L294.9,241.6L293.6,242.3L294.6,245.0L293.7,250.4M293.7,250.4L292.4,249.7L288.7,247.4L286.8,245.0L284.6,243.5L282.9,242.6L280.9,242.1L278.7,240.9M284.6,243.5L284.3,245.8L282.4,247.7L279.5,249.1L278.9,251.1L277.3,251.8L276.0,250.7L276.2,249.1M310.5,228.9L308.6,232.0L308.1,233.3L309.3,234.5M309.3,234.5L307.5,236.2L305.4,236.7L302.7,236.4L303.7,239.1L304.7,239.6L303.7,240.1L301.2,241.9L299.0,241.3L298.7,241.3M309.3,234.5L310.5,234.8L310.8,235.9L311.2,236.7L310.5,238.7L311.0,240.3L312.4,241.1L313.9,240.8L316.4,240.1L317.4,240.1L319.6,239.4L322.3,239.6L323.0,239.1L324.5,236.5L324.7,235.9M315.2,233.1L315.1,234.5L313.9,236.5L315.1,237.7L316.4,240.1M320.6,233.5L320.0,234.8L320.6,237.5L319.6,239.4M293.7,250.4L288.7,251.9L287.0,254.5L288.2,255.6L286.8,256.0L288.7,258.5L289.9,260.2L292.6,259.4L292.6,261.9L294.3,261.8M294.3,261.8L295.8,264.4L295.3,266.5L294.9,269.2L295.3,270.7L294.3,272.6L294.4,272.9L292.9,274.3M294.3,261.8L296.5,261.9L299.2,260.0L301.4,259.9L301.5,261.7L302.0,263.6L305.4,264.6L307.5,266.1L309.7,266.6L310.2,270.9L313.2,270.9L313.4,272.6L314.7,274.1L314.2,275.4L313.7,276.8L313.5,277.5M313.5,277.5L312.0,275.9L307.6,276.5L306.6,278.0L306.0,280.9M306.0,280.9L303.9,280.5L303.2,281.9L301.7,280.7L300.0,280.2L298.3,281.9M294.4,272.9L295.1,273.8L296.1,276.1L296.6,279.7L297.1,281.9L298.3,281.9M298.3,281.9L298.7,282.2L298.1,283.9L296.3,284.7L296.1,287.8L296.5,288.8L295.1,290.2L293.9,292.4L293.6,294.7L292.7,296.6L293.6,299.1L293.9,301.2L292.9,303.0L291.9,305.0L291.6,307.6L290.7,311.0L290.5,314.4L290.7,316.9L291.4,319.4L290.5,322.0L289.7,323.7L288.2,327.0L288.5,329.2L289.7,329.6L290.2,331.3L294.4,331.5L296.3,331.9M295.9,332.4L295.9,336.2M306.0,280.9L308.8,283.6L312.2,284.7L314.4,286.1L312.9,289.3L317.3,289.5L319.6,286.6M313.5,277.5L314.1,280.7L317.6,281.0L318.3,283.9L320.1,284.1L319.6,286.6M319.6,286.6L321.2,287.8L321.0,289.3L317.6,291.2L314.6,294.4L313.7,297.4L313.2,300.6M314.6,294.4L317.4,295.6L320.6,297.3L322.0,298.6L321.7,300.3M408.3,183.9L409.0,185.1L409.1,187.0L409.8,188.7L405.9,189.8L405.7,191.0L403.5,192.5L401.0,193.2L397.3,194.7L397.3,196.4L389.7,196.4M397.3,196.4L397.3,199.3L391.7,199.3L391.7,203.7L389.8,204.7L390.0,207.3L383.4,207.3M397.3,197.1L403.9,201.0L414.0,207.6L414.0,208.3L417.4,209.8L417.6,211.2L419.1,211.0L421.8,210.3L424.7,207.9L432.3,203.5L431.6,202.2L429.3,201.7L428.7,198.5L428.6,195.4L428.1,192.2L427.4,189.0L426.0,188.3L424.7,186.1L425.9,184.6L426.0,183.6L425.9,181.6L426.5,180.9M403.9,201.0L401.0,201.0L402.5,215.4L402.7,217.1L396.1,217.2L393.6,217.8L392.5,216.9L391.4,218.3L389.3,216.1L387.5,215.2L384.4,215.4M428.1,192.2L429.4,191.0L429.3,189.5L431.5,188.5L431.5,187.3M454.3,189.8L454.3,206.1L454.3,209.5L452.6,209.5L452.6,210.3L452.6,216.7L450.7,216.9L450.1,219.3L448.9,221.8L450.1,224.7L450.7,224.7M432.3,203.5L436.0,205.1L437.4,204.4L452.6,210.3M454.3,206.1L474.4,206.1M437.4,204.4L438.9,208.8L438.2,214.7L435.0,220.1L432.3,221.1L428.1,221.6L423.8,221.3L420.5,220.1L418.1,223.5L416.7,228.1L416.6,232.5M419.1,211.0L419.1,215.6L417.9,217.1L413.7,217.9L412.3,218.1L408.6,219.3L404.7,221.0L404.6,221.8L403.0,223.3L402.7,225.7L404.4,226.9L407.4,227.2L407.1,224.7L412.0,224.5L413.5,224.7L416.1,223.2L418.1,223.5M412.3,218.1L413.7,220.8L415.7,222.3L416.1,223.2M391.4,218.3L391.9,220.6L392.7,222.3L396.8,222.3L398.0,224.7L398.5,226.0L401.5,225.5L402.7,225.7M383.7,222.3L386.3,221.8L388.8,221.8L392.7,222.3M388.8,221.8L388.8,223.5L386.6,224.7M383.6,220.3L388.7,220.3L388.7,221.0L383.6,221.1M389.5,228.1L390.9,226.6L393.4,226.4L394.6,228.9L395.9,230.8L397.6,230.4L399.3,233.1L399.3,235.9M394.6,228.9L392.5,231.6M398.5,226.0L398.1,228.1L397.6,230.4M406.8,234.7L407.3,230.6L407.4,227.2M412.0,224.5L412.8,227.2L413.0,229.4L414.0,233.0M413.5,224.7L414.7,228.1L414.7,232.8M426.4,235.5L427.7,232.3L431.1,232.0L433.1,228.9L434.8,226.4L436.7,222.7L435.9,221.1L435.0,220.1M435.9,221.1L437.4,222.8L437.4,226.4L435.5,227.1L437.7,230.6L443.5,229.8L445.0,228.1L447.5,226.9L450.7,224.7L452.9,229.3L454.8,230.8L458.4,234.8L454.8,234.8L450.1,236.4L446.7,235.9L445.0,234.7L443.5,237.4L442.3,244.1L439.4,247.5L438.9,249.9L437.7,250.6L436.4,251.6L434.7,251.6L432.6,253.1M437.7,230.6L436.5,233.0L436.9,235.5L439.2,239.6L434.5,239.6L431.1,239.6L428.6,239.4M439.2,239.6L440.1,237.4L443.5,237.4M428.6,241.6L431.1,241.6L431.1,239.6M430.8,249.9L432.1,249.2L431.6,247.4L433.1,247.2L436.4,246.5L436.5,244.3L435.5,243.6L436.5,241.8L434.3,241.3L434.5,239.6M452.6,228.6L454.3,225.9L459.2,227.1L461.1,225.9L464.4,226.7L466.6,223.0L468.2,222.7L469.3,227.2L469.7,227.2L470.0,225.4L472.7,221.8L473.7,219.1L474.8,214.4L477.3,212.8M473.7,219.1L476.3,218.4L478.0,218.6L481.0,219.4L483.7,222.2L484.6,224.7L484.2,225.4L486.4,228.1L491.5,229.8L493.2,229.8L488.1,234.8L484.7,235.7L482.9,236.7L478.8,237.4L476.3,237.2L472.9,235.9L472.7,235.5L471.2,234.0L469.2,231.5L467.8,229.8L469.7,227.2M483.7,222.2L485.1,223.8M482.9,236.7L481.4,238.6L481.4,243.3L482.2,246.2M458.4,234.8L461.9,235.9L464.1,237.4L466.1,237.2L469.5,236.2L472.7,235.5M469.5,236.2L470.4,237.4L471.2,240.8L470.4,241.6L469.3,243.1L469.3,245.0L475.6,248.4L475.8,249.2L478.3,251.3M464.1,237.4L463.9,239.2L465.0,239.7L462.2,243.3L462.1,245.7L461.1,247.9L461.4,248.9L461.7,250.9L464.1,257.2L467.7,259.2L469.5,259.4M469.3,245.0L463.6,245.0L462.1,245.7M463.6,245.0L464.1,247.4L463.6,249.2L462.8,250.6L461.7,250.9M461.1,247.9L464.1,247.4M433.1,253.3L440.1,253.3L441.8,257.0L444.8,256.8L444.8,255.1L448.9,255.6L448.9,259.4L449.6,262.2L452.6,261.7L454.8,262.2L456.0,263.4L458.0,262.9L460.0,264.4L461.1,266.0L462.4,266.0L462.4,263.9L460.0,263.4L460.4,258.5L460.9,257.7L464.1,257.2M452.6,261.7L452.6,265.3L449.2,265.3L449.2,270.7L451.6,273.1L454.8,273.4L457.7,273.8L460.7,271.2L463.4,269.7L467.8,267.0L468.2,264.4L467.7,259.2M432.0,272.6L435.7,272.7L443.3,272.7L447.5,273.6L451.6,273.1M470.5,262.9L472.6,262.6L477.1,262.4L480.3,261.1M467.8,267.0L470.4,267.8L472.6,268.7L471.7,272.2L470.0,270.9L470.5,267.8L470.5,262.9M463.4,269.7L467.7,271.6L467.3,275.1L467.7,277.1L466.8,279.3L465.0,281.2L466.1,284.7L466.0,287.1L466.3,288.6L467.7,288.7M454.8,273.4L456.0,276.3L458.9,278.0L459.4,279.8L461.7,280.9L465.0,281.2M447.5,274.3L447.5,280.5L445.8,280.5L445.8,285.3L445.8,291.3L441.6,291.9L439.9,291.7M445.8,285.3L447.2,288.6L450.9,286.1L455.1,286.8L455.8,285.1L457.7,283.2L459.9,281.5L461.7,280.9M457.7,293.4L459.4,291.9L461.6,292.5L461.4,294.1L459.7,295.1L458.2,294.6L457.7,293.4M464.1,288.6L465.3,286.9L466.3,287.8L466.1,289.3L464.4,289.3L464.1,288.6M396.9,172.4L398.3,172.6L401.5,172.9L400.3,173.9L400.3,175.3L400.2,176.1L399.7,176.6L400.2,177.3L399.8,178.7L399.5,180.4M409.0,169.9L410.8,170.7L413.2,170.9L414.9,171.4L417.4,171.6M424.7,169.2L423.7,168.2L423.8,166.8L423.5,165.8L423.8,165.7L425.5,165.5L426.2,165.0L427.2,165.7L427.7,164.8L429.1,165.0L429.8,164.1L432.6,163.8L433.0,164.3L435.2,164.6L435.0,165.8L435.3,166.2M423.5,165.8L422.3,165.1L422.3,164.5L423.8,163.1L424.9,162.8L425.9,160.4L423.3,160.1L422.8,159.6L421.8,159.6L420.1,158.7L418.9,158.2L417.2,157.4L416.4,156.9M417.8,156.3L420.5,156.2L421.8,156.7L421.6,157.4L422.2,157.4L422.8,158.2L422.3,158.5L423.0,159.1L422.8,159.6M422.2,157.4L422.5,156.2L422.2,155.7L423.5,155.3L423.8,154.8L424.0,153.3L424.2,153.1M426.5,150.4L428.7,150.6M436.2,152.1L435.9,153.8L436.9,155.2L437.4,157.0L436.2,157.0L434.0,157.9L432.6,158.2L433.1,158.9L435.3,160.7L434.0,161.6L433.7,161.9L434.0,162.9L432.6,162.8L429.8,162.9L428.2,162.9L426.5,162.6L424.9,162.8M428.2,162.9L428.2,163.6L429.8,164.1M435.2,164.6L437.4,164.5L439.2,164.1L439.9,163.1L440.9,162.1L440.6,161.1L437.4,160.4L435.3,160.7M435.0,166.3L437.9,166.3L438.6,165.1L440.1,164.6L441.6,165.7L443.8,165.7L446.3,165.1L448.4,163.8L450.7,162.1L449.4,161.4L445.8,161.8L443.8,162.4L440.9,162.1M439.2,164.1L440.1,164.6M437.4,157.0L439.6,157.9L440.6,158.2L442.5,158.7L443.8,159.6L441.1,160.6L440.6,161.1M443.8,159.6L445.8,160.1L450.2,160.2L452.8,157.2L451.9,156.2L452.4,154.1L451.8,152.1L450.6,151.3L445.5,151.3M450.2,160.2L449.4,161.4M450.6,151.3L450.4,150.3L448.0,149.7M447.7,148.4L452.6,148.1L454.3,148.2L457.0,149.1L455.6,150.4L455.1,151.6L451.8,152.1M453.1,145.4L456.0,145.5L458.4,146.0L458.5,144.7L459.4,142.8M457.0,149.1L459.7,148.4L458.9,146.4L458.4,146.0M451.9,156.2L454.3,155.5L458.5,156.0L463.6,156.5L465.8,155.2L465.3,153.3L467.3,152.8L464.4,150.3L459.7,148.4M465.8,155.2L470.2,155.7L472.2,158.0L476.3,158.9L479.7,159.4L479.3,162.1L476.6,163.6M450.7,162.1L453.4,162.2L457.0,161.7L459.5,166.3L459.7,166.4L462.2,166.8M457.0,161.7L458.5,161.3L461.2,162.3L462.9,164.8L461.1,165.0L460.9,166.2L459.7,166.4M446.3,165.1L448.2,167.5L450.1,167.7L450.4,168.5L450.9,169.2L455.1,169.5L457.7,168.7L460.4,169.4M450.4,168.5L449.9,170.6L450.9,170.2L449.9,171.7L450.9,173.4L453.4,173.1L456.7,172.8L459.4,172.2M456.7,172.8L456.5,173.6L456.0,174.4M445.8,176.1L446.8,175.5L447.5,174.3L450.7,173.4L450.9,173.4M447.5,174.3L446.7,173.3L446.8,172.2L445.8,171.2L444.8,172.4M445.8,171.2L449.9,171.7M443.8,165.7L444.8,167.3L444.5,168.9L445.0,169.5L443.3,171.2M444.8,167.3L440.6,166.8L438.7,166.8L439.1,168.4L441.8,170.6L443.3,171.2M445.8,171.2L444.5,169.7L445.0,169.5M430.9,143.7L432.0,142.1L433.1,141.5L432.6,140.1L432.5,138.9L432.8,136.7L432.3,135.7L435.2,134.0L436.5,131.5L439.1,128.4L442.8,127.4L446.3,126.5L448.5,126.1L454.1,127.2L456.0,125.4L459.4,124.7L460.9,126.5L464.3,125.6M446.3,126.5L451.8,128.4L452.1,129.3L452.9,132.0M460.9,126.5L460.2,127.9L462.8,128.8L461.2,130.1L462.9,132.2L462.2,133.7L465.3,136.9L459.0,140.9M399.7,150.2L398.1,151.2L399.7,151.8L401.3,151.8M473.2,182.7L473.9,181.0L476.3,181.0L483.7,180.5L487.8,180.5L487.1,176.6L487.8,176.1L485.6,173.8L482.2,173.1M479.7,169.9L483.9,170.2L486.3,171.2L490.5,172.6L492.9,173.6L494.2,172.6M485.6,173.8L488.1,173.4L490.5,172.6M488.1,173.4L490.7,176.5L490.7,177.5M487.8,176.1L490.7,177.5L493.2,176.1L494.7,178.3M483.7,180.5L481.4,185.1L477.6,186.8L474.3,188.7L472.6,188.0M471.4,187.3L472.7,187.0L473.6,184.9L472.9,184.7M477.6,186.8L478.3,188.8L474.6,190.0L476.3,191.7L475.4,192.5L472.9,193.9L471.2,193.6M472.2,188.0L472.1,190.0L471.2,193.4M469.9,190.3L471.0,193.4M478.3,188.8L480.3,189.3L483.1,190.7L487.6,193.9L490.7,194.1L492.2,192.5L493.2,192.5M490.7,194.1L492.7,195.1L493.9,195.1M487.8,180.5L488.8,182.4L490.3,182.7L488.8,185.8L490.0,187.5L492.9,189.5L492.7,190.9L494.0,192.5M484.4,215.6L485.3,213.7L486.4,213.9L490.7,214.2L491.5,214.7L493.5,212.5L500.0,211.2L505.0,209.5L506.2,206.1L505.4,204.9L501.0,204.6L499.3,202.4M500.0,211.2L501.8,215.1M505.4,204.9L506.7,202.5L507.4,201.2M497.9,201.5L498.6,201.7M503.2,180.1L505.9,179.0L508.8,178.7L512.3,179.9L515.5,181.4L515.5,183.1L514.3,186.3L515.0,190.0L516.5,190.2L515.0,192.9L516.5,194.9L518.2,195.4L518.2,197.3L518.9,198.3L516.2,200.7M515.0,192.9L517.7,193.6L520.3,193.6L524.2,192.7L524.3,191.0L526.7,189.8L529.2,189.3L529.2,187.3L530.9,187.0L530.4,185.8L532.3,185.6L533.1,183.8L533.1,182.4L535.5,180.9L538.7,180.4M515.5,183.1L518.6,183.4L521.1,181.9L524.5,180.0L526.7,180.4L529.6,180.5L530.8,179.2L532.8,178.7L533.1,181.2L536.3,180.0L538.7,180.4M524.5,180.0L523.0,178.7L517.7,175.6L515.2,173.6L513.5,171.9L511.1,170.9L508.4,173.4L506.7,173.4L504.5,172.2L503.4,171.7L500.8,172.6M506.7,173.4L506.7,167.2L511.1,166.2L515.4,168.5L516.9,169.7L521.8,169.4L523.8,170.6L523.7,171.6L524.5,172.2L527.0,173.9L527.9,174.6L531.9,171.8L533.6,170.9L536.3,170.6L537.7,170.2L540.1,170.9L545.8,170.9L547.7,171.9L547.7,167.2L551.6,166.8L552.4,163.5L556.6,163.7L557.0,161.4L559.7,160.1M559.7,160.1L556.1,159.4L552.4,157.0L547.3,157.4L543.8,153.1L541.4,151.6L536.3,151.9L536.2,152.8L532.4,151.8L528.7,149.7L522.3,151.3L515.2,151.9L516.2,156.5L513.5,157.0L511.1,157.0L506.2,157.7L500.8,156.2L497.9,155.8L494.4,157.7L491.5,160.1L490.7,161.4L493.2,162.4L494.9,164.3L495.1,165.0M547.7,171.9L542.1,173.9L536.7,176.5L538.7,180.4M531.9,171.8L533.8,173.9L535.5,174.6L532.1,175.3L531.3,176.3L536.7,176.5M531.3,176.3L527.0,176.5L526.0,177.0L527.0,179.0L527.5,180.5M560.5,160.1L565.8,164.0L565.9,166.8L573.4,168.5L575.1,171.1L582.9,171.2L589.6,172.9L598.8,171.1L601.3,169.4L601.3,167.2L604.2,167.5L607.7,166.3L610.6,164.5L614.7,164.3L614.5,163.5L612.5,162.3L607.6,162.3L609.4,159.1M560.5,160.1L563.6,158.9L568.3,157.4L572.0,158.7L578.3,157.9L577.4,157.0L579.3,155.2L584.9,156.5L585.1,157.7L592.5,158.2L595.5,159.9L599.3,160.2L603.2,159.4L606.4,158.4L609.4,159.1L611.3,159.6L613.7,158.5L616.4,154.3L615.2,154.0L617.0,153.1L621.1,152.8L624.5,153.6L627.7,158.4L627.9,159.1L632.9,160.6L633.4,162.6L636.2,162.6L640.4,161.4L637.2,167.0L635.1,166.7L633.6,167.5L634.1,169.7L632.9,171.6M632.9,171.6L631.8,170.6L628.5,172.2L626.7,172.6L622.4,175.6M626.3,179.2L629.2,178.0M594.7,206.9L592.5,206.1L592.3,204.6L590.1,203.9L586.2,205.2L584.7,205.4L584.0,207.4L583.2,207.4L581.2,206.9L579.5,206.1L579.8,204.2L579.0,202.7L576.9,202.7L577.3,201.3L579.0,199.5L579.0,196.8L576.8,195.6M576.8,195.6L574.7,197.1L572.9,199.3L572.0,200.7L571.4,202.7L569.8,202.7L570.0,205.7L569.3,206.1L568.7,207.3L568.1,208.3M562.7,206.1L562.4,205.2L562.1,202.2L561.0,201.9L561.0,199.7L561.5,198.5L563.9,199.3L563.9,200.5L568.3,201.0L566.3,202.5L566.3,203.5L568.1,204.4L568.7,207.3M576.8,195.6L574.4,193.6L571.0,193.7L567.6,196.3L567.1,196.3L562.6,195.4L562.4,197.1L561.0,196.1L557.5,195.9L554.1,193.9L552.4,193.6L549.2,192.2L545.6,190.5L545.1,188.3L546.5,188.0L545.3,185.1L544.0,183.2L543.6,183.2L540.6,182.4L538.7,180.4M567.1,196.3L567.6,197.8L562.6,198.1L562.4,197.1M561.0,196.1L561.0,198.6L555.8,198.1L554.1,196.9L547.5,194.6L549.2,192.2M527.4,203.2L532.1,202.0L530.4,200.2L530.9,196.3L529.7,197.3L535.2,194.2L537.0,192.5L538.2,190.7L539.4,188.7L537.2,187.5L538.0,184.4L542.3,184.1L543.6,183.2M578.8,226.5L579.8,223.3L579.6,221.0L578.1,217.9L578.8,216.2L577.4,212.8L576.8,212.0L577.8,209.8L581.3,208.9L583.2,207.4M581.3,208.9L582.0,210.3L583.2,210.3L582.9,213.7L584.6,212.8L587.9,212.3L589.3,213.9L589.3,215.7L590.6,217.2L590.5,218.9L590.0,219.1L586.2,219.3L585.4,220.3L586.1,223.5M584.7,205.4L586.2,208.1L588.8,208.8L587.9,210.3L590.0,211.8L592.2,214.5L593.9,217.9L594.0,218.4L593.9,222.5L591.3,224.7L591.0,223.7L588.6,225.7M590.5,218.9L591.3,219.6L594.0,218.4M581.3,232.5L583.0,233.7L584.7,232.8M597.4,239.9L598.9,241.8L601.1,241.6L604.9,240.9L606.2,239.9L607.4,238.2L607.9,236.2L610.9,236.2M650.5,247.7L650.5,258.7M621.9,259.2L623.6,258.9L623.5,258.0" fill="none" stroke="#000" stroke-width="0.5" stroke-linejoin="round"/>
</g>
<rect x="100.5" y="97.5" width="620" height="299" fill="none" stroke="#000" stroke-width="1"/>
<rect x="100.5" y="468.5" width="620" height="31" fill="url(#jet)" stroke="#000" stroke-width="1"/>
<path d="M166.6,499.5V493.5M234.1,499.5V493.5M301.5,499.5V493.5M369.0,499.5V493.5M436.5,499.5V493.5M503.9,499.5V493.5M571.4,499.5V493.5M638.9,499.5V493.5M706.3,499.5V493.5" stroke="#000" stroke-width="0.7" fill="none"/>
<text transform="translate(166.6,518.6) scale(1,1.07)" font-size="16.2" text-anchor="middle" font-family="DejaVu Sans, Liberation Sans, sans-serif">0.4</text>
<text transform="translate(234.1,518.6) scale(1,1.07)" font-size="16.2" text-anchor="middle" font-family="DejaVu Sans, Liberation Sans, sans-serif">0.8</text>
<text transform="translate(301.5,518.6) scale(1,1.07)" font-size="16.2" text-anchor="middle" font-family="DejaVu Sans, Liberation Sans, sans-serif">1.2</text>
<text transform="translate(369.0,518.6) scale(1,1.07)" font-size="16.2" text-anchor="middle" font-family="DejaVu Sans, Liberation Sans, sans-serif">1.6</text>
<text transform="translate(436.5,518.6) scale(1,1.07)" font-size="16.2" text-anchor="middle" font-family="DejaVu Sans, Liberation Sans, sans-serif">2.0</text>
<text transform="translate(503.9,518.6) scale(1,1.07)" font-size="16.2" text-anchor="middle" font-family="DejaVu Sans, Liberation Sans, sans-serif">2.4</text>
<text transform="translate(571.4,518.6) scale(1,1.07)" font-size="16.2" text-anchor="middle" font-family="DejaVu Sans, Liberation Sans, sans-serif">2.8</text>
<text transform="translate(638.9,518.6) scale(1,1.07)" font-size="16.2" text-anchor="middle" font-family="DejaVu Sans, Liberation Sans, sans-serif">3.2</text>
<text transform="translate(706.3,518.6) scale(1,1.07)" font-size="16.2" text-anchor="middle" font-family="DejaVu Sans, Liberation Sans, sans-serif">3.6</text>
<text transform="translate(720,540.7) scale(1,1.07)" font-size="16.2" text-anchor="end" font-family="DejaVu Sans, Liberation Sans, sans-serif">1e17</text>
<text transform="translate(409.5,543.6) scale(1,1.07)" font-size="16.2" text-anchor="middle" font-family="DejaVu Sans, Liberation Sans, sans-serif">VTEC</text>
<text x="410.5" y="89.6" font-size="20.08" text-anchor="middle" font-family="DejaVu Sans, Liberation Sans, sans-serif">Nequick-Galileo VTEC : 02 Hour of 277 DOY [2019/10/04]</text>
</svg>
</body></html>
